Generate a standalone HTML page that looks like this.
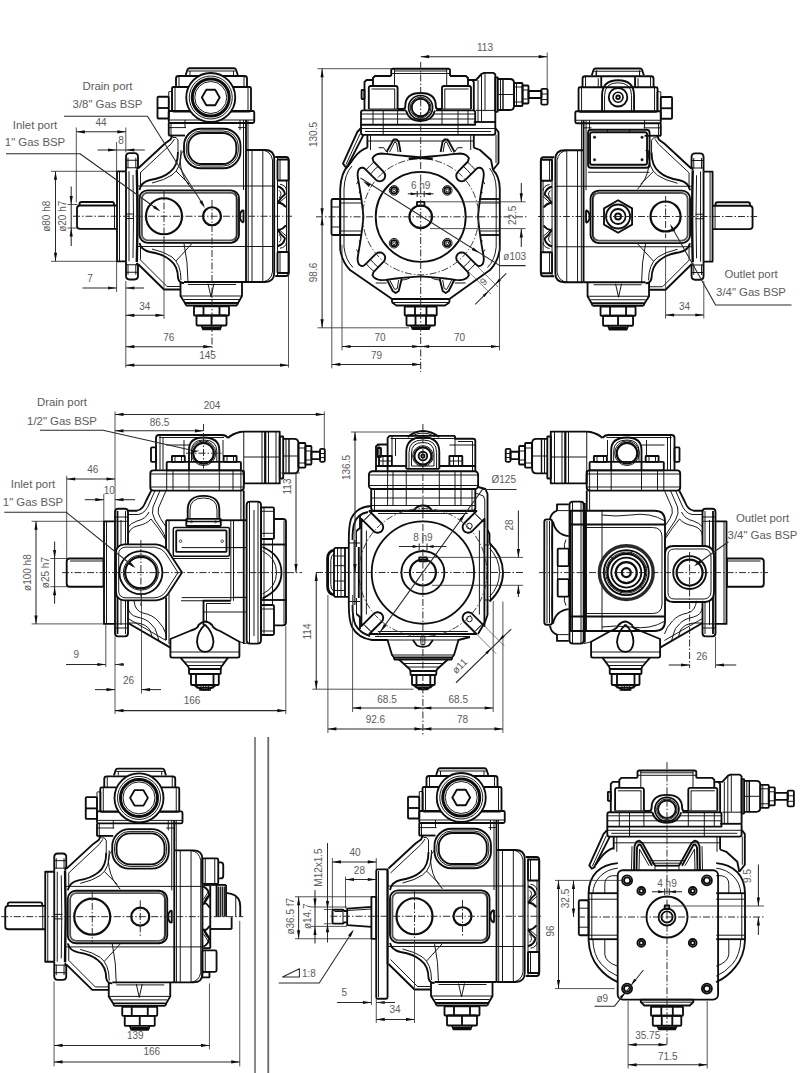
<!DOCTYPE html>
<html><head><meta charset="utf-8"><title>Pump dimensions</title>
<style>
html,body{margin:0;padding:0;background:#fff;}
body{width:800px;height:1073px;overflow:hidden;}
svg{display:block;font-family:"Liberation Sans",sans-serif;}
</style></head><body>
<svg width="800" height="1073" viewBox="0 0 800 1073">
<rect width="800" height="1073" fill="#fff"/>
<path d="M 185.7 75.0 L 187.5 69.5 Q 188.0 68.25 189.5 68.25 L 234.0 68.25 Q 235.5 68.25 236.0 69.5 L 237.75 75.0" fill="none" stroke="#0d0d0d" stroke-width="1.85" stroke-linejoin="round"/>
<line x1="188" y1="71" x2="235.5" y2="71" stroke="#0d0d0d" stroke-width="0.95"/>
<line x1="190" y1="71" x2="190" y2="75" stroke="#0d0d0d" stroke-width="0.95"/>
<line x1="233.5" y1="71" x2="233.5" y2="75" stroke="#0d0d0d" stroke-width="0.95"/>
<path d="M 176.0 87.0 L 176.0 78.5 Q 176.0 76.0 178.5 76.0 L 244.5 76.0 Q 247.0 76.0 247.0 78.5 L 247.0 87.0" fill="none" stroke="#0d0d0d" stroke-width="1.85" stroke-linejoin="round"/>
<line x1="179" y1="76" x2="179" y2="87" stroke="#0d0d0d" stroke-width="0.95"/>
<line x1="244" y1="76" x2="244" y2="87" stroke="#0d0d0d" stroke-width="0.95"/>
<rect x="172" y="87" width="79" height="24.5" rx="1.5" fill="none" stroke="#0d0d0d" stroke-width="1.85"/>
<line x1="175" y1="87" x2="175" y2="111" stroke="#0d0d0d" stroke-width="0.95"/>
<line x1="248" y1="87" x2="248" y2="111" stroke="#0d0d0d" stroke-width="0.95"/>
<rect x="168.75" y="111" width="85.5" height="12" rx="1.5" fill="none" stroke="#0d0d0d" stroke-width="1.85"/>
<line x1="168.75" y1="120" x2="254.25" y2="120" stroke="#0d0d0d" stroke-width="0.95"/>
<circle cx="210.75" cy="97.5" r="24.5" fill="#fff" stroke="#0d0d0d" stroke-width="1.85"/>
<circle cx="210.75" cy="97.5" r="21.5" fill="none" stroke="#0d0d0d" stroke-width="0.95"/>
<circle cx="210.75" cy="97.5" r="18.5" fill="none" stroke="#0d0d0d" stroke-width="3"/>
<circle cx="210.75" cy="97.5" r="16" fill="none" stroke="#0d0d0d" stroke-width="0.95"/>
<polygon points="219.65,97.5 215.2,105.21 206.3,105.21 201.85,97.5 206.3,89.79 215.2,89.79" fill="none" stroke="#0d0d0d" stroke-width="1.85" stroke-linejoin="round"/>
<rect x="157.5" y="96.75" width="11.25" height="21.75" rx="1" fill="none" stroke="#0d0d0d" stroke-width="1.85"/>
<line x1="157.5" y1="108" x2="168.75" y2="108" stroke="#0d0d0d" stroke-width="1.85"/>
<rect x="168.75" y="91.5" width="3.75" height="19.5" rx="0.5" fill="none" stroke="#0d0d0d" stroke-width="0.95"/>
<line x1="168.75" y1="123" x2="168.75" y2="135.5" stroke="#0d0d0d" stroke-width="1.85"/>
<line x1="171" y1="123" x2="171" y2="137" stroke="#0d0d0d" stroke-width="0.95"/>
<line x1="246" y1="120" x2="246" y2="150" stroke="#0d0d0d" stroke-width="1.85"/>
<line x1="243.5" y1="120" x2="243.5" y2="190" stroke="#0d0d0d" stroke-width="0.95"/>
<line x1="248" y1="120" x2="248" y2="150" stroke="#0d0d0d" stroke-width="0.95"/>
<line x1="168.5" y1="127.6" x2="186" y2="127.6" stroke="#0d0d0d" stroke-width="0.95"/>
<line x1="238" y1="127.6" x2="246" y2="127.6" stroke="#0d0d0d" stroke-width="0.95"/>
<line x1="168.5" y1="135.5" x2="185" y2="135.5" stroke="#0d0d0d" stroke-width="1.85"/>
<line x1="185" y1="120" x2="185" y2="128" stroke="#0d0d0d" stroke-width="0.95"/>
<line x1="240" y1="120" x2="240" y2="130" stroke="#0d0d0d" stroke-width="0.95"/>
<rect x="184" y="128.75" width="56.5" height="39.5" rx="17" fill="none" stroke="#0d0d0d" stroke-width="1.85"/>
<rect x="186.3" y="131" width="52" height="35" rx="15" fill="none" stroke="#0d0d0d" stroke-width="0.95"/>
<rect x="188.3" y="133" width="48" height="31" rx="13.5" fill="none" stroke="#0d0d0d" stroke-width="1.85"/>
<path d="M 138.0 168.5 L 165.0 143.5 L 170.5 139.5 L 172.5 135.5" fill="none" stroke="#0d0d0d" stroke-width="1.85" stroke-linejoin="round"/>
<path d="M 174.5 139.0 L 171.0 144.0 L 140.0 173.0" fill="none" stroke="#0d0d0d" stroke-width="0.95" stroke-linejoin="round"/>
<path d="M 173.0 137.5 L 176.0 137.5 L 178.0 140.0 L 178.0 152.0" fill="none" stroke="#0d0d0d" stroke-width="0.95" stroke-linejoin="round"/>
<path d="M 178.0 152.0 Q 178.0 166.0 170.0 172.0 Q 163.0 178.0 150.0 180.0 Q 141.0 182.0 139.5 190.0" fill="none" stroke="#0d0d0d" stroke-width="1.85" stroke-linejoin="round"/>
<path d="M 181.0 150.0 Q 182.0 168.0 172.0 175.0 Q 165.0 180.0 152.0 183.0" fill="none" stroke="#0d0d0d" stroke-width="0.95" stroke-linejoin="round"/>
<path d="M 184.0 150.0 Q 180.0 153.0 180.0 160.0 Q 181.0 175.0 188.0 184.0 L 192.0 189.0" fill="none" stroke="#0d0d0d" stroke-width="0.95" stroke-linejoin="round"/>
<path d="M 176.0 171.0 L 189.0 184.0" fill="none" stroke="#0d0d0d" stroke-width="0.95" stroke-linejoin="round"/>
<path d="M 246.0 150.0 L 265.0 150.0 Q 274.2 150.0 274.2 159.0 L 274.2 273.0 Q 274.2 282.0 265.0 282.0 L 246.0 282.0" fill="none" stroke="#0d0d0d" stroke-width="1.85" stroke-linejoin="round"/>
<line x1="246" y1="150" x2="246" y2="282" stroke="#0d0d0d" stroke-width="1.85"/>
<line x1="248.2" y1="150" x2="248.2" y2="282" stroke="#0d0d0d" stroke-width="0.95"/>
<line x1="252" y1="150" x2="252" y2="282" stroke="#0d0d0d" stroke-width="0.95"/>
<line x1="262.8" y1="150" x2="262.8" y2="282" stroke="#0d0d0d" stroke-width="0.95"/>
<path d="M 262.0 150.0 Q 271.0 151.0 272.5 160.0 L 272.5 272.0 Q 271.0 281.0 262.0 282.0" fill="none" stroke="#0d0d0d" stroke-width="0.95" stroke-linejoin="round"/>
<rect x="139.5" y="190.3" width="99.5" height="52.5" rx="8" fill="none" stroke="#0d0d0d" stroke-width="1.85"/>
<rect x="141.9" y="192.7" width="94.7" height="47.7" rx="6" fill="none" stroke="#555" stroke-width="1.85"/>
<path d="M 230.0 190.3 Q 237.0 191.0 237.0 199.0 L 237.0 234.0 Q 237.0 242.0 230.0 242.8" fill="none" stroke="#0d0d0d" stroke-width="0.95" stroke-linejoin="round"/>
<line x1="137" y1="186" x2="274" y2="186" stroke="#0d0d0d" stroke-width="0.95"/>
<line x1="137" y1="246.5" x2="274" y2="246.5" stroke="#0d0d0d" stroke-width="0.95"/>
<circle cx="164" cy="216.25" r="18" fill="none" stroke="#0d0d0d" stroke-width="2.2"/>
<circle cx="212" cy="216.25" r="9" fill="none" stroke="#0d0d0d" stroke-width="2.2"/>
<path d="M 243.5 210.0 Q 240.0 211.0 240.0 216.25 Q 240.0 221.5 243.5 222.5" fill="none" stroke="#0d0d0d" stroke-width="1.85" stroke-linejoin="round"/>
<line x1="243.5" y1="210" x2="243.5" y2="222.5" stroke="#0d0d0d" stroke-width="1.85"/>
<path d="M 138.0 264.0 L 164.0 289.5 L 180.5 289.5" fill="none" stroke="#0d0d0d" stroke-width="1.85" stroke-linejoin="round"/>
<path d="M 140.0 259.5 L 167.0 286.5 L 180.0 286.5" fill="none" stroke="#0d0d0d" stroke-width="0.95" stroke-linejoin="round"/>
<path d="M 139.5 243.0 Q 141.0 250.0 150.0 252.0 Q 163.0 254.0 170.0 260.0 Q 178.0 266.0 178.0 278.0 Q 179.0 283.0 184.0 283.0" fill="none" stroke="#0d0d0d" stroke-width="1.85" stroke-linejoin="round"/>
<path d="M 152.0 249.0 Q 165.0 252.0 172.0 257.0 Q 181.0 264.0 181.0 280.0" fill="none" stroke="#0d0d0d" stroke-width="0.95" stroke-linejoin="round"/>
<path d="M 176.0 261.0 Q 186.0 250.0 192.0 243.5" fill="none" stroke="#0d0d0d" stroke-width="0.95" stroke-linejoin="round"/>
<path d="M 184.0 243.5 Q 188.0 262.0 188.0 283.0" fill="none" stroke="#0d0d0d" stroke-width="0.95" stroke-linejoin="round"/>
<line x1="184" y1="282" x2="246" y2="282" stroke="#0d0d0d" stroke-width="1.85"/>
<line x1="188" y1="284.5" x2="236" y2="284.5" stroke="#0d0d0d" stroke-width="0.95"/>
<path d="M 180.5 282.5 L 180.5 296.0 L 185.0 303.0 L 238.0 303.0 L 242.0 296.0 L 242.0 282.5" fill="none" stroke="#0d0d0d" stroke-width="1.85" stroke-linejoin="round"/>
<line x1="180.5" y1="296" x2="242" y2="296" stroke="#0d0d0d" stroke-width="0.95"/>
<line x1="184" y1="299.5" x2="239" y2="299.5" stroke="#0d0d0d" stroke-width="0.95"/>
<line x1="186" y1="305.5" x2="237" y2="305.5" stroke="#0d0d0d" stroke-width="1.85"/>
<line x1="185" y1="303" x2="186" y2="305.5" stroke="#0d0d0d" stroke-width="1.85"/>
<line x1="238" y1="303" x2="237" y2="305.5" stroke="#0d0d0d" stroke-width="1.85"/>
<polyline points="208,283.5 211,297 214,283.5" fill="none" stroke="#0d0d0d" stroke-width="0.95" stroke-linejoin="round"/>
<rect x="194" y="306.3" width="35" height="9.2" rx="0.8" fill="none" stroke="#0d0d0d" stroke-width="1.85"/>
<line x1="203.5" y1="306.3" x2="203.5" y2="315.5" stroke="#0d0d0d" stroke-width="1.85"/>
<line x1="219.5" y1="306.3" x2="219.5" y2="315.5" stroke="#0d0d0d" stroke-width="1.85"/>
<rect x="196.5" y="315.5" width="30" height="10" rx="1" fill="none" stroke="#0d0d0d" stroke-width="1.85"/>
<line x1="211.5" y1="315.5" x2="211.5" y2="325.5" stroke="#0d0d0d" stroke-width="1.85"/>
<path d="M 201.5 325.5 L 203.0 329.3 L 220.0 329.3 L 221.5 325.5" fill="none" stroke="#0d0d0d" stroke-width="1.85" stroke-linejoin="round"/>
<line x1="203" y1="327.8" x2="220" y2="327.8" stroke="#0d0d0d" stroke-width="2.4"/>
<line x1="200" y1="305.5" x2="200" y2="306.3" stroke="#0d0d0d" stroke-width="0.95"/>
<line x1="223" y1="305.5" x2="223" y2="306.3" stroke="#0d0d0d" stroke-width="0.95"/>
<path d="M 275.2 157.0 L 286.0 157.0 Q 288.7 157.0 288.7 160.0 L 288.7 273.0 Q 288.7 276.0 286.0 276.0 L 275.2 276.0" fill="none" stroke="#0d0d0d" stroke-width="1.85" stroke-linejoin="round"/>
<line x1="277.5" y1="157" x2="277.5" y2="276" stroke="#0d0d0d" stroke-width="0.95"/>
<rect x="277.5" y="159.5" width="11.2" height="21" rx="1" fill="none" stroke="#0d0d0d" stroke-width="1.85"/>
<line x1="280" y1="159.5" x2="280" y2="180.5" stroke="#0d0d0d" stroke-width="0.95"/>
<rect x="277.5" y="252" width="11.2" height="21" rx="1" fill="none" stroke="#0d0d0d" stroke-width="1.85"/>
<line x1="280" y1="252" x2="280" y2="273" stroke="#0d0d0d" stroke-width="0.95"/>
<line x1="286.5" y1="180.5" x2="286.5" y2="252" stroke="#0d0d0d" stroke-width="0.95"/>
<path d="M 277.5 186.25 Q 284.0 188.25 285.0 194.25 Q 281.0 197.25 278.0 202.25 Q 283.0 203.25 286.0 207.25" fill="none" stroke="#0d0d0d" stroke-width="1.85" stroke-linejoin="round"/>
<path d="M 279.0 190.25 Q 283.0 193.25 279.0 198.25" fill="none" stroke="#0d0d0d" stroke-width="0.95" stroke-linejoin="round"/>
<path d="M 277.5 204.25 L 286.5 196.25" fill="none" stroke="#0d0d0d" stroke-width="0.95" stroke-linejoin="round"/>
<path d="M 280.0 184.25 Q 286.0 185.25 286.5 190.25" fill="none" stroke="#0d0d0d" stroke-width="0.95" stroke-linejoin="round"/>
<path d="M 277.5 246.25 Q 284.0 244.25 285.0 238.25 Q 281.0 235.25 278.0 230.25 Q 283.0 229.25 286.0 225.25" fill="none" stroke="#0d0d0d" stroke-width="1.85" stroke-linejoin="round"/>
<path d="M 279.0 242.25 Q 283.0 239.25 279.0 234.25" fill="none" stroke="#0d0d0d" stroke-width="0.95" stroke-linejoin="round"/>
<path d="M 277.5 228.25 L 286.5 236.25" fill="none" stroke="#0d0d0d" stroke-width="0.95" stroke-linejoin="round"/>
<path d="M 280.0 248.25 Q 286.0 247.25 286.5 242.25" fill="none" stroke="#0d0d0d" stroke-width="0.95" stroke-linejoin="round"/>
<path d="M 117.0 205.5 L 80.0 205.5 Q 77.0 205.5 77.0 208.5 L 77.0 226.0 Q 77.0 228.8 80.0 228.8 L 117.0 228.8" fill="none" stroke="#0d0d0d" stroke-width="1.85" stroke-linejoin="round"/>
<path d="M 79.5 205.5 L 79.5 204.0 Q 79.5 202.0 81.5 202.0 L 112.0 202.0 Q 114.0 202.0 114.0 204.0 L 114.0 205.5" fill="none" stroke="#0d0d0d" stroke-width="1.85" stroke-linejoin="round"/>
<line x1="114.5" y1="205.5" x2="114.5" y2="228.8" stroke="#0d0d0d" stroke-width="0.95"/>
<polyline points="126,171.3 117,171.3 117,261.3 126,261.3" fill="none" stroke="#0d0d0d" stroke-width="1.85" stroke-linejoin="round"/>
<line x1="119.5" y1="171.3" x2="119.5" y2="261.3" stroke="#0d0d0d" stroke-width="0.95"/>
<line x1="126" y1="171.3" x2="126" y2="261.3" stroke="#0d0d0d" stroke-width="1.85"/>
<line x1="129" y1="171.3" x2="129" y2="261.3" stroke="#0d0d0d" stroke-width="0.95"/>
<path d="M 133.0 175.0 Q 134.0 216.0 133.0 258.0" fill="none" stroke="#0d0d0d" stroke-width="0.95" stroke-linejoin="round"/>
<path d="M 136.8 170.0 Q 138.0 216.0 136.8 262.0" fill="none" stroke="#0d0d0d" stroke-width="2.4" stroke-linejoin="round"/>
<line x1="126" y1="214" x2="134" y2="214" stroke="#0d0d0d" stroke-width="0.95"/>
<line x1="126" y1="218.5" x2="134" y2="218.5" stroke="#0d0d0d" stroke-width="0.95"/>
<path d="M 126.0 171.25 L 126.0 156.75 Q 126.0 153.05 129.5 153.05 L 134.5 153.05 Q 138.0 153.05 138.0 156.75 L 138.0 166.25 L 136.8 169.75" fill="none" stroke="#0d0d0d" stroke-width="1.85" stroke-linejoin="round"/>
<line x1="128" y1="157.75" x2="128" y2="168.25" stroke="#0d0d0d" stroke-width="0.95"/>
<line x1="135.8" y1="157.75" x2="135.8" y2="168.25" stroke="#0d0d0d" stroke-width="0.95"/>
<line x1="126" y1="160.25" x2="138" y2="160.25" stroke="#0d0d0d" stroke-width="0.95"/>
<line x1="126" y1="167.75" x2="138" y2="167.75" stroke="#0d0d0d" stroke-width="0.95"/>
<path d="M 126.0 261.25 L 126.0 275.75 Q 126.0 279.45 129.5 279.45 L 134.5 279.45 Q 138.0 279.45 138.0 275.75 L 138.0 266.25 L 136.8 262.75" fill="none" stroke="#0d0d0d" stroke-width="1.85" stroke-linejoin="round"/>
<line x1="128" y1="274.75" x2="128" y2="264.25" stroke="#0d0d0d" stroke-width="0.95"/>
<line x1="135.8" y1="274.75" x2="135.8" y2="264.25" stroke="#0d0d0d" stroke-width="0.95"/>
<line x1="126" y1="272.25" x2="138" y2="272.25" stroke="#0d0d0d" stroke-width="0.95"/>
<line x1="126" y1="264.75" x2="138" y2="264.75" stroke="#0d0d0d" stroke-width="0.95"/>
<line x1="140.5" y1="173" x2="140.5" y2="188" stroke="#0d0d0d" stroke-width="0.95"/>
<line x1="140.5" y1="244" x2="140.5" y2="259.5" stroke="#0d0d0d" stroke-width="0.95"/>
<line x1="73" y1="216.25" x2="292" y2="216.25" stroke="#222" stroke-width="0.95" stroke-dasharray="7 2 1.5 2"/>
<line x1="164" y1="190" x2="164" y2="243" stroke="#222" stroke-width="0.95" stroke-dasharray="7 2 1.5 2"/>
<line x1="212" y1="200" x2="212" y2="352" stroke="#222" stroke-width="0.95" stroke-dasharray="7 2 1.5 2"/>
<text x="107.5" y="89.5" font-size="11.4" text-anchor="middle" fill="#5c5c5c">Drain port</text>
<text x="107.5" y="108" font-size="11.4" text-anchor="middle" fill="#5c5c5c">3/8" Gas BSP</text>
<text x="35" y="128.7" font-size="11.4" text-anchor="middle" fill="#5c5c5c">Inlet port</text>
<text x="35" y="146.3" font-size="11.4" text-anchor="middle" fill="#5c5c5c">1" Gas BSP</text>
<polyline points="64,116.3 147.5,116.3 203.5,205.5" fill="none" stroke="#2a2a2a" stroke-width="1.05" stroke-linejoin="round"/>
<polygon points="205,208 199.4,202.06 202.12,200.37" fill="#0d0d0d"/>
<polyline points="6,153.7 80,153.7 158.5,210" fill="none" stroke="#2a2a2a" stroke-width="1.05" stroke-linejoin="round"/>
<polygon points="160.5,211.5 153.09,208.09 154.97,205.5" fill="#0d0d0d"/>
<line x1="76.3" y1="127.5" x2="76.3" y2="202.5" stroke="#2a2a2a" stroke-width="0.8"/>
<line x1="125.8" y1="127.5" x2="125.8" y2="152.5" stroke="#2a2a2a" stroke-width="0.8"/>
<line x1="76.3" y1="131.8" x2="125.8" y2="131.8" stroke="#2a2a2a" stroke-width="1.05"/>
<polygon points="76.3,131.8 84.8,130.2 84.8,133.4" fill="#0d0d0d"/>
<polygon points="125.8,131.8 117.3,133.4 117.3,130.2" fill="#0d0d0d"/>
<text x="101" y="125.5" font-size="10" text-anchor="middle" fill="#5c5c5c">44</text>
<line x1="116.6" y1="142" x2="116.6" y2="171" stroke="#2a2a2a" stroke-width="0.8"/>
<line x1="97.6" y1="150" x2="144.8" y2="150" stroke="#2a2a2a" stroke-width="1.05"/>
<polygon points="116.6,150 108.1,151.6 108.1,148.4" fill="#0d0d0d"/>
<polygon points="125.8,150 134.3,148.4 134.3,151.6" fill="#0d0d0d"/>
<text x="121" y="144.3" font-size="10" text-anchor="middle" fill="#5c5c5c">8</text>
<line x1="51" y1="171.3" x2="116.5" y2="171.3" stroke="#2a2a2a" stroke-width="0.8"/>
<line x1="51" y1="261.3" x2="116.5" y2="261.3" stroke="#2a2a2a" stroke-width="0.8"/>
<line x1="55.5" y1="171.3" x2="55.5" y2="261.3" stroke="#2a2a2a" stroke-width="1.05"/>
<polygon points="55.5,171.3 57.1,179.8 53.9,179.8" fill="#0d0d0d"/>
<polygon points="55.5,261.3 53.9,252.8 57.1,252.8" fill="#0d0d0d"/>
<text x="50" y="216.25" font-size="10" text-anchor="middle" fill="#5c5c5c" transform="rotate(-90 50 216.25)">ø80 h8</text>
<line x1="67.5" y1="204.5" x2="77.5" y2="204.5" stroke="#2a2a2a" stroke-width="0.8"/>
<line x1="67.5" y1="228" x2="77.5" y2="228" stroke="#2a2a2a" stroke-width="0.8"/>
<line x1="71.2" y1="186.5" x2="71.2" y2="246" stroke="#2a2a2a" stroke-width="1.05"/>
<polygon points="71.2,204.5 69.6,196.0 72.8,196.0" fill="#0d0d0d"/>
<polygon points="71.2,228 72.8,236.5 69.6,236.5" fill="#0d0d0d"/>
<text x="65.5" y="216.25" font-size="10" text-anchor="middle" fill="#5c5c5c" transform="rotate(-90 65.5 216.25)">ø20 h7</text>
<line x1="116.6" y1="262" x2="116.6" y2="292" stroke="#2a2a2a" stroke-width="0.8"/>
<line x1="125.8" y1="281" x2="125.8" y2="367.6" stroke="#2a2a2a" stroke-width="0.8"/>
<polygon points="116.6,288 108.1,289.6 108.1,286.4" fill="#0d0d0d"/>
<polygon points="125.8,288 134.3,286.4 134.3,289.6" fill="#0d0d0d"/>
<line x1="82.5" y1="288" x2="116.6" y2="288" stroke="#2a2a2a" stroke-width="1.05"/>
<line x1="125.8" y1="288" x2="144" y2="288" stroke="#2a2a2a" stroke-width="1.05"/>
<text x="90" y="281.5" font-size="10" text-anchor="middle" fill="#5c5c5c">7</text>
<line x1="164" y1="237" x2="164" y2="319" stroke="#2a2a2a" stroke-width="0.8"/>
<line x1="125.8" y1="315.3" x2="164" y2="315.3" stroke="#2a2a2a" stroke-width="1.05"/>
<polygon points="125.8,315.3 134.3,313.7 134.3,316.9" fill="#0d0d0d"/>
<polygon points="164,315.3 155.5,316.9 155.5,313.7" fill="#0d0d0d"/>
<text x="144.8" y="309.6" font-size="10" text-anchor="middle" fill="#5c5c5c">34</text>
<line x1="125.8" y1="346.7" x2="211.8" y2="346.7" stroke="#2a2a2a" stroke-width="1.05"/>
<polygon points="125.8,346.7 134.3,345.1 134.3,348.3" fill="#0d0d0d"/>
<polygon points="211.8,346.7 203.3,348.3 203.3,345.1" fill="#0d0d0d"/>
<text x="168.8" y="340.6" font-size="10" text-anchor="middle" fill="#5c5c5c">76</text>
<line x1="288.5" y1="274" x2="288.5" y2="367.6" stroke="#2a2a2a" stroke-width="0.8"/>
<line x1="125.8" y1="365.2" x2="288.5" y2="365.2" stroke="#2a2a2a" stroke-width="1.05"/>
<polygon points="125.8,365.2 134.3,363.6 134.3,366.8" fill="#0d0d0d"/>
<polygon points="288.5,365.2 280.0,366.8 280.0,363.6" fill="#0d0d0d"/>
<text x="207.5" y="358.8" font-size="10" text-anchor="middle" fill="#5c5c5c">145</text>
<path d="M 113.95 775.4 L 115.75 769.9 Q 116.25 768.65 117.75 768.65 L 162.25 768.65 Q 163.75 768.65 164.25 769.9 L 166.0 775.4" fill="none" stroke="#0d0d0d" stroke-width="1.85" stroke-linejoin="round"/>
<line x1="116.25" y1="771.4" x2="163.75" y2="771.4" stroke="#0d0d0d" stroke-width="0.95"/>
<line x1="118.25" y1="771.4" x2="118.25" y2="775.4" stroke="#0d0d0d" stroke-width="0.95"/>
<line x1="161.75" y1="771.4" x2="161.75" y2="775.4" stroke="#0d0d0d" stroke-width="0.95"/>
<path d="M 104.25 787.4 L 104.25 778.9 Q 104.25 776.4 106.75 776.4 L 172.75 776.4 Q 175.25 776.4 175.25 778.9 L 175.25 787.4" fill="none" stroke="#0d0d0d" stroke-width="1.85" stroke-linejoin="round"/>
<line x1="107.25" y1="776.4" x2="107.25" y2="787.4" stroke="#0d0d0d" stroke-width="0.95"/>
<line x1="172.25" y1="776.4" x2="172.25" y2="787.4" stroke="#0d0d0d" stroke-width="0.95"/>
<rect x="100.25" y="787.4" width="79" height="24.5" rx="1.5" fill="none" stroke="#0d0d0d" stroke-width="1.85"/>
<line x1="103.25" y1="787.4" x2="103.25" y2="811.4" stroke="#0d0d0d" stroke-width="0.95"/>
<line x1="176.25" y1="787.4" x2="176.25" y2="811.4" stroke="#0d0d0d" stroke-width="0.95"/>
<rect x="97.0" y="811.4" width="85.5" height="12" rx="1.5" fill="none" stroke="#0d0d0d" stroke-width="1.85"/>
<line x1="97.0" y1="820.4" x2="182.5" y2="820.4" stroke="#0d0d0d" stroke-width="0.95"/>
<circle cx="139.0" cy="797.9" r="24.5" fill="#fff" stroke="#0d0d0d" stroke-width="1.85"/>
<circle cx="139.0" cy="797.9" r="21.5" fill="none" stroke="#0d0d0d" stroke-width="0.95"/>
<circle cx="139.0" cy="797.9" r="18.5" fill="none" stroke="#0d0d0d" stroke-width="3"/>
<circle cx="139.0" cy="797.9" r="16" fill="none" stroke="#0d0d0d" stroke-width="0.95"/>
<polygon points="147.9,797.9 143.45,805.61 134.55,805.61 130.1,797.9 134.55,790.19 143.45,790.19" fill="none" stroke="#0d0d0d" stroke-width="1.85" stroke-linejoin="round"/>
<rect x="85.75" y="797.15" width="11.25" height="21.75" rx="1" fill="none" stroke="#0d0d0d" stroke-width="1.85"/>
<line x1="85.75" y1="808.4" x2="97.0" y2="808.4" stroke="#0d0d0d" stroke-width="1.85"/>
<rect x="97.0" y="791.9" width="3.75" height="19.5" rx="0.5" fill="none" stroke="#0d0d0d" stroke-width="0.95"/>
<line x1="97.0" y1="823.4" x2="97.0" y2="835.9" stroke="#0d0d0d" stroke-width="1.85"/>
<line x1="99.25" y1="823.4" x2="99.25" y2="837.4" stroke="#0d0d0d" stroke-width="0.95"/>
<line x1="174.25" y1="820.4" x2="174.25" y2="850.4" stroke="#0d0d0d" stroke-width="1.85"/>
<line x1="171.75" y1="820.4" x2="171.75" y2="890.4" stroke="#0d0d0d" stroke-width="0.95"/>
<line x1="176.25" y1="820.4" x2="176.25" y2="850.4" stroke="#0d0d0d" stroke-width="0.95"/>
<line x1="96.75" y1="828.0" x2="114.25" y2="828.0" stroke="#0d0d0d" stroke-width="0.95"/>
<line x1="166.25" y1="828.0" x2="174.25" y2="828.0" stroke="#0d0d0d" stroke-width="0.95"/>
<line x1="96.75" y1="835.9" x2="113.25" y2="835.9" stroke="#0d0d0d" stroke-width="1.85"/>
<line x1="113.25" y1="820.4" x2="113.25" y2="828.4" stroke="#0d0d0d" stroke-width="0.95"/>
<line x1="168.25" y1="820.4" x2="168.25" y2="830.4" stroke="#0d0d0d" stroke-width="0.95"/>
<rect x="112.25" y="829.15" width="56.5" height="39.5" rx="17" fill="none" stroke="#0d0d0d" stroke-width="1.85"/>
<rect x="114.55" y="831.4" width="52" height="35" rx="15" fill="none" stroke="#0d0d0d" stroke-width="0.95"/>
<rect x="116.55" y="833.4" width="48" height="31" rx="13.5" fill="none" stroke="#0d0d0d" stroke-width="1.85"/>
<path d="M 66.25 868.9 L 93.25 843.9 L 98.75 839.9 L 100.75 835.9" fill="none" stroke="#0d0d0d" stroke-width="1.85" stroke-linejoin="round"/>
<path d="M 102.75 839.4 L 99.25 844.4 L 68.25 873.4" fill="none" stroke="#0d0d0d" stroke-width="0.95" stroke-linejoin="round"/>
<path d="M 101.25 837.9 L 104.25 837.9 L 106.25 840.4 L 106.25 852.4" fill="none" stroke="#0d0d0d" stroke-width="0.95" stroke-linejoin="round"/>
<path d="M 106.25 852.4 Q 106.25 866.4 98.25 872.4 Q 91.25 878.4 78.25 880.4 Q 69.25 882.4 67.75 890.4" fill="none" stroke="#0d0d0d" stroke-width="1.85" stroke-linejoin="round"/>
<path d="M 109.25 850.4 Q 110.25 868.4 100.25 875.4 Q 93.25 880.4 80.25 883.4" fill="none" stroke="#0d0d0d" stroke-width="0.95" stroke-linejoin="round"/>
<path d="M 112.25 850.4 Q 108.25 853.4 108.25 860.4 Q 109.25 875.4 116.25 884.4 L 120.25 889.4" fill="none" stroke="#0d0d0d" stroke-width="0.95" stroke-linejoin="round"/>
<path d="M 104.25 871.4 L 117.25 884.4" fill="none" stroke="#0d0d0d" stroke-width="0.95" stroke-linejoin="round"/>
<path d="M 174.25 850.4 L 193.25 850.4 Q 202.45 850.4 202.45 859.4 L 202.45 973.4 Q 202.45 982.4 193.25 982.4 L 174.25 982.4" fill="none" stroke="#0d0d0d" stroke-width="1.85" stroke-linejoin="round"/>
<line x1="174.25" y1="850.4" x2="174.25" y2="982.4" stroke="#0d0d0d" stroke-width="1.85"/>
<line x1="176.45" y1="850.4" x2="176.45" y2="982.4" stroke="#0d0d0d" stroke-width="0.95"/>
<line x1="180.25" y1="850.4" x2="180.25" y2="982.4" stroke="#0d0d0d" stroke-width="0.95"/>
<line x1="191.05" y1="850.4" x2="191.05" y2="982.4" stroke="#0d0d0d" stroke-width="0.95"/>
<path d="M 190.25 850.4 Q 199.25 851.4 200.75 860.4 L 200.75 972.4 Q 199.25 981.4 190.25 982.4" fill="none" stroke="#0d0d0d" stroke-width="0.95" stroke-linejoin="round"/>
<rect x="67.75" y="890.7" width="99.5" height="52.5" rx="8" fill="none" stroke="#0d0d0d" stroke-width="1.85"/>
<rect x="70.15" y="893.1" width="94.7" height="47.7" rx="6" fill="none" stroke="#555" stroke-width="1.85"/>
<path d="M 158.25 890.7 Q 165.25 891.4 165.25 899.4 L 165.25 934.4 Q 165.25 942.4 158.25 943.2" fill="none" stroke="#0d0d0d" stroke-width="0.95" stroke-linejoin="round"/>
<line x1="65.25" y1="886.4" x2="202.25" y2="886.4" stroke="#0d0d0d" stroke-width="0.95"/>
<line x1="65.25" y1="946.9" x2="202.25" y2="946.9" stroke="#0d0d0d" stroke-width="0.95"/>
<circle cx="92.25" cy="916.65" r="18" fill="none" stroke="#0d0d0d" stroke-width="2.2"/>
<circle cx="140.25" cy="916.65" r="9" fill="none" stroke="#0d0d0d" stroke-width="2.2"/>
<path d="M 171.75 910.4 Q 168.25 911.4 168.25 916.65 Q 168.25 921.9 171.75 922.9" fill="none" stroke="#0d0d0d" stroke-width="1.85" stroke-linejoin="round"/>
<line x1="171.75" y1="910.4" x2="171.75" y2="922.9" stroke="#0d0d0d" stroke-width="1.85"/>
<path d="M 66.25 964.4 L 92.25 989.9 L 108.75 989.9" fill="none" stroke="#0d0d0d" stroke-width="1.85" stroke-linejoin="round"/>
<path d="M 68.25 959.9 L 95.25 986.9 L 108.25 986.9" fill="none" stroke="#0d0d0d" stroke-width="0.95" stroke-linejoin="round"/>
<path d="M 67.75 943.4 Q 69.25 950.4 78.25 952.4 Q 91.25 954.4 98.25 960.4 Q 106.25 966.4 106.25 978.4 Q 107.25 983.4 112.25 983.4" fill="none" stroke="#0d0d0d" stroke-width="1.85" stroke-linejoin="round"/>
<path d="M 80.25 949.4 Q 93.25 952.4 100.25 957.4 Q 109.25 964.4 109.25 980.4" fill="none" stroke="#0d0d0d" stroke-width="0.95" stroke-linejoin="round"/>
<path d="M 104.25 961.4 Q 114.25 950.4 120.25 943.9" fill="none" stroke="#0d0d0d" stroke-width="0.95" stroke-linejoin="round"/>
<path d="M 112.25 943.9 Q 116.25 962.4 116.25 983.4" fill="none" stroke="#0d0d0d" stroke-width="0.95" stroke-linejoin="round"/>
<line x1="112.25" y1="982.4" x2="174.25" y2="982.4" stroke="#0d0d0d" stroke-width="1.85"/>
<line x1="116.25" y1="984.9" x2="164.25" y2="984.9" stroke="#0d0d0d" stroke-width="0.95"/>
<path d="M 108.75 982.9 L 108.75 996.4 L 113.25 1003.4 L 166.25 1003.4 L 170.25 996.4 L 170.25 982.9" fill="none" stroke="#0d0d0d" stroke-width="1.85" stroke-linejoin="round"/>
<line x1="108.75" y1="996.4" x2="170.25" y2="996.4" stroke="#0d0d0d" stroke-width="0.95"/>
<line x1="112.25" y1="999.9" x2="167.25" y2="999.9" stroke="#0d0d0d" stroke-width="0.95"/>
<line x1="114.25" y1="1005.9" x2="165.25" y2="1005.9" stroke="#0d0d0d" stroke-width="1.85"/>
<line x1="113.25" y1="1003.4" x2="114.25" y2="1005.9" stroke="#0d0d0d" stroke-width="1.85"/>
<line x1="166.25" y1="1003.4" x2="165.25" y2="1005.9" stroke="#0d0d0d" stroke-width="1.85"/>
<polyline points="136.25,983.9 139.25,997.4 142.25,983.9" fill="none" stroke="#0d0d0d" stroke-width="0.95" stroke-linejoin="round"/>
<rect x="122.25" y="1006.7" width="35" height="9.2" rx="0.8" fill="none" stroke="#0d0d0d" stroke-width="1.85"/>
<line x1="131.75" y1="1006.7" x2="131.75" y2="1015.9" stroke="#0d0d0d" stroke-width="1.85"/>
<line x1="147.75" y1="1006.7" x2="147.75" y2="1015.9" stroke="#0d0d0d" stroke-width="1.85"/>
<rect x="124.75" y="1015.9" width="30" height="10" rx="1" fill="none" stroke="#0d0d0d" stroke-width="1.85"/>
<line x1="139.75" y1="1015.9" x2="139.75" y2="1025.9" stroke="#0d0d0d" stroke-width="1.85"/>
<path d="M 129.75 1025.9 L 131.25 1029.7 L 148.25 1029.7 L 149.75 1025.9" fill="none" stroke="#0d0d0d" stroke-width="1.85" stroke-linejoin="round"/>
<line x1="131.25" y1="1028.2" x2="148.25" y2="1028.2" stroke="#0d0d0d" stroke-width="2.4"/>
<line x1="128.25" y1="1005.9" x2="128.25" y2="1006.7" stroke="#0d0d0d" stroke-width="0.95"/>
<line x1="151.25" y1="1005.9" x2="151.25" y2="1006.7" stroke="#0d0d0d" stroke-width="0.95"/>
<line x1="210.25" y1="885.4" x2="210.25" y2="948.4" stroke="#0d0d0d" stroke-width="1.85"/>
<line x1="202.25" y1="857.4" x2="202.25" y2="977.4" stroke="#0d0d0d" stroke-width="0.95"/>
<rect x="202.25" y="858.4" width="16" height="25.5" rx="1.5" fill="none" stroke="#0d0d0d" stroke-width="1.85"/>
<line x1="205.25" y1="858.4" x2="205.25" y2="883.9" stroke="#0d0d0d" stroke-width="0.95"/>
<line x1="214.75" y1="858.4" x2="214.75" y2="883.9" stroke="#0d0d0d" stroke-width="0.95"/>
<path d="M 218.25 862.4 L 220.75 862.4 Q 223.25 862.4 223.25 865.4 L 223.25 875.4 Q 223.25 878.4 220.75 878.4 L 218.25 878.4" fill="none" stroke="#0d0d0d" stroke-width="1.85" stroke-linejoin="round"/>
<rect x="202.25" y="950.4" width="14.3" height="21.4" rx="1.5" fill="none" stroke="#0d0d0d" stroke-width="1.85"/>
<line x1="205.25" y1="950.4" x2="205.25" y2="971.8" stroke="#0d0d0d" stroke-width="0.95"/>
<rect x="202.25" y="971.8" width="7.2" height="5.6" rx="0.5" fill="none" stroke="#0d0d0d" stroke-width="1.85"/>
<path d="M 203.25 886.65 Q 208.25 888.65 209.25 894.65 Q 206.25 897.65 204.25 902.65 Q 207.25 903.65 209.75 907.65" fill="none" stroke="#0d0d0d" stroke-width="1.85" stroke-linejoin="round"/>
<path d="M 203.25 904.65 L 209.75 894.65" fill="none" stroke="#0d0d0d" stroke-width="1.85" stroke-linejoin="round"/>
<path d="M 203.25 899.65 L 209.75 889.65" fill="none" stroke="#0d0d0d" stroke-width="0.95" stroke-linejoin="round"/>
<line x1="203.25" y1="885.15" x2="210.25" y2="885.15" stroke="#0d0d0d" stroke-width="1.85"/>
<path d="M 203.25 946.65 Q 208.25 944.65 209.25 938.65 Q 206.25 935.65 204.25 930.65 Q 207.25 929.65 209.75 925.65" fill="none" stroke="#0d0d0d" stroke-width="1.85" stroke-linejoin="round"/>
<path d="M 203.25 928.65 L 209.75 938.65" fill="none" stroke="#0d0d0d" stroke-width="1.85" stroke-linejoin="round"/>
<path d="M 203.25 933.65 L 209.75 943.65" fill="none" stroke="#0d0d0d" stroke-width="0.95" stroke-linejoin="round"/>
<line x1="203.25" y1="948.15" x2="210.25" y2="948.15" stroke="#0d0d0d" stroke-width="1.85"/>
<line x1="210.25" y1="884.9" x2="226.05" y2="884.9" stroke="#0d0d0d" stroke-width="1.85"/>
<line x1="226.05" y1="884.9" x2="226.05" y2="916.8" stroke="#0d0d0d" stroke-width="1.85"/>
<line x1="216.55" y1="884.9" x2="216.55" y2="916.8" stroke="#0d0d0d" stroke-width="1.85"/>
<line x1="218.25" y1="886.4" x2="218.25" y2="916.8" stroke="#0d0d0d" stroke-width="1.3"/>
<line x1="220.25" y1="886.4" x2="220.25" y2="916.8" stroke="#0d0d0d" stroke-width="1.3"/>
<line x1="222.25" y1="886.4" x2="222.25" y2="916.8" stroke="#0d0d0d" stroke-width="1.3"/>
<line x1="224.25" y1="886.4" x2="224.25" y2="916.8" stroke="#0d0d0d" stroke-width="1.3"/>
<path d="M 226.05 892.9 L 231.25 893.9 Q 240.25 896.4 240.25 906.4 L 240.25 916.8" fill="none" stroke="#0d0d0d" stroke-width="1.85" stroke-linejoin="round"/>
<line x1="235.75" y1="896.4" x2="235.75" y2="916.8" stroke="#0d0d0d" stroke-width="0.95"/>
<line x1="210.25" y1="929.0" x2="231.65" y2="929.0" stroke="#0d0d0d" stroke-width="1.85"/>
<line x1="231.65" y1="917.2" x2="231.65" y2="929.0" stroke="#0d0d0d" stroke-width="1.85"/>
<path d="M 45.25 905.9 L 8.25 905.9 Q 5.25 905.9 5.25 908.9 L 5.25 926.4 Q 5.25 929.2 8.25 929.2 L 45.25 929.2" fill="none" stroke="#0d0d0d" stroke-width="1.85" stroke-linejoin="round"/>
<path d="M 7.75 905.9 L 7.75 904.4 Q 7.75 902.4 9.75 902.4 L 40.25 902.4 Q 42.25 902.4 42.25 904.4 L 42.25 905.9" fill="none" stroke="#0d0d0d" stroke-width="1.85" stroke-linejoin="round"/>
<line x1="42.75" y1="905.9" x2="42.75" y2="929.2" stroke="#0d0d0d" stroke-width="0.95"/>
<polyline points="54.25,871.7 45.25,871.7 45.25,961.7 54.25,961.7" fill="none" stroke="#0d0d0d" stroke-width="1.85" stroke-linejoin="round"/>
<line x1="47.75" y1="871.7" x2="47.75" y2="961.7" stroke="#0d0d0d" stroke-width="0.95"/>
<line x1="54.25" y1="871.7" x2="54.25" y2="961.7" stroke="#0d0d0d" stroke-width="1.85"/>
<line x1="57.25" y1="871.7" x2="57.25" y2="961.7" stroke="#0d0d0d" stroke-width="0.95"/>
<path d="M 61.25 875.4 Q 62.25 916.4 61.25 958.4" fill="none" stroke="#0d0d0d" stroke-width="0.95" stroke-linejoin="round"/>
<path d="M 65.05 870.4 Q 66.25 916.4 65.05 962.4" fill="none" stroke="#0d0d0d" stroke-width="2.4" stroke-linejoin="round"/>
<line x1="54.25" y1="914.4" x2="62.25" y2="914.4" stroke="#0d0d0d" stroke-width="0.95"/>
<line x1="54.25" y1="918.9" x2="62.25" y2="918.9" stroke="#0d0d0d" stroke-width="0.95"/>
<path d="M 54.25 871.65 L 54.25 857.15 Q 54.25 853.45 57.75 853.45 L 62.75 853.45 Q 66.25 853.45 66.25 857.15 L 66.25 866.65 L 65.05 870.15" fill="none" stroke="#0d0d0d" stroke-width="1.85" stroke-linejoin="round"/>
<line x1="56.25" y1="858.15" x2="56.25" y2="868.65" stroke="#0d0d0d" stroke-width="0.95"/>
<line x1="64.05" y1="858.15" x2="64.05" y2="868.65" stroke="#0d0d0d" stroke-width="0.95"/>
<line x1="54.25" y1="860.65" x2="66.25" y2="860.65" stroke="#0d0d0d" stroke-width="0.95"/>
<line x1="54.25" y1="868.15" x2="66.25" y2="868.15" stroke="#0d0d0d" stroke-width="0.95"/>
<path d="M 54.25 961.65 L 54.25 976.15 Q 54.25 979.85 57.75 979.85 L 62.75 979.85 Q 66.25 979.85 66.25 976.15 L 66.25 966.65 L 65.05 963.15" fill="none" stroke="#0d0d0d" stroke-width="1.85" stroke-linejoin="round"/>
<line x1="56.25" y1="975.15" x2="56.25" y2="964.65" stroke="#0d0d0d" stroke-width="0.95"/>
<line x1="64.05" y1="975.15" x2="64.05" y2="964.65" stroke="#0d0d0d" stroke-width="0.95"/>
<line x1="54.25" y1="972.65" x2="66.25" y2="972.65" stroke="#0d0d0d" stroke-width="0.95"/>
<line x1="54.25" y1="965.15" x2="66.25" y2="965.15" stroke="#0d0d0d" stroke-width="0.95"/>
<line x1="68.75" y1="873.4" x2="68.75" y2="888.4" stroke="#0d0d0d" stroke-width="0.95"/>
<line x1="68.75" y1="944.4" x2="68.75" y2="959.9" stroke="#0d0d0d" stroke-width="0.95"/>
<line x1="1.25" y1="916.65" x2="243.25" y2="916.65" stroke="#222" stroke-width="0.95" stroke-dasharray="7 2 1.5 2"/>
<line x1="92.25" y1="890.4" x2="92.25" y2="943.4" stroke="#222" stroke-width="0.95" stroke-dasharray="7 2 1.5 2"/>
<line x1="140.25" y1="900.4" x2="140.25" y2="937.4" stroke="#222" stroke-width="0.95" stroke-dasharray="7 2 1.5 2"/>
<line x1="54.05" y1="981.4" x2="54.05" y2="1066.4" stroke="#2a2a2a" stroke-width="0.8"/>
<line x1="209.45" y1="983.4" x2="209.45" y2="1049.4" stroke="#2a2a2a" stroke-width="0.8"/>
<line x1="239.75" y1="920.9" x2="239.75" y2="1066.4" stroke="#2a2a2a" stroke-width="0.8"/>
<line x1="54.05" y1="1045.4" x2="209.45" y2="1045.4" stroke="#2a2a2a" stroke-width="1.05"/>
<polygon points="54.05,1045.4 62.55,1043.8 62.55,1047.0" fill="#0d0d0d"/>
<polygon points="209.45,1045.4 200.95,1047.0 200.95,1043.8" fill="#0d0d0d"/>
<text x="135.25" y="1038.7" font-size="10" text-anchor="middle" fill="#5c5c5c">139</text>
<line x1="54.05" y1="1061.9" x2="239.75" y2="1061.9" stroke="#2a2a2a" stroke-width="1.05"/>
<polygon points="54.05,1061.9 62.55,1060.3 62.55,1063.5" fill="#0d0d0d"/>
<polygon points="239.75,1061.9 231.25,1063.5 231.25,1060.3" fill="#0d0d0d"/>
<text x="151.75" y="1055.4" font-size="10" text-anchor="middle" fill="#5c5c5c">166</text>
<line x1="255" y1="737" x2="255" y2="1073" stroke="#8a8a8a" stroke-width="2"/>
<line x1="268.25" y1="737" x2="268.25" y2="1073" stroke="#686868" stroke-width="1.8"/>
<path d="M 436.2 775.0 L 438.0 769.5 Q 438.5 768.25 440.0 768.25 L 484.5 768.25 Q 486.0 768.25 486.5 769.5 L 488.25 775.0" fill="none" stroke="#0d0d0d" stroke-width="1.85" stroke-linejoin="round"/>
<line x1="438.5" y1="771" x2="486.0" y2="771" stroke="#0d0d0d" stroke-width="0.95"/>
<line x1="440.5" y1="771" x2="440.5" y2="775" stroke="#0d0d0d" stroke-width="0.95"/>
<line x1="484.0" y1="771" x2="484.0" y2="775" stroke="#0d0d0d" stroke-width="0.95"/>
<path d="M 426.5 787.0 L 426.5 778.5 Q 426.5 776.0 429.0 776.0 L 495.0 776.0 Q 497.5 776.0 497.5 778.5 L 497.5 787.0" fill="none" stroke="#0d0d0d" stroke-width="1.85" stroke-linejoin="round"/>
<line x1="429.5" y1="776" x2="429.5" y2="787" stroke="#0d0d0d" stroke-width="0.95"/>
<line x1="494.5" y1="776" x2="494.5" y2="787" stroke="#0d0d0d" stroke-width="0.95"/>
<rect x="422.5" y="787" width="79" height="24.5" rx="1.5" fill="none" stroke="#0d0d0d" stroke-width="1.85"/>
<line x1="425.5" y1="787" x2="425.5" y2="811" stroke="#0d0d0d" stroke-width="0.95"/>
<line x1="498.5" y1="787" x2="498.5" y2="811" stroke="#0d0d0d" stroke-width="0.95"/>
<rect x="419.25" y="811" width="85.5" height="12" rx="1.5" fill="none" stroke="#0d0d0d" stroke-width="1.85"/>
<line x1="419.25" y1="820" x2="504.75" y2="820" stroke="#0d0d0d" stroke-width="0.95"/>
<circle cx="461.25" cy="797.5" r="24.5" fill="#fff" stroke="#0d0d0d" stroke-width="1.85"/>
<circle cx="461.25" cy="797.5" r="21.5" fill="none" stroke="#0d0d0d" stroke-width="0.95"/>
<circle cx="461.25" cy="797.5" r="18.5" fill="none" stroke="#0d0d0d" stroke-width="3"/>
<circle cx="461.25" cy="797.5" r="16" fill="none" stroke="#0d0d0d" stroke-width="0.95"/>
<polygon points="470.15,797.5 465.7,805.21 456.8,805.21 452.35,797.5 456.8,789.79 465.7,789.79" fill="none" stroke="#0d0d0d" stroke-width="1.85" stroke-linejoin="round"/>
<rect x="408.0" y="796.75" width="11.25" height="21.75" rx="1" fill="none" stroke="#0d0d0d" stroke-width="1.85"/>
<line x1="408.0" y1="808" x2="419.25" y2="808" stroke="#0d0d0d" stroke-width="1.85"/>
<rect x="419.25" y="791.5" width="3.75" height="19.5" rx="0.5" fill="none" stroke="#0d0d0d" stroke-width="0.95"/>
<line x1="419.25" y1="823" x2="419.25" y2="835.5" stroke="#0d0d0d" stroke-width="1.85"/>
<line x1="421.5" y1="823" x2="421.5" y2="837" stroke="#0d0d0d" stroke-width="0.95"/>
<line x1="496.5" y1="820" x2="496.5" y2="850" stroke="#0d0d0d" stroke-width="1.85"/>
<line x1="494.0" y1="820" x2="494.0" y2="890" stroke="#0d0d0d" stroke-width="0.95"/>
<line x1="498.5" y1="820" x2="498.5" y2="850" stroke="#0d0d0d" stroke-width="0.95"/>
<line x1="419.0" y1="827.6" x2="436.5" y2="827.6" stroke="#0d0d0d" stroke-width="0.95"/>
<line x1="488.5" y1="827.6" x2="496.5" y2="827.6" stroke="#0d0d0d" stroke-width="0.95"/>
<line x1="419.0" y1="835.5" x2="435.5" y2="835.5" stroke="#0d0d0d" stroke-width="1.85"/>
<line x1="435.5" y1="820" x2="435.5" y2="828" stroke="#0d0d0d" stroke-width="0.95"/>
<line x1="490.5" y1="820" x2="490.5" y2="830" stroke="#0d0d0d" stroke-width="0.95"/>
<rect x="434.5" y="828.75" width="56.5" height="39.5" rx="17" fill="none" stroke="#0d0d0d" stroke-width="1.85"/>
<rect x="436.8" y="831" width="52" height="35" rx="15" fill="none" stroke="#0d0d0d" stroke-width="0.95"/>
<rect x="438.8" y="833" width="48" height="31" rx="13.5" fill="none" stroke="#0d0d0d" stroke-width="1.85"/>
<path d="M 388.5 868.5 L 415.5 843.5 L 421.0 839.5 L 423.0 835.5" fill="none" stroke="#0d0d0d" stroke-width="1.85" stroke-linejoin="round"/>
<path d="M 425.0 839.0 L 421.5 844.0 L 390.5 873.0" fill="none" stroke="#0d0d0d" stroke-width="0.95" stroke-linejoin="round"/>
<path d="M 423.5 837.5 L 426.5 837.5 L 428.5 840.0 L 428.5 852.0" fill="none" stroke="#0d0d0d" stroke-width="0.95" stroke-linejoin="round"/>
<path d="M 428.5 852.0 Q 428.5 866.0 420.5 872.0 Q 413.5 878.0 400.5 880.0 Q 391.5 882.0 390.0 890.0" fill="none" stroke="#0d0d0d" stroke-width="1.85" stroke-linejoin="round"/>
<path d="M 431.5 850.0 Q 432.5 868.0 422.5 875.0 Q 415.5 880.0 402.5 883.0" fill="none" stroke="#0d0d0d" stroke-width="0.95" stroke-linejoin="round"/>
<path d="M 434.5 850.0 Q 430.5 853.0 430.5 860.0 Q 431.5 875.0 438.5 884.0 L 442.5 889.0" fill="none" stroke="#0d0d0d" stroke-width="0.95" stroke-linejoin="round"/>
<path d="M 426.5 871.0 L 439.5 884.0" fill="none" stroke="#0d0d0d" stroke-width="0.95" stroke-linejoin="round"/>
<path d="M 496.5 850.0 L 515.5 850.0 Q 524.7 850.0 524.7 859.0 L 524.7 973.0 Q 524.7 982.0 515.5 982.0 L 496.5 982.0" fill="none" stroke="#0d0d0d" stroke-width="1.85" stroke-linejoin="round"/>
<line x1="496.5" y1="850" x2="496.5" y2="982" stroke="#0d0d0d" stroke-width="1.85"/>
<line x1="498.7" y1="850" x2="498.7" y2="982" stroke="#0d0d0d" stroke-width="0.95"/>
<line x1="502.5" y1="850" x2="502.5" y2="982" stroke="#0d0d0d" stroke-width="0.95"/>
<line x1="513.3" y1="850" x2="513.3" y2="982" stroke="#0d0d0d" stroke-width="0.95"/>
<path d="M 512.5 850.0 Q 521.5 851.0 523.0 860.0 L 523.0 972.0 Q 521.5 981.0 512.5 982.0" fill="none" stroke="#0d0d0d" stroke-width="0.95" stroke-linejoin="round"/>
<rect x="390.0" y="890.3" width="99.5" height="52.5" rx="8" fill="none" stroke="#0d0d0d" stroke-width="1.85"/>
<rect x="392.4" y="892.7" width="94.7" height="47.7" rx="6" fill="none" stroke="#555" stroke-width="1.85"/>
<path d="M 480.5 890.3 Q 487.5 891.0 487.5 899.0 L 487.5 934.0 Q 487.5 942.0 480.5 942.8" fill="none" stroke="#0d0d0d" stroke-width="0.95" stroke-linejoin="round"/>
<line x1="387.5" y1="886" x2="524.5" y2="886" stroke="#0d0d0d" stroke-width="0.95"/>
<line x1="387.5" y1="946.5" x2="524.5" y2="946.5" stroke="#0d0d0d" stroke-width="0.95"/>
<circle cx="414.5" cy="916.25" r="18" fill="none" stroke="#0d0d0d" stroke-width="2.2"/>
<circle cx="462.5" cy="916.25" r="9" fill="none" stroke="#0d0d0d" stroke-width="2.2"/>
<path d="M 494.0 910.0 Q 490.5 911.0 490.5 916.25 Q 490.5 921.5 494.0 922.5" fill="none" stroke="#0d0d0d" stroke-width="1.85" stroke-linejoin="round"/>
<line x1="494.0" y1="910" x2="494.0" y2="922.5" stroke="#0d0d0d" stroke-width="1.85"/>
<path d="M 388.5 964.0 L 414.5 989.5 L 431.0 989.5" fill="none" stroke="#0d0d0d" stroke-width="1.85" stroke-linejoin="round"/>
<path d="M 390.5 959.5 L 417.5 986.5 L 430.5 986.5" fill="none" stroke="#0d0d0d" stroke-width="0.95" stroke-linejoin="round"/>
<path d="M 390.0 943.0 Q 391.5 950.0 400.5 952.0 Q 413.5 954.0 420.5 960.0 Q 428.5 966.0 428.5 978.0 Q 429.5 983.0 434.5 983.0" fill="none" stroke="#0d0d0d" stroke-width="1.85" stroke-linejoin="round"/>
<path d="M 402.5 949.0 Q 415.5 952.0 422.5 957.0 Q 431.5 964.0 431.5 980.0" fill="none" stroke="#0d0d0d" stroke-width="0.95" stroke-linejoin="round"/>
<path d="M 426.5 961.0 Q 436.5 950.0 442.5 943.5" fill="none" stroke="#0d0d0d" stroke-width="0.95" stroke-linejoin="round"/>
<path d="M 434.5 943.5 Q 438.5 962.0 438.5 983.0" fill="none" stroke="#0d0d0d" stroke-width="0.95" stroke-linejoin="round"/>
<line x1="434.5" y1="982" x2="496.5" y2="982" stroke="#0d0d0d" stroke-width="1.85"/>
<line x1="438.5" y1="984.5" x2="486.5" y2="984.5" stroke="#0d0d0d" stroke-width="0.95"/>
<path d="M 431.0 982.5 L 431.0 996.0 L 435.5 1003.0 L 488.5 1003.0 L 492.5 996.0 L 492.5 982.5" fill="none" stroke="#0d0d0d" stroke-width="1.85" stroke-linejoin="round"/>
<line x1="431.0" y1="996" x2="492.5" y2="996" stroke="#0d0d0d" stroke-width="0.95"/>
<line x1="434.5" y1="999.5" x2="489.5" y2="999.5" stroke="#0d0d0d" stroke-width="0.95"/>
<line x1="436.5" y1="1005.5" x2="487.5" y2="1005.5" stroke="#0d0d0d" stroke-width="1.85"/>
<line x1="435.5" y1="1003" x2="436.5" y2="1005.5" stroke="#0d0d0d" stroke-width="1.85"/>
<line x1="488.5" y1="1003" x2="487.5" y2="1005.5" stroke="#0d0d0d" stroke-width="1.85"/>
<polyline points="458.5,983.5 461.5,997 464.5,983.5" fill="none" stroke="#0d0d0d" stroke-width="0.95" stroke-linejoin="round"/>
<rect x="444.5" y="1006.3" width="35" height="9.2" rx="0.8" fill="none" stroke="#0d0d0d" stroke-width="1.85"/>
<line x1="454.0" y1="1006.3" x2="454.0" y2="1015.5" stroke="#0d0d0d" stroke-width="1.85"/>
<line x1="470.0" y1="1006.3" x2="470.0" y2="1015.5" stroke="#0d0d0d" stroke-width="1.85"/>
<rect x="447.0" y="1015.5" width="30" height="10" rx="1" fill="none" stroke="#0d0d0d" stroke-width="1.85"/>
<line x1="462.0" y1="1015.5" x2="462.0" y2="1025.5" stroke="#0d0d0d" stroke-width="1.85"/>
<path d="M 452.0 1025.5 L 453.5 1029.3 L 470.5 1029.3 L 472.0 1025.5" fill="none" stroke="#0d0d0d" stroke-width="1.85" stroke-linejoin="round"/>
<line x1="453.5" y1="1027.8" x2="470.5" y2="1027.8" stroke="#0d0d0d" stroke-width="2.4"/>
<line x1="450.5" y1="1005.5" x2="450.5" y2="1006.3" stroke="#0d0d0d" stroke-width="0.95"/>
<line x1="473.5" y1="1005.5" x2="473.5" y2="1006.3" stroke="#0d0d0d" stroke-width="0.95"/>
<path d="M 525.7 857.0 L 536.5 857.0 Q 539.2 857.0 539.2 860.0 L 539.2 973.0 Q 539.2 976.0 536.5 976.0 L 525.7 976.0" fill="none" stroke="#0d0d0d" stroke-width="1.85" stroke-linejoin="round"/>
<line x1="528.0" y1="857" x2="528.0" y2="976" stroke="#0d0d0d" stroke-width="0.95"/>
<rect x="528.0" y="859.5" width="11.2" height="21" rx="1" fill="none" stroke="#0d0d0d" stroke-width="1.85"/>
<line x1="530.5" y1="859.5" x2="530.5" y2="880.5" stroke="#0d0d0d" stroke-width="0.95"/>
<rect x="528.0" y="952" width="11.2" height="21" rx="1" fill="none" stroke="#0d0d0d" stroke-width="1.85"/>
<line x1="530.5" y1="952" x2="530.5" y2="973" stroke="#0d0d0d" stroke-width="0.95"/>
<line x1="537.0" y1="880.5" x2="537.0" y2="952" stroke="#0d0d0d" stroke-width="0.95"/>
<path d="M 528.0 886.25 Q 534.5 888.25 535.5 894.25 Q 531.5 897.25 528.5 902.25 Q 533.5 903.25 536.5 907.25" fill="none" stroke="#0d0d0d" stroke-width="1.85" stroke-linejoin="round"/>
<path d="M 529.5 890.25 Q 533.5 893.25 529.5 898.25" fill="none" stroke="#0d0d0d" stroke-width="0.95" stroke-linejoin="round"/>
<path d="M 528.0 904.25 L 537.0 896.25" fill="none" stroke="#0d0d0d" stroke-width="0.95" stroke-linejoin="round"/>
<path d="M 530.5 884.25 Q 536.5 885.25 537.0 890.25" fill="none" stroke="#0d0d0d" stroke-width="0.95" stroke-linejoin="round"/>
<path d="M 528.0 946.25 Q 534.5 944.25 535.5 938.25 Q 531.5 935.25 528.5 930.25 Q 533.5 929.25 536.5 925.25" fill="none" stroke="#0d0d0d" stroke-width="1.85" stroke-linejoin="round"/>
<path d="M 529.5 942.25 Q 533.5 939.25 529.5 934.25" fill="none" stroke="#0d0d0d" stroke-width="0.95" stroke-linejoin="round"/>
<path d="M 528.0 928.25 L 537.0 936.25" fill="none" stroke="#0d0d0d" stroke-width="0.95" stroke-linejoin="round"/>
<path d="M 530.5 948.25 Q 536.5 947.25 537.0 942.25" fill="none" stroke="#0d0d0d" stroke-width="0.95" stroke-linejoin="round"/>
<rect x="376.25" y="869.4" width="11.3" height="129.3" rx="1.5" fill="none" stroke="#0d0d0d" stroke-width="1.85"/>
<line x1="378.5" y1="871" x2="378.5" y2="997" stroke="#0d0d0d" stroke-width="0.95"/>
<rect x="371.4" y="896.8" width="4.85" height="42" rx="0.3" fill="none" stroke="#0d0d0d" stroke-width="1.85"/>
<polyline points="371.4,906.8 347.2,908.6 347.2,925.2 371.4,926.9" fill="none" stroke="#0d0d0d" stroke-width="1.85" stroke-linejoin="round"/>
<line x1="347.2" y1="910.5" x2="371.4" y2="909" stroke="#0d0d0d" stroke-width="0.95"/>
<path d="M 347.2 911.0 L 344.5 911.0 L 343.0 909.7 L 334.0 909.7 Q 332.5 909.7 332.5 911.2 L 332.5 922.0 Q 332.5 923.6 334.0 923.6 L 343.0 923.6 L 344.5 922.3 L 347.2 922.3" fill="none" stroke="#0d0d0d" stroke-width="1.85" stroke-linejoin="round"/>
<line x1="343.0" y1="909.7" x2="343.0" y2="923.6" stroke="#0d0d0d" stroke-width="0.95"/>
<line x1="334.5" y1="911.5" x2="343.0" y2="911.5" stroke="#0d0d0d" stroke-width="0.95"/>
<line x1="387.55" y1="868.5" x2="387.55" y2="964" stroke="#0d0d0d" stroke-width="1.85"/>
<line x1="330.5" y1="916.25" x2="542.5" y2="916.25" stroke="#222" stroke-width="0.95" stroke-dasharray="7 2 1.5 2"/>
<line x1="414.5" y1="890" x2="414.5" y2="943" stroke="#222" stroke-width="0.95" stroke-dasharray="7 2 1.5 2"/>
<line x1="462.5" y1="900" x2="462.5" y2="937" stroke="#222" stroke-width="0.95" stroke-dasharray="7 2 1.5 2"/>
<line x1="332.4" y1="858" x2="332.4" y2="912" stroke="#2a2a2a" stroke-width="0.8"/>
<line x1="345.5" y1="876.5" x2="345.5" y2="908.5" stroke="#2a2a2a" stroke-width="0.8"/>
<line x1="376.25" y1="858" x2="376.25" y2="869.4" stroke="#2a2a2a" stroke-width="0.8"/>
<line x1="332.4" y1="861.9" x2="376.25" y2="861.9" stroke="#2a2a2a" stroke-width="1.05"/>
<polygon points="332.4,861.9 340.9,860.3 340.9,863.5" fill="#0d0d0d"/>
<polygon points="376.25,861.9 367.75,863.5 367.75,860.3" fill="#0d0d0d"/>
<text x="355" y="856" font-size="10" text-anchor="middle" fill="#5c5c5c">40</text>
<line x1="345.5" y1="879.5" x2="376.25" y2="879.5" stroke="#2a2a2a" stroke-width="1.05"/>
<polygon points="345.5,879.5 354.0,877.9 354.0,881.1" fill="#0d0d0d"/>
<polygon points="376.25,879.5 367.75,881.1 367.75,877.9" fill="#0d0d0d"/>
<text x="359.4" y="874" font-size="10" text-anchor="middle" fill="#5c5c5c">28</text>
<line x1="295" y1="896.75" x2="371.4" y2="896.75" stroke="#2a2a2a" stroke-width="0.8"/>
<line x1="295" y1="938.75" x2="371.4" y2="938.75" stroke="#2a2a2a" stroke-width="0.8"/>
<line x1="298.6" y1="896.75" x2="298.6" y2="938.75" stroke="#2a2a2a" stroke-width="1.05"/>
<polygon points="298.6,896.75 300.2,905.25 297.0,905.25" fill="#0d0d0d"/>
<polygon points="298.6,938.75 297.0,930.25 300.2,930.25" fill="#0d0d0d"/>
<text x="294" y="916.25" font-size="10" text-anchor="middle" fill="#5c5c5c" transform="rotate(-90 294 916.25)">ø36.5 f7</text>
<line x1="311" y1="907" x2="347" y2="907" stroke="#2a2a2a" stroke-width="0.8"/>
<line x1="311" y1="926.4" x2="347" y2="926.4" stroke="#2a2a2a" stroke-width="0.8"/>
<line x1="315" y1="890" x2="315" y2="943.4" stroke="#2a2a2a" stroke-width="1.05"/>
<polygon points="315,907 313.4,898.5 316.6,898.5" fill="#0d0d0d"/>
<polygon points="315,926.4 316.6,934.9 313.4,934.9" fill="#0d0d0d"/>
<text x="311" y="916.25" font-size="10" text-anchor="middle" fill="#5c5c5c" transform="rotate(-90 311 916.25)">ø14.7</text>
<line x1="324" y1="909.5" x2="333" y2="909.5" stroke="#2a2a2a" stroke-width="0.8"/>
<line x1="324" y1="923.75" x2="333" y2="923.75" stroke="#2a2a2a" stroke-width="0.8"/>
<line x1="327.5" y1="843" x2="327.5" y2="942.5" stroke="#2a2a2a" stroke-width="1.05"/>
<polygon points="327.5,909.5 325.9,901.0 329.1,901.0" fill="#0d0d0d"/>
<polygon points="327.5,923.75 329.1,932.25 325.9,932.25" fill="#0d0d0d"/>
<text x="322" y="867.5" font-size="10" text-anchor="middle" fill="#5c5c5c" transform="rotate(-90 322 867.5)">M12x1.5</text>
<polygon points="282.5,977 299.4,968.75 299.4,977" fill="none" stroke="#2a2a2a" stroke-width="1.05" stroke-linejoin="round"/>
<text x="302" y="977" font-size="10" text-anchor="start" fill="#5c5c5c">1:8</text>
<polyline points="278.75,983 319.25,983 352.5,931.5" fill="none" stroke="#2a2a2a" stroke-width="1.05" stroke-linejoin="round"/>
<polygon points="353.75,929.4 350.73,936.98 348.05,935.24" fill="#0d0d0d"/>
<line x1="371.4" y1="938.75" x2="371.4" y2="1005" stroke="#2a2a2a" stroke-width="0.8"/>
<line x1="376.25" y1="998.75" x2="376.25" y2="1023" stroke="#2a2a2a" stroke-width="0.8"/>
<line x1="414.5" y1="944" x2="414.5" y2="1023" stroke="#2a2a2a" stroke-width="0.8"/>
<line x1="336.9" y1="1002.5" x2="371.4" y2="1002.5" stroke="#2a2a2a" stroke-width="1.05"/>
<polygon points="371.4,1002.5 362.9,1004.1 362.9,1000.9" fill="#0d0d0d"/>
<polygon points="376.25,1002.5 384.75,1000.9 384.75,1004.1" fill="#0d0d0d"/>
<line x1="376.25" y1="1002.5" x2="395" y2="1002.5" stroke="#2a2a2a" stroke-width="1.05"/>
<text x="344.4" y="996" font-size="10" text-anchor="middle" fill="#5c5c5c">5</text>
<line x1="376.25" y1="1019.4" x2="414.5" y2="1019.4" stroke="#2a2a2a" stroke-width="1.05"/>
<polygon points="376.25,1019.4 384.75,1017.8 384.75,1021.0" fill="#0d0d0d"/>
<polygon points="414.5,1019.4 406.0,1021.0 406.0,1017.8" fill="#0d0d0d"/>
<text x="395" y="1012.5" font-size="10" text-anchor="middle" fill="#5c5c5c">34</text>
<path d="M 643.85 75.25 L 642.05 69.75 Q 641.55 68.5 640.05 68.5 L 595.55 68.5 Q 594.05 68.5 593.55 69.75 L 591.8 75.25" fill="none" stroke="#0d0d0d" stroke-width="1.85" stroke-linejoin="round"/>
<line x1="641.55" y1="71.25" x2="594.05" y2="71.25" stroke="#0d0d0d" stroke-width="0.95"/>
<line x1="639.55" y1="71.25" x2="639.55" y2="75.25" stroke="#0d0d0d" stroke-width="0.95"/>
<line x1="596.05" y1="71.25" x2="596.05" y2="75.25" stroke="#0d0d0d" stroke-width="0.95"/>
<path d="M 653.55 87.25 L 653.55 78.75 Q 653.55 76.25 651.05 76.25 L 585.05 76.25 Q 582.55 76.25 582.55 78.75 L 582.55 87.25" fill="none" stroke="#0d0d0d" stroke-width="1.85" stroke-linejoin="round"/>
<line x1="650.55" y1="76.25" x2="650.55" y2="87.25" stroke="#0d0d0d" stroke-width="0.95"/>
<line x1="585.55" y1="76.25" x2="585.55" y2="87.25" stroke="#0d0d0d" stroke-width="0.95"/>
<rect x="578.55" y="87.25" width="79" height="24.5" rx="1.5" fill="none" stroke="#0d0d0d" stroke-width="1.85"/>
<line x1="654.55" y1="87.25" x2="654.55" y2="111.25" stroke="#0d0d0d" stroke-width="0.95"/>
<line x1="581.55" y1="87.25" x2="581.55" y2="111.25" stroke="#0d0d0d" stroke-width="0.95"/>
<rect x="575.3" y="111.25" width="85.5" height="12" rx="1.5" fill="none" stroke="#0d0d0d" stroke-width="1.85"/>
<line x1="660.8" y1="120.25" x2="575.3" y2="120.25" stroke="#0d0d0d" stroke-width="0.95"/>
<line x1="635.05" y1="76.25" x2="635.05" y2="87.25" stroke="#0d0d0d" stroke-width="1.85"/>
<line x1="601.25" y1="76.25" x2="601.25" y2="87.25" stroke="#0d0d0d" stroke-width="1.85"/>
<line x1="638.05" y1="78.25" x2="638.05" y2="87.25" stroke="#0d0d0d" stroke-width="0.95"/>
<line x1="598.25" y1="78.25" x2="598.25" y2="87.25" stroke="#0d0d0d" stroke-width="0.95"/>
<path d="M 634.05 111.25 L 634.05 95.25 Q 634.05 80.25 618.05 80.25 Q 602.05 80.25 602.05 95.25 L 602.05 111.25" fill="none" stroke="#0d0d0d" stroke-width="1.85" stroke-linejoin="round"/>
<path d="M 631.55 111.25 L 631.55 95.75 Q 631.55 82.75 618.05 82.75 Q 604.55 82.75 604.55 95.75 L 604.55 111.25" fill="none" stroke="#0d0d0d" stroke-width="0.95" stroke-linejoin="round"/>
<circle cx="618.05" cy="97.25" r="9.3" fill="none" stroke="#0d0d0d" stroke-width="1.85"/>
<circle cx="618.05" cy="97.25" r="5" fill="none" stroke="#0d0d0d" stroke-width="1.6"/>
<circle cx="618.05" cy="97.25" r="1.8" fill="none" stroke="#0d0d0d" stroke-width="1.85"/>
<line x1="639.55" y1="70.25" x2="639.55" y2="76.25" stroke="#0d0d0d" stroke-width="0.95"/>
<line x1="596.55" y1="70.25" x2="596.55" y2="76.25" stroke="#0d0d0d" stroke-width="0.95"/>
<rect x="660.8" y="97.0" width="11.25" height="21.75" rx="1" fill="none" stroke="#0d0d0d" stroke-width="1.85"/>
<line x1="672.05" y1="108.25" x2="660.8" y2="108.25" stroke="#0d0d0d" stroke-width="1.85"/>
<rect x="657.05" y="91.75" width="3.75" height="19.5" rx="0.5" fill="none" stroke="#0d0d0d" stroke-width="0.95"/>
<line x1="660.8" y1="123.25" x2="660.8" y2="135.75" stroke="#0d0d0d" stroke-width="1.85"/>
<line x1="658.55" y1="123.25" x2="658.55" y2="137.25" stroke="#0d0d0d" stroke-width="0.95"/>
<line x1="583.55" y1="120.25" x2="583.55" y2="150.25" stroke="#0d0d0d" stroke-width="1.85"/>
<line x1="586.05" y1="120.25" x2="586.05" y2="190.25" stroke="#0d0d0d" stroke-width="0.95"/>
<line x1="581.55" y1="120.25" x2="581.55" y2="150.25" stroke="#0d0d0d" stroke-width="0.95"/>
<line x1="661.05" y1="127.85" x2="643.55" y2="127.85" stroke="#0d0d0d" stroke-width="0.95"/>
<line x1="591.55" y1="127.85" x2="583.55" y2="127.85" stroke="#0d0d0d" stroke-width="0.95"/>
<line x1="661.05" y1="135.75" x2="644.55" y2="135.75" stroke="#0d0d0d" stroke-width="1.85"/>
<line x1="644.55" y1="120.25" x2="644.55" y2="128.25" stroke="#0d0d0d" stroke-width="0.95"/>
<line x1="589.55" y1="120.25" x2="589.55" y2="130.25" stroke="#0d0d0d" stroke-width="0.95"/>
<rect x="588.05" y="129.75" width="61.5" height="38" rx="3" fill="none" stroke="#0d0d0d" stroke-width="1.85"/>
<rect x="590.05" y="132.25" width="57" height="32.5" rx="2" fill="none" stroke="#0d0d0d" stroke-width="1.85"/>
<line x1="649.55" y1="172.25" x2="588.05" y2="172.25" stroke="#0d0d0d" stroke-width="0.95"/>
<line x1="629.55" y1="129.75" x2="629.55" y2="132.25" stroke="#0d0d0d" stroke-width="0.95"/>
<line x1="607.55" y1="129.75" x2="607.55" y2="132.25" stroke="#0d0d0d" stroke-width="0.95"/>
<circle cx="642.05" cy="137.25" r="1.2" fill="#1c1c1c" stroke="#0d0d0d" stroke-width="0.5"/>
<circle cx="642.05" cy="159.75" r="1.2" fill="#1c1c1c" stroke="#0d0d0d" stroke-width="0.5"/>
<circle cx="594.55" cy="137.25" r="1.2" fill="#1c1c1c" stroke="#0d0d0d" stroke-width="0.5"/>
<circle cx="594.55" cy="159.75" r="1.2" fill="#1c1c1c" stroke="#0d0d0d" stroke-width="0.5"/>
<path d="M 691.55 168.75 L 664.55 143.75 L 659.05 139.75 L 657.05 135.75" fill="none" stroke="#0d0d0d" stroke-width="1.85" stroke-linejoin="round"/>
<path d="M 655.05 139.25 L 658.55 144.25 L 689.55 173.25" fill="none" stroke="#0d0d0d" stroke-width="0.95" stroke-linejoin="round"/>
<path d="M 656.55 137.75 L 653.55 137.75 L 651.55 140.25 L 651.55 152.25" fill="none" stroke="#0d0d0d" stroke-width="0.95" stroke-linejoin="round"/>
<path d="M 651.55 152.25 Q 651.55 166.25 659.55 172.25 Q 666.55 178.25 679.55 180.25 Q 688.55 182.25 690.05 190.25" fill="none" stroke="#0d0d0d" stroke-width="1.85" stroke-linejoin="round"/>
<path d="M 648.55 150.25 Q 647.55 168.25 657.55 175.25 Q 664.55 180.25 677.55 183.25" fill="none" stroke="#0d0d0d" stroke-width="0.95" stroke-linejoin="round"/>
<path d="M 645.55 150.25 Q 649.55 153.25 649.55 160.25 Q 648.55 175.25 641.55 184.25 L 637.55 189.25" fill="none" stroke="#0d0d0d" stroke-width="0.95" stroke-linejoin="round"/>
<path d="M 653.55 171.25 L 640.55 184.25" fill="none" stroke="#0d0d0d" stroke-width="0.95" stroke-linejoin="round"/>
<path d="M 583.55 150.25 L 564.55 150.25 Q 555.35 150.25 555.35 159.25 L 555.35 273.25 Q 555.35 282.25 564.55 282.25 L 583.55 282.25" fill="none" stroke="#0d0d0d" stroke-width="1.85" stroke-linejoin="round"/>
<line x1="583.55" y1="150.25" x2="583.55" y2="282.25" stroke="#0d0d0d" stroke-width="1.85"/>
<line x1="581.35" y1="150.25" x2="581.35" y2="282.25" stroke="#0d0d0d" stroke-width="0.95"/>
<line x1="577.55" y1="150.25" x2="577.55" y2="282.25" stroke="#0d0d0d" stroke-width="0.95"/>
<line x1="566.75" y1="150.25" x2="566.75" y2="282.25" stroke="#0d0d0d" stroke-width="0.95"/>
<path d="M 567.55 150.25 Q 558.55 151.25 557.05 160.25 L 557.05 272.25 Q 558.55 281.25 567.55 282.25" fill="none" stroke="#0d0d0d" stroke-width="0.95" stroke-linejoin="round"/>
<rect x="590.55" y="190.55" width="99.5" height="52.5" rx="8" fill="none" stroke="#0d0d0d" stroke-width="1.85"/>
<rect x="592.95" y="192.95" width="94.7" height="47.7" rx="6" fill="none" stroke="#555" stroke-width="1.85"/>
<path d="M 599.55 190.55 Q 592.55 191.25 592.55 199.25 L 592.55 234.25 Q 592.55 242.25 599.55 243.05" fill="none" stroke="#0d0d0d" stroke-width="0.95" stroke-linejoin="round"/>
<line x1="692.55" y1="186.25" x2="555.55" y2="186.25" stroke="#0d0d0d" stroke-width="0.95"/>
<line x1="692.55" y1="246.75" x2="555.55" y2="246.75" stroke="#0d0d0d" stroke-width="0.95"/>
<circle cx="665.55" cy="216.5" r="15" fill="none" stroke="#0d0d0d" stroke-width="2.2"/>
<polygon points="604.02,224.6 618.05,232.7 632.08,224.6 632.08,208.4 618.05,200.3 604.02,208.4" fill="none" stroke="#0d0d0d" stroke-width="1.85" stroke-linejoin="round"/>
<circle cx="618.05" cy="216.5" r="12" fill="none" stroke="#0d0d0d" stroke-width="1.85"/>
<circle cx="618.05" cy="216.5" r="7.5" fill="none" stroke="#0d0d0d" stroke-width="1.8"/>
<circle cx="618.05" cy="216.5" r="3" fill="none" stroke="#0d0d0d" stroke-width="1.85"/>
<path d="M 586.05 210.25 Q 589.55 211.25 589.55 216.5 Q 589.55 221.75 586.05 222.75" fill="none" stroke="#0d0d0d" stroke-width="1.85" stroke-linejoin="round"/>
<line x1="586.05" y1="210.25" x2="586.05" y2="222.75" stroke="#0d0d0d" stroke-width="1.85"/>
<path d="M 691.55 264.25 L 665.55 289.75 L 649.05 289.75" fill="none" stroke="#0d0d0d" stroke-width="1.85" stroke-linejoin="round"/>
<path d="M 689.55 259.75 L 662.55 286.75 L 649.55 286.75" fill="none" stroke="#0d0d0d" stroke-width="0.95" stroke-linejoin="round"/>
<path d="M 690.05 243.25 Q 688.55 250.25 679.55 252.25 Q 666.55 254.25 659.55 260.25 Q 651.55 266.25 651.55 278.25 Q 650.55 283.25 645.55 283.25" fill="none" stroke="#0d0d0d" stroke-width="1.85" stroke-linejoin="round"/>
<path d="M 677.55 249.25 Q 664.55 252.25 657.55 257.25 Q 648.55 264.25 648.55 280.25" fill="none" stroke="#0d0d0d" stroke-width="0.95" stroke-linejoin="round"/>
<path d="M 653.55 261.25 Q 643.55 250.25 637.55 243.75" fill="none" stroke="#0d0d0d" stroke-width="0.95" stroke-linejoin="round"/>
<path d="M 645.55 243.75 Q 641.55 262.25 641.55 283.25" fill="none" stroke="#0d0d0d" stroke-width="0.95" stroke-linejoin="round"/>
<line x1="645.55" y1="282.25" x2="583.55" y2="282.25" stroke="#0d0d0d" stroke-width="1.85"/>
<line x1="641.55" y1="284.75" x2="593.55" y2="284.75" stroke="#0d0d0d" stroke-width="0.95"/>
<path d="M 649.05 282.75 L 649.05 296.25 L 644.55 303.25 L 591.55 303.25 L 587.55 296.25 L 587.55 282.75" fill="none" stroke="#0d0d0d" stroke-width="1.85" stroke-linejoin="round"/>
<line x1="649.05" y1="296.25" x2="587.55" y2="296.25" stroke="#0d0d0d" stroke-width="0.95"/>
<line x1="645.55" y1="299.75" x2="590.55" y2="299.75" stroke="#0d0d0d" stroke-width="0.95"/>
<line x1="643.55" y1="305.75" x2="592.55" y2="305.75" stroke="#0d0d0d" stroke-width="1.85"/>
<line x1="644.55" y1="303.25" x2="643.55" y2="305.75" stroke="#0d0d0d" stroke-width="1.85"/>
<line x1="591.55" y1="303.25" x2="592.55" y2="305.75" stroke="#0d0d0d" stroke-width="1.85"/>
<polyline points="621.55,283.75 618.55,297.25 615.55,283.75" fill="none" stroke="#0d0d0d" stroke-width="0.95" stroke-linejoin="round"/>
<rect x="600.55" y="306.55" width="35" height="9.2" rx="0.8" fill="none" stroke="#0d0d0d" stroke-width="1.85"/>
<line x1="626.05" y1="306.55" x2="626.05" y2="315.75" stroke="#0d0d0d" stroke-width="1.85"/>
<line x1="610.05" y1="306.55" x2="610.05" y2="315.75" stroke="#0d0d0d" stroke-width="1.85"/>
<rect x="603.05" y="315.75" width="30" height="10" rx="1" fill="none" stroke="#0d0d0d" stroke-width="1.85"/>
<line x1="618.05" y1="315.75" x2="618.05" y2="325.75" stroke="#0d0d0d" stroke-width="1.85"/>
<path d="M 628.05 325.75 L 626.55 329.55 L 609.55 329.55 L 608.05 325.75" fill="none" stroke="#0d0d0d" stroke-width="1.85" stroke-linejoin="round"/>
<line x1="626.55" y1="328.05" x2="609.55" y2="328.05" stroke="#0d0d0d" stroke-width="2.4"/>
<line x1="629.55" y1="305.75" x2="629.55" y2="306.55" stroke="#0d0d0d" stroke-width="0.95"/>
<line x1="606.55" y1="305.75" x2="606.55" y2="306.55" stroke="#0d0d0d" stroke-width="0.95"/>
<path d="M 554.35 157.25 L 543.55 157.25 Q 540.85 157.25 540.85 160.25 L 540.85 273.25 Q 540.85 276.25 543.55 276.25 L 554.35 276.25" fill="none" stroke="#0d0d0d" stroke-width="1.85" stroke-linejoin="round"/>
<line x1="552.05" y1="157.25" x2="552.05" y2="276.25" stroke="#0d0d0d" stroke-width="0.95"/>
<rect x="540.85" y="159.75" width="11.2" height="21" rx="1" fill="none" stroke="#0d0d0d" stroke-width="1.85"/>
<line x1="549.55" y1="159.75" x2="549.55" y2="180.75" stroke="#0d0d0d" stroke-width="0.95"/>
<rect x="540.85" y="252.25" width="11.2" height="21" rx="1" fill="none" stroke="#0d0d0d" stroke-width="1.85"/>
<line x1="549.55" y1="252.25" x2="549.55" y2="273.25" stroke="#0d0d0d" stroke-width="0.95"/>
<line x1="543.05" y1="180.75" x2="543.05" y2="252.25" stroke="#0d0d0d" stroke-width="0.95"/>
<path d="M 552.05 186.5 Q 545.55 188.5 544.55 194.5 Q 548.55 197.5 551.55 202.5 Q 546.55 203.5 543.55 207.5" fill="none" stroke="#0d0d0d" stroke-width="1.85" stroke-linejoin="round"/>
<path d="M 550.55 190.5 Q 546.55 193.5 550.55 198.5" fill="none" stroke="#0d0d0d" stroke-width="0.95" stroke-linejoin="round"/>
<path d="M 552.05 204.5 L 543.05 196.5" fill="none" stroke="#0d0d0d" stroke-width="0.95" stroke-linejoin="round"/>
<path d="M 549.55 184.5 Q 543.55 185.5 543.05 190.5" fill="none" stroke="#0d0d0d" stroke-width="0.95" stroke-linejoin="round"/>
<path d="M 552.05 246.5 Q 545.55 244.5 544.55 238.5 Q 548.55 235.5 551.55 230.5 Q 546.55 229.5 543.55 225.5" fill="none" stroke="#0d0d0d" stroke-width="1.85" stroke-linejoin="round"/>
<path d="M 550.55 242.5 Q 546.55 239.5 550.55 234.5" fill="none" stroke="#0d0d0d" stroke-width="0.95" stroke-linejoin="round"/>
<path d="M 552.05 228.5 L 543.05 236.5" fill="none" stroke="#0d0d0d" stroke-width="0.95" stroke-linejoin="round"/>
<path d="M 549.55 248.5 Q 543.55 247.5 543.05 242.5" fill="none" stroke="#0d0d0d" stroke-width="0.95" stroke-linejoin="round"/>
<path d="M 712.55 205.75 L 749.55 205.75 Q 752.55 205.75 752.55 208.75 L 752.55 226.25 Q 752.55 229.05 749.55 229.05 L 712.55 229.05" fill="none" stroke="#0d0d0d" stroke-width="1.85" stroke-linejoin="round"/>
<path d="M 750.05 205.75 L 750.05 204.25 Q 750.05 202.25 748.05 202.25 L 717.55 202.25 Q 715.55 202.25 715.55 204.25 L 715.55 205.75" fill="none" stroke="#0d0d0d" stroke-width="1.85" stroke-linejoin="round"/>
<line x1="715.05" y1="205.75" x2="715.05" y2="229.05" stroke="#0d0d0d" stroke-width="0.95"/>
<polyline points="703.55,171.55 712.55,171.55 712.55,261.55 703.55,261.55" fill="none" stroke="#0d0d0d" stroke-width="1.85" stroke-linejoin="round"/>
<line x1="710.05" y1="171.55" x2="710.05" y2="261.55" stroke="#0d0d0d" stroke-width="0.95"/>
<line x1="703.55" y1="171.55" x2="703.55" y2="261.55" stroke="#0d0d0d" stroke-width="1.85"/>
<line x1="700.55" y1="171.55" x2="700.55" y2="261.55" stroke="#0d0d0d" stroke-width="0.95"/>
<path d="M 696.55 175.25 Q 695.55 216.25 696.55 258.25" fill="none" stroke="#0d0d0d" stroke-width="0.95" stroke-linejoin="round"/>
<path d="M 692.75 170.25 Q 691.55 216.25 692.75 262.25" fill="none" stroke="#0d0d0d" stroke-width="2.4" stroke-linejoin="round"/>
<line x1="703.55" y1="214.25" x2="695.55" y2="214.25" stroke="#0d0d0d" stroke-width="0.95"/>
<line x1="703.55" y1="218.75" x2="695.55" y2="218.75" stroke="#0d0d0d" stroke-width="0.95"/>
<path d="M 703.55 171.5 L 703.55 157.0 Q 703.55 153.3 700.05 153.3 L 695.05 153.3 Q 691.55 153.3 691.55 157.0 L 691.55 166.5 L 692.75 170.0" fill="none" stroke="#0d0d0d" stroke-width="1.85" stroke-linejoin="round"/>
<line x1="701.55" y1="158.0" x2="701.55" y2="168.5" stroke="#0d0d0d" stroke-width="0.95"/>
<line x1="693.75" y1="158.0" x2="693.75" y2="168.5" stroke="#0d0d0d" stroke-width="0.95"/>
<line x1="703.55" y1="160.5" x2="691.55" y2="160.5" stroke="#0d0d0d" stroke-width="0.95"/>
<line x1="703.55" y1="168.0" x2="691.55" y2="168.0" stroke="#0d0d0d" stroke-width="0.95"/>
<path d="M 703.55 261.5 L 703.55 276.0 Q 703.55 279.7 700.05 279.7 L 695.05 279.7 Q 691.55 279.7 691.55 276.0 L 691.55 266.5 L 692.75 263.0" fill="none" stroke="#0d0d0d" stroke-width="1.85" stroke-linejoin="round"/>
<line x1="701.55" y1="275.0" x2="701.55" y2="264.5" stroke="#0d0d0d" stroke-width="0.95"/>
<line x1="693.75" y1="275.0" x2="693.75" y2="264.5" stroke="#0d0d0d" stroke-width="0.95"/>
<line x1="703.55" y1="272.5" x2="691.55" y2="272.5" stroke="#0d0d0d" stroke-width="0.95"/>
<line x1="703.55" y1="265.0" x2="691.55" y2="265.0" stroke="#0d0d0d" stroke-width="0.95"/>
<line x1="689.05" y1="173.25" x2="689.05" y2="188.25" stroke="#0d0d0d" stroke-width="0.95"/>
<line x1="689.05" y1="244.25" x2="689.05" y2="259.75" stroke="#0d0d0d" stroke-width="0.95"/>
<line x1="538" y1="216.5" x2="757" y2="216.5" stroke="#222" stroke-width="0.95" stroke-dasharray="7 2 1.5 2"/>
<line x1="665.6" y1="196" x2="665.6" y2="238" stroke="#222" stroke-width="0.95" stroke-dasharray="7 2 1.5 2"/>
<text x="751" y="277.5" font-size="11.4" text-anchor="middle" fill="#5c5c5c">Outlet port</text>
<text x="751" y="295.5" font-size="11.4" text-anchor="middle" fill="#5c5c5c">3/4" Gas BSP</text>
<polyline points="671.2,226 715.6,305 791.5,305" fill="none" stroke="#2a2a2a" stroke-width="1.05" stroke-linejoin="round"/>
<polygon points="670,224 675.33,230.17 672.55,231.75" fill="#0d0d0d"/>
<line x1="665.6" y1="246" x2="665.6" y2="318.5" stroke="#2a2a2a" stroke-width="0.8"/>
<line x1="703.8" y1="281" x2="703.8" y2="318.5" stroke="#2a2a2a" stroke-width="0.8"/>
<line x1="665.6" y1="315" x2="703.8" y2="315" stroke="#2a2a2a" stroke-width="1.05"/>
<polygon points="665.6,315 674.1,313.4 674.1,316.6" fill="#0d0d0d"/>
<polygon points="703.8,315 695.3,316.6 695.3,313.4" fill="#0d0d0d"/>
<text x="684.6" y="310" font-size="10" text-anchor="middle" fill="#5c5c5c">34</text>
<path d="M 391.2 76.0 L 391.2 70.5 Q 391.2 68.7 393.0 68.7 L 448.2 68.7 Q 450.0 68.7 450.0 70.5 L 450.0 76.0" fill="none" stroke="#0d0d0d" stroke-width="1.85" stroke-linejoin="round"/>
<line x1="394" y1="71" x2="447" y2="71" stroke="#0d0d0d" stroke-width="0.95"/>
<line x1="391.2" y1="73.5" x2="450" y2="73.5" stroke="#0d0d0d" stroke-width="0.95"/>
<line x1="394.5" y1="68.7" x2="394.5" y2="86" stroke="#0d0d0d" stroke-width="0.95"/>
<line x1="446.7" y1="68.7" x2="446.7" y2="86" stroke="#0d0d0d" stroke-width="0.95"/>
<polyline points="391.2,76 375,76 373,78 373,86" fill="none" stroke="#0d0d0d" stroke-width="1.85" stroke-linejoin="round"/>
<polyline points="450,76 466,76 468,78 468,86" fill="none" stroke="#0d0d0d" stroke-width="1.85" stroke-linejoin="round"/>
<polyline points="373,80 366.5,80 364.5,82 364.5,110.4" fill="none" stroke="#0d0d0d" stroke-width="1.85" stroke-linejoin="round"/>
<polyline points="468,80 472,80 473.8,82 473.8,110.4" fill="none" stroke="#0d0d0d" stroke-width="1.85" stroke-linejoin="round"/>
<rect x="361.6" y="90" width="2.9" height="9" rx="0.5" fill="none" stroke="#0d0d0d" stroke-width="1.85"/>
<path d="M 368.8 109.0 L 368.8 88.0 Q 368.8 86.0 370.8 86.0 L 395.6 86.0 Q 397.6 86.0 397.6 88.0 L 397.6 109.0" fill="none" stroke="#0d0d0d" stroke-width="1.85" stroke-linejoin="round"/>
<path d="M 442.0 109.0 L 442.0 88.0 Q 442.0 86.0 444.0 86.0 L 469.0 86.0 Q 471.0 86.0 471.0 88.0 L 471.0 109.0" fill="none" stroke="#0d0d0d" stroke-width="1.85" stroke-linejoin="round"/>
<line x1="371.5" y1="89" x2="395" y2="89" stroke="#0d0d0d" stroke-width="0.95"/>
<line x1="444.5" y1="89" x2="468.5" y2="89" stroke="#0d0d0d" stroke-width="0.95"/>
<line x1="394.7" y1="89" x2="394.7" y2="109" stroke="#0d0d0d" stroke-width="0.95"/>
<line x1="444.8" y1="89" x2="444.8" y2="109" stroke="#0d0d0d" stroke-width="0.95"/>
<line x1="368.8" y1="109" x2="397.6" y2="109" stroke="#0d0d0d" stroke-width="0.95"/>
<line x1="442" y1="109" x2="471" y2="109" stroke="#0d0d0d" stroke-width="0.95"/>
<path d="M 397.6 109.0 L 403.0 109.0 Q 405.3 109.0 405.3 106.0 Q 405.3 93.0 420.6 93.0 Q 435.8 93.0 435.8 106.0 Q 435.8 109.0 438.0 109.0 L 442.0 109.0" fill="none" stroke="#0d0d0d" stroke-width="1.85" stroke-linejoin="round"/>
<circle cx="420.6" cy="107.5" r="12" fill="none" stroke="#0d0d0d" stroke-width="1.7"/>
<circle cx="420.6" cy="107.5" r="8.8" fill="none" stroke="#0d0d0d" stroke-width="1.85"/>
<circle cx="420.6" cy="107.5" r="10.3" fill="none" stroke="#0d0d0d" stroke-width="0.95"/>
<path d="M 364.5 110.4 L 363.0 110.4 Q 361.0 110.4 361.0 112.4 L 361.0 124.75 L 475.2 124.75 L 475.2 112.4 Q 475.2 110.4 473.2 110.4 L 436.0 110.4" fill="none" stroke="#0d0d0d" stroke-width="1.85" stroke-linejoin="round"/>
<line x1="364.5" y1="110.4" x2="406" y2="110.4" stroke="#0d0d0d" stroke-width="1.85"/>
<line x1="361" y1="114" x2="408" y2="114" stroke="#0d0d0d" stroke-width="0.95"/>
<line x1="433" y1="114" x2="475.2" y2="114" stroke="#0d0d0d" stroke-width="0.95"/>
<path d="M 406.0 110.4 Q 409.0 121.0 420.6 121.0 Q 432.0 121.0 435.0 110.4" fill="none" stroke="#0d0d0d" stroke-width="1.85" stroke-linejoin="round"/>
<line x1="361" y1="119" x2="475.2" y2="119" stroke="#0d0d0d" stroke-width="0.95"/>
<path d="M 361.0 124.75 L 361.0 132.8 Q 361.0 134.8 363.0 134.8 L 493.3 134.8 Q 495.3 134.8 495.3 132.8 L 495.3 122.0" fill="none" stroke="#0d0d0d" stroke-width="1.85" stroke-linejoin="round"/>
<line x1="361" y1="128.5" x2="495.3" y2="128.5" stroke="#0d0d0d" stroke-width="0.95"/>
<line x1="365" y1="131.5" x2="491" y2="131.5" stroke="#0d0d0d" stroke-width="0.95"/>
<line x1="383.2" y1="110.4" x2="383.2" y2="134.8" stroke="#0d0d0d" stroke-width="0.95"/>
<line x1="458" y1="110.4" x2="458" y2="134.8" stroke="#0d0d0d" stroke-width="0.95"/>
<line x1="373" y1="110.4" x2="373" y2="124.75" stroke="#0d0d0d" stroke-width="0.95"/>
<line x1="397.6" y1="110.4" x2="397.6" y2="124.75" stroke="#0d0d0d" stroke-width="0.95"/>
<line x1="442" y1="110.4" x2="442" y2="124.75" stroke="#0d0d0d" stroke-width="0.95"/>
<line x1="468" y1="110.4" x2="468" y2="124.75" stroke="#0d0d0d" stroke-width="0.95"/>
<line x1="367.4" y1="134.8" x2="367.4" y2="147.7" stroke="#0d0d0d" stroke-width="1.85"/>
<line x1="473.8" y1="134.8" x2="473.8" y2="147.7" stroke="#0d0d0d" stroke-width="1.85"/>
<line x1="370.5" y1="134.8" x2="370.5" y2="150" stroke="#0d0d0d" stroke-width="0.95"/>
<line x1="470.7" y1="134.8" x2="470.7" y2="150" stroke="#0d0d0d" stroke-width="0.95"/>
<line x1="367.4" y1="141" x2="473.8" y2="141" stroke="#0d0d0d" stroke-width="0.95"/>
<polyline points="400.6,152 398.6,141.5 396.6,139.5 393.6,139.5 386.6,152" fill="none" stroke="#0d0d0d" stroke-width="1.85" stroke-linejoin="round"/>
<polyline points="398.1,152 396.6,143 394.6,142 389.6,152" fill="none" stroke="#0d0d0d" stroke-width="0.95" stroke-linejoin="round"/>
<polyline points="386.6,152 383.6,147.7 378.6,147.7" fill="none" stroke="#0d0d0d" stroke-width="0.95" stroke-linejoin="round"/>
<polyline points="440.6,152 442.6,141.5 444.6,139.5 447.6,139.5 454.6,152" fill="none" stroke="#0d0d0d" stroke-width="1.85" stroke-linejoin="round"/>
<polyline points="443.1,152 444.6,143 446.6,142 451.6,152" fill="none" stroke="#0d0d0d" stroke-width="0.95" stroke-linejoin="round"/>
<polyline points="454.6,152 457.6,147.7 462.6,147.7" fill="none" stroke="#0d0d0d" stroke-width="0.95" stroke-linejoin="round"/>
<polyline points="471,80 476,80 481.5,74 484,72.8 493.5,72.8 495.3,74.5 495.3,122" fill="none" stroke="#0d0d0d" stroke-width="1.85" stroke-linejoin="round"/>
<line x1="481.5" y1="74" x2="481.5" y2="122" stroke="#0d0d0d" stroke-width="0.95"/>
<line x1="485" y1="72.8" x2="485" y2="110" stroke="#0d0d0d" stroke-width="0.95"/>
<line x1="478" y1="80" x2="478" y2="122" stroke="#0d0d0d" stroke-width="0.95"/>
<line x1="473.8" y1="122" x2="495.3" y2="122" stroke="#0d0d0d" stroke-width="1.85"/>
<line x1="476" y1="110.4" x2="495.3" y2="110.4" stroke="#0d0d0d" stroke-width="0.95"/>
<rect x="495.3" y="77.3" width="2.5" height="34.5" rx="0.5" fill="none" stroke="#0d0d0d" stroke-width="1.85"/>
<path d="M 497.8 79.0 L 510.0 79.0 Q 514.0 79.0 514.0 83.0 L 514.0 106.0 Q 514.0 110.0 510.0 110.0 L 497.8 110.0" fill="none" stroke="#0d0d0d" stroke-width="1.85" stroke-linejoin="round"/>
<line x1="500.5" y1="79" x2="500.5" y2="110" stroke="#0d0d0d" stroke-width="0.95"/>
<line x1="503" y1="79" x2="503" y2="110" stroke="#0d0d0d" stroke-width="1.4"/>
<line x1="497.8" y1="94.5" x2="514" y2="94.5" stroke="#0d0d0d" stroke-width="0.95"/>
<rect x="514" y="83" width="8.5" height="23" rx="0.8" fill="none" stroke="#0d0d0d" stroke-width="1.85"/>
<line x1="514" y1="87" x2="522.5" y2="87" stroke="#0d0d0d" stroke-width="0.95"/>
<line x1="514" y1="102" x2="522.5" y2="102" stroke="#0d0d0d" stroke-width="0.95"/>
<line x1="516.5" y1="83" x2="516.5" y2="106" stroke="#0d0d0d" stroke-width="0.95"/>
<rect x="522.5" y="85.5" width="6" height="18" rx="0.8" fill="none" stroke="#0d0d0d" stroke-width="1.85"/>
<line x1="522.5" y1="90" x2="528.5" y2="90" stroke="#0d0d0d" stroke-width="0.95"/>
<line x1="522.5" y1="99" x2="528.5" y2="99" stroke="#0d0d0d" stroke-width="0.95"/>
<rect x="528.5" y="91" width="13" height="7" rx="0.5" fill="none" stroke="#0d0d0d" stroke-width="1.85"/>
<rect x="541.3" y="88.8" width="6.3" height="15.8" rx="1.2" fill="none" stroke="#0d0d0d" stroke-width="1.85"/>
<line x1="541.3" y1="94" x2="547.6" y2="94" stroke="#0d0d0d" stroke-width="0.95"/>
<line x1="541.3" y1="99.5" x2="547.6" y2="99.5" stroke="#0d0d0d" stroke-width="0.95"/>
<polyline points="361,128 357.3,132 343,163.6 345.5,167 349,165" fill="none" stroke="#0d0d0d" stroke-width="1.85" stroke-linejoin="round"/>
<polyline points="363.5,134.8 347.5,166" fill="none" stroke="#0d0d0d" stroke-width="1.85" stroke-linejoin="round"/>
<polyline points="360,134 346,164.5" fill="none" stroke="#0d0d0d" stroke-width="0.95" stroke-linejoin="round"/>
<polyline points="495.3,128 498.5,132 498.5,163 493,170" fill="none" stroke="#0d0d0d" stroke-width="1.85" stroke-linejoin="round"/>
<line x1="496" y1="134.8" x2="496" y2="163" stroke="#0d0d0d" stroke-width="0.95"/>
<polyline points="473.8,147.7 480,150 491,160 493,170" fill="none" stroke="#0d0d0d" stroke-width="1.85" stroke-linejoin="round"/>
<path d="M 349.0 165.0 Q 341.0 172.0 340.2 189.0 L 340.2 249.0 Q 342.0 262.0 350.0 270.0 L 392.0 299.0" fill="none" stroke="#0d0d0d" stroke-width="1.85" stroke-linejoin="round"/>
<path d="M 493.0 170.0 Q 499.5 176.0 499.8 189.0 L 499.8 249.0 Q 498.0 262.0 490.0 270.0 L 449.4 299.0" fill="none" stroke="#0d0d0d" stroke-width="1.85" stroke-linejoin="round"/>
<path d="M 352.0 166.0 Q 344.5 174.0 344.0 189.0 L 344.0 247.0 Q 345.5 260.0 353.0 267.5" fill="none" stroke="#0d0d0d" stroke-width="0.95" stroke-linejoin="round"/>
<path d="M 489.5 168.0 Q 496.0 176.0 496.2 189.0 L 496.2 247.0 Q 495.0 260.0 487.5 267.5" fill="none" stroke="#0d0d0d" stroke-width="0.95" stroke-linejoin="round"/>
<path d="M 367.4 147.7 Q 360.0 150.0 354.0 158.0 L 349.0 165.0" fill="none" stroke="#0d0d0d" stroke-width="1.85" stroke-linejoin="round"/>
<line x1="340.2" y1="199" x2="363.5" y2="199" stroke="#0d0d0d" stroke-width="1.85"/>
<line x1="477.5" y1="199" x2="499.8" y2="199" stroke="#0d0d0d" stroke-width="1.85"/>
<line x1="340.2" y1="235" x2="363.5" y2="235" stroke="#0d0d0d" stroke-width="1.85"/>
<line x1="477.5" y1="235" x2="499.8" y2="235" stroke="#0d0d0d" stroke-width="1.85"/>
<line x1="340.2" y1="203" x2="362.5" y2="203" stroke="#0d0d0d" stroke-width="0.95"/>
<line x1="340.2" y1="231" x2="362.5" y2="231" stroke="#0d0d0d" stroke-width="0.95"/>
<line x1="478.5" y1="203" x2="499.8" y2="203" stroke="#0d0d0d" stroke-width="0.95"/>
<line x1="478.5" y1="231" x2="499.8" y2="231" stroke="#0d0d0d" stroke-width="0.95"/>
<rect x="331.5" y="199" width="8.7" height="36" rx="1.5" fill="none" stroke="#0d0d0d" stroke-width="1.85"/>
<line x1="331.5" y1="207" x2="340.2" y2="207" stroke="#0d0d0d" stroke-width="0.95"/>
<line x1="331.5" y1="227" x2="340.2" y2="227" stroke="#0d0d0d" stroke-width="0.95"/>
<polyline points="356.55,184.11 359.31,179.18 362.45,174.48 365.95,170.04 369.79,165.89 373.94,162.05 378.38,158.55 383.08,155.41 388.01,152.65" fill="none" stroke="#0d0d0d" stroke-width="0.95" stroke-linejoin="round"/>
<polyline points="359.08,193.15 361.89,186.84 365.35,180.85 369.41,175.26 374.03,170.13 379.16,165.51 384.75,161.45 390.74,157.99 397.05,155.18" fill="none" stroke="#0d0d0d" stroke-width="0.95" stroke-linejoin="round"/>
<polyline points="356.55,249.49 359.31,254.42 362.45,259.12 365.95,263.56 369.79,267.71 373.94,271.55 378.38,275.05 383.08,278.19 388.01,280.95" fill="none" stroke="#0d0d0d" stroke-width="0.95" stroke-linejoin="round"/>
<polyline points="359.08,240.45 361.89,246.76 365.35,252.75 369.41,258.34 374.03,263.47 379.16,268.09 384.75,272.15 390.74,275.61 397.05,278.42" fill="none" stroke="#0d0d0d" stroke-width="0.95" stroke-linejoin="round"/>
<polyline points="484.85,184.11 482.09,179.18 478.95,174.48 475.45,170.04 471.61,165.89 467.46,162.05 463.02,158.55 458.32,155.41 453.39,152.65" fill="none" stroke="#0d0d0d" stroke-width="0.95" stroke-linejoin="round"/>
<polyline points="482.32,193.15 479.51,186.84 476.05,180.85 471.99,175.26 467.37,170.13 462.24,165.51 456.65,161.45 450.66,157.99 444.35,155.18" fill="none" stroke="#0d0d0d" stroke-width="0.95" stroke-linejoin="round"/>
<polyline points="484.85,249.49 482.09,254.42 478.95,259.12 475.45,263.56 471.61,267.71 467.46,271.55 463.02,275.05 458.32,278.19 453.39,280.95" fill="none" stroke="#0d0d0d" stroke-width="0.95" stroke-linejoin="round"/>
<polyline points="482.32,240.45 479.51,246.76 476.05,252.75 471.99,258.34 467.37,263.47 462.24,268.09 456.65,272.15 450.66,275.61 444.35,278.42" fill="none" stroke="#0d0d0d" stroke-width="0.95" stroke-linejoin="round"/>
<line x1="392" y1="299" x2="449.4" y2="299" stroke="#0d0d0d" stroke-width="1.85"/>
<line x1="392" y1="302.5" x2="449.4" y2="302.5" stroke="#0d0d0d" stroke-width="0.95"/>
<line x1="392" y1="299" x2="392" y2="302.5" stroke="#0d0d0d" stroke-width="1.85"/>
<line x1="449.4" y1="299" x2="449.4" y2="302.5" stroke="#0d0d0d" stroke-width="1.85"/>
<polyline points="392,302.5 396.5,305.5 445,305.5 449.4,302.5" fill="none" stroke="#0d0d0d" stroke-width="1.85" stroke-linejoin="round"/>
<polyline points="401.7,279 398.7,291 395.7,293 392.7,291 386.7,279" fill="none" stroke="#0d0d0d" stroke-width="1.85" stroke-linejoin="round"/>
<polyline points="398.7,280 397.2,288.5 394.7,289.5 389.7,280" fill="none" stroke="#0d0d0d" stroke-width="0.95" stroke-linejoin="round"/>
<polyline points="439.7,279 442.7,291 445.7,293 448.7,291 454.7,279" fill="none" stroke="#0d0d0d" stroke-width="1.85" stroke-linejoin="round"/>
<polyline points="442.7,280 444.2,288.5 446.7,289.5 451.7,280" fill="none" stroke="#0d0d0d" stroke-width="0.95" stroke-linejoin="round"/>
<path d="M 400.7 280.0 Q 408.7 280.0 412.7 275.5 L 428.7 275.5 Q 432.7 280.0 440.7 280.0" fill="none" stroke="#0d0d0d" stroke-width="0.95" stroke-linejoin="round"/>
<line x1="375.7" y1="283" x2="386.7" y2="283" stroke="#0d0d0d" stroke-width="0.95"/>
<line x1="454.7" y1="283" x2="465.7" y2="283" stroke="#0d0d0d" stroke-width="0.95"/>
<rect x="404.7" y="306.5" width="32" height="9" rx="0.8" fill="none" stroke="#0d0d0d" stroke-width="1.85"/>
<line x1="415" y1="306.5" x2="415" y2="315.5" stroke="#0d0d0d" stroke-width="1.85"/>
<line x1="426.5" y1="306.5" x2="426.5" y2="315.5" stroke="#0d0d0d" stroke-width="1.85"/>
<rect x="406.5" y="315.5" width="28.5" height="10" rx="1" fill="none" stroke="#0d0d0d" stroke-width="1.85"/>
<line x1="415.5" y1="315.5" x2="415.5" y2="325.5" stroke="#0d0d0d" stroke-width="1.85"/>
<line x1="426" y1="315.5" x2="426" y2="325.5" stroke="#0d0d0d" stroke-width="1.85"/>
<path d="M 411.0 325.5 L 412.5 329.0 L 429.0 329.0 L 430.5 325.5" fill="none" stroke="#0d0d0d" stroke-width="1.85" stroke-linejoin="round"/>
<line x1="412.5" y1="327.6" x2="429" y2="327.6" stroke="#0d0d0d" stroke-width="2.4"/>
<polygon points="420.7,157.3 427.23,156.79 433.48,156.24 439.45,155.68 445.14,155.08 450.56,154.45 455.7,153.8 460.23,153.53 463.21,153.97 465.65,154.91 467.55,156.35 468.9,158.3 467.9,161.5 457.8,171.9 456.62,173.7 456.2,175.8 456.62,177.9 457.81,179.69 459.6,180.88 461.7,181.3 463.8,180.88 465.59,179.69 476.0,169.3 477.61,167.99 479.23,167.55 480.86,167.99 482.5,169.3 483.31,171.18 483.72,173.3 483.76,175.68 483.4,178.3 482.4,184.04 481.49,189.52 480.67,194.73 479.95,199.68 479.32,204.35 478.79,208.77 478.35,212.92 478.0,216.8 478.0,216.8 478.35,220.68 478.79,224.83 479.32,229.25 479.95,233.93 480.67,238.87 481.49,244.08 482.4,249.56 483.4,255.3 483.76,257.93 483.72,260.3 483.31,262.43 482.5,264.3 480.86,265.61 479.23,266.05 477.61,265.61 476.0,264.3 465.59,253.91 463.8,252.72 461.7,252.3 459.6,252.72 457.81,253.91 456.62,255.7 456.2,257.8 456.62,259.9 457.8,261.7 467.9,272.1 468.9,275.3 467.55,277.25 465.65,278.69 463.21,279.63 460.23,280.07 455.7,279.8 450.56,279.15 445.14,278.52 439.45,277.93 433.48,277.36 427.23,276.81 420.7,276.3 420.7,276.3 414.17,276.81 407.92,277.36 401.95,277.93 396.26,278.52 390.84,279.15 385.7,279.8 381.17,280.07 378.19,279.63 375.75,278.69 373.85,277.25 372.5,275.3 373.5,272.1 383.6,261.7 384.78,259.9 385.2,257.8 384.78,255.7 383.59,253.91 381.8,252.72 379.7,252.3 377.6,252.72 375.81,253.91 365.4,264.3 363.79,265.61 362.17,266.05 360.54,265.61 358.9,264.3 358.09,262.43 357.68,260.3 357.64,257.93 358.0,255.3 359.0,249.56 359.91,244.08 360.73,238.87 361.45,233.93 362.08,229.25 362.61,224.83 363.05,220.68 363.4,216.8 363.4,216.8 363.05,212.92 362.61,208.77 362.08,204.35 361.45,199.68 360.73,194.73 359.91,189.52 359.0,184.04 358.0,178.3 357.64,175.68 357.68,173.3 358.09,171.18 358.9,169.3 360.54,167.99 362.17,167.55 363.79,167.99 365.4,169.3 375.81,179.69 377.6,180.88 379.7,181.3 381.8,180.88 383.59,179.69 384.78,177.9 385.2,175.8 384.78,173.7 383.6,171.9 373.5,161.5 372.5,158.3 373.85,156.35 375.75,154.91 378.19,153.97 381.17,153.53 385.7,153.8 390.84,154.45 396.26,155.08 401.95,155.68 407.92,156.24 414.17,156.79 420.7,157.3" fill="#fff" stroke="#0d0d0d" stroke-width="1.85" stroke-linejoin="round"/>
<circle cx="420.7" cy="216.8" r="45" fill="none" stroke="#0d0d0d" stroke-width="1.85"/>
<circle cx="420.7" cy="216.8" r="11.3" fill="none" stroke="#0d0d0d" stroke-width="2.2"/>
<circle cx="420.7" cy="216.8" r="58" fill="none" stroke="#333" stroke-width="0.95" stroke-dasharray="7 2 1.5 2"/>
<rect x="417" y="201.8" width="7.4" height="4" rx="0.3" fill="none" stroke="#0d0d0d" stroke-width="1.85"/>
<circle cx="394.1" cy="190.4" r="4.8" fill="none" stroke="#0d0d0d" stroke-width="0.95"/>
<circle cx="394.1" cy="190.4" r="3.1" fill="none" stroke="#0d0d0d" stroke-width="1.85"/>
<circle cx="394.1" cy="190.4" r="1.4" fill="none" stroke="#0d0d0d" stroke-width="0.95"/>
<circle cx="394.1" cy="243.2" r="4.8" fill="none" stroke="#0d0d0d" stroke-width="0.95"/>
<circle cx="394.1" cy="243.2" r="3.1" fill="none" stroke="#0d0d0d" stroke-width="1.85"/>
<circle cx="394.1" cy="243.2" r="1.4" fill="none" stroke="#0d0d0d" stroke-width="0.95"/>
<circle cx="447.3" cy="190.4" r="4.8" fill="none" stroke="#0d0d0d" stroke-width="0.95"/>
<circle cx="447.3" cy="190.4" r="3.1" fill="none" stroke="#0d0d0d" stroke-width="1.85"/>
<circle cx="447.3" cy="190.4" r="1.4" fill="none" stroke="#0d0d0d" stroke-width="0.95"/>
<circle cx="447.3" cy="243.2" r="4.8" fill="none" stroke="#0d0d0d" stroke-width="0.95"/>
<circle cx="447.3" cy="243.2" r="3.1" fill="none" stroke="#0d0d0d" stroke-width="1.85"/>
<circle cx="447.3" cy="243.2" r="1.4" fill="none" stroke="#0d0d0d" stroke-width="0.95"/>
<path d="M 408.7 159.0 Q 420.7 156.5 432.7 159.0" fill="none" stroke="#0d0d0d" stroke-width="2.6" stroke-linejoin="round"/>
<line x1="420.7" y1="62" x2="420.7" y2="372" stroke="#222" stroke-width="0.95" stroke-dasharray="7 2 1.5 2"/>
<line x1="316" y1="216.8" x2="528" y2="216.8" stroke="#222" stroke-width="0.95" stroke-dasharray="7 2 1.5 2"/>
<line x1="547.2" y1="52.5" x2="547.2" y2="88.8" stroke="#2a2a2a" stroke-width="0.8"/>
<line x1="420.7" y1="56.7" x2="547.2" y2="56.7" stroke="#2a2a2a" stroke-width="1.05"/>
<polygon points="420.7,56.7 429.2,55.1 429.2,58.3" fill="#0d0d0d"/>
<polygon points="547.2,56.7 538.7,58.3 538.7,55.1" fill="#0d0d0d"/>
<text x="485" y="50.5" font-size="10" text-anchor="middle" fill="#5c5c5c">113</text>
<line x1="317.5" y1="68.7" x2="391" y2="68.7" stroke="#2a2a2a" stroke-width="0.8"/>
<line x1="317.5" y1="327.8" x2="409" y2="327.8" stroke="#2a2a2a" stroke-width="0.8"/>
<line x1="322.1" y1="68.7" x2="322.1" y2="327.8" stroke="#2a2a2a" stroke-width="1.05"/>
<polygon points="322.1,68.7 323.7,77.2 320.5,77.2" fill="#0d0d0d"/>
<polygon points="322.1,216.8 320.5,208.3 323.7,208.3" fill="#0d0d0d"/>
<polygon points="322.1,216.8 323.7,225.3 320.5,225.3" fill="#0d0d0d"/>
<polygon points="322.1,327.8 320.5,319.3 323.7,319.3" fill="#0d0d0d"/>
<text x="316.5" y="134.5" font-size="10" text-anchor="middle" fill="#5c5c5c" transform="rotate(-90 316.5 134.5)">130.5</text>
<text x="316.5" y="272.5" font-size="10" text-anchor="middle" fill="#5c5c5c" transform="rotate(-90 316.5 272.5)">98.6</text>
<line x1="342" y1="244.75" x2="342" y2="350.4" stroke="#2a2a2a" stroke-width="0.8"/>
<line x1="499.5" y1="244.75" x2="499.5" y2="350.4" stroke="#2a2a2a" stroke-width="0.8"/>
<line x1="331.8" y1="235" x2="331.8" y2="368.3" stroke="#2a2a2a" stroke-width="0.8"/>
<line x1="342" y1="346.5" x2="420.7" y2="346.5" stroke="#2a2a2a" stroke-width="1.05"/>
<polygon points="342,346.5 350.5,344.9 350.5,348.1" fill="#0d0d0d"/>
<polygon points="420.7,346.5 412.2,348.1 412.2,344.9" fill="#0d0d0d"/>
<line x1="420.7" y1="346.5" x2="499.5" y2="346.5" stroke="#2a2a2a" stroke-width="1.05"/>
<polygon points="420.7,346.5 429.2,344.9 429.2,348.1" fill="#0d0d0d"/>
<polygon points="499.5,346.5 491.0,348.1 491.0,344.9" fill="#0d0d0d"/>
<text x="380" y="341" font-size="10" text-anchor="middle" fill="#5c5c5c">70</text>
<text x="459.5" y="341" font-size="10" text-anchor="middle" fill="#5c5c5c">70</text>
<line x1="331.8" y1="364.4" x2="420.7" y2="364.4" stroke="#2a2a2a" stroke-width="1.05"/>
<polygon points="331.8,364.4 340.3,362.8 340.3,366.0" fill="#0d0d0d"/>
<polygon points="420.7,364.4 412.2,366.0 412.2,362.8" fill="#0d0d0d"/>
<text x="376.5" y="359" font-size="10" text-anchor="middle" fill="#5c5c5c">79</text>
<line x1="407.8" y1="193.8" x2="433.6" y2="193.8" stroke="#2a2a2a" stroke-width="1.05"/>
<polygon points="417.2,193.8 410.7,195.2 410.7,192.4" fill="#0d0d0d"/>
<polygon points="424.2,193.8 430.7,192.4 430.7,195.2" fill="#0d0d0d"/>
<line x1="417.2" y1="191" x2="417.2" y2="197" stroke="#2a2a2a" stroke-width="1.05"/>
<line x1="424.2" y1="191" x2="424.2" y2="197" stroke="#2a2a2a" stroke-width="1.05"/>
<text x="420.7" y="188.5" font-size="10" text-anchor="middle" fill="#5c5c5c">6 h9</text>
<line x1="425" y1="201.8" x2="525.6" y2="201.8" stroke="#2a2a2a" stroke-width="0.8"/>
<line x1="430" y1="228.6" x2="525.6" y2="228.6" stroke="#2a2a2a" stroke-width="0.8"/>
<line x1="521.3" y1="183" x2="521.3" y2="201.8" stroke="#2a2a2a" stroke-width="1.05"/>
<line x1="521.3" y1="229" x2="521.3" y2="247" stroke="#2a2a2a" stroke-width="1.05"/>
<polygon points="521.3,201.8 519.7,193.3 522.9,193.3" fill="#0d0d0d"/>
<polygon points="521.3,229 522.9,237.5 519.7,237.5" fill="#0d0d0d"/>
<text x="516" y="215.3" font-size="10" text-anchor="middle" fill="#5c5c5c" transform="rotate(-90 516 215.3)">22.5</text>
<polyline points="360.5,178 499.8,265.6 525.6,265.6" fill="none" stroke="#2a2a2a" stroke-width="1.05" stroke-linejoin="round"/>
<polygon points="363,181.3 370.63,184.18 368.94,186.9" fill="#0d0d0d"/>
<polygon points="479.3,253 471.67,250.12 473.36,247.4" fill="#0d0d0d"/>
<text x="514.7" y="260" font-size="10" text-anchor="middle" fill="#5c5c5c">ø103</text>
<line x1="468.91" y1="272.08" x2="490.91" y2="294.08" stroke="#2a2a2a" stroke-width="0.6"/>
<line x1="474.49" y1="263.52" x2="497.99" y2="287.02" stroke="#2a2a2a" stroke-width="0.6"/>
<line x1="475.22" y1="304.39" x2="506.28" y2="273.31" stroke="#2a2a2a" stroke-width="1.05"/>
<polygon points="488.22,291.39 484.61,296.97 482.63,294.99" fill="#0d0d0d"/>
<polygon points="495.28,284.31 498.89,278.73 500.87,280.71" fill="#0d0d0d"/>
<text x="486" y="284" font-size="10" text-anchor="middle" fill="#5c5c5c" transform="rotate(-45 486 284)">9</text>
<path d="M 637.5 777.8 L 637.5 772.3 Q 637.5 770.5 639.3 770.5 L 694.5 770.5 Q 696.3 770.5 696.3 772.3 L 696.3 777.8" fill="none" stroke="#0d0d0d" stroke-width="1.85" stroke-linejoin="round"/>
<line x1="640.3" y1="772.8" x2="693.3" y2="772.8" stroke="#0d0d0d" stroke-width="0.95"/>
<line x1="637.5" y1="775.3" x2="696.3" y2="775.3" stroke="#0d0d0d" stroke-width="0.95"/>
<line x1="640.8" y1="770.5" x2="640.8" y2="787.8" stroke="#0d0d0d" stroke-width="0.95"/>
<line x1="693.0" y1="770.5" x2="693.0" y2="787.8" stroke="#0d0d0d" stroke-width="0.95"/>
<polyline points="637.5,777.8 621.3,777.8 619.3,779.8 619.3,787.8" fill="none" stroke="#0d0d0d" stroke-width="1.85" stroke-linejoin="round"/>
<polyline points="696.3,777.8 712.3,777.8 714.3,779.8 714.3,787.8" fill="none" stroke="#0d0d0d" stroke-width="1.85" stroke-linejoin="round"/>
<polyline points="619.3,781.8 612.8,781.8 610.8,783.8 610.8,812.2" fill="none" stroke="#0d0d0d" stroke-width="1.85" stroke-linejoin="round"/>
<polyline points="714.3,781.8 718.3,781.8 720.1,783.8 720.1,812.2" fill="none" stroke="#0d0d0d" stroke-width="1.85" stroke-linejoin="round"/>
<rect x="607.9" y="791.8" width="2.9" height="9" rx="0.5" fill="none" stroke="#0d0d0d" stroke-width="1.85"/>
<path d="M 615.1 810.8 L 615.1 789.8 Q 615.1 787.8 617.1 787.8 L 641.9 787.8 Q 643.9 787.8 643.9 789.8 L 643.9 810.8" fill="none" stroke="#0d0d0d" stroke-width="1.85" stroke-linejoin="round"/>
<path d="M 688.3 810.8 L 688.3 789.8 Q 688.3 787.8 690.3 787.8 L 715.3 787.8 Q 717.3 787.8 717.3 789.8 L 717.3 810.8" fill="none" stroke="#0d0d0d" stroke-width="1.85" stroke-linejoin="round"/>
<line x1="617.8" y1="790.8" x2="641.3" y2="790.8" stroke="#0d0d0d" stroke-width="0.95"/>
<line x1="690.8" y1="790.8" x2="714.8" y2="790.8" stroke="#0d0d0d" stroke-width="0.95"/>
<line x1="641.0" y1="790.8" x2="641.0" y2="810.8" stroke="#0d0d0d" stroke-width="0.95"/>
<line x1="691.1" y1="790.8" x2="691.1" y2="810.8" stroke="#0d0d0d" stroke-width="0.95"/>
<line x1="615.1" y1="810.8" x2="643.9" y2="810.8" stroke="#0d0d0d" stroke-width="0.95"/>
<line x1="688.3" y1="810.8" x2="717.3" y2="810.8" stroke="#0d0d0d" stroke-width="0.95"/>
<path d="M 643.9 810.8 L 649.3 810.8 Q 651.6 810.8 651.6 807.8 Q 651.6 794.8 666.9 794.8 Q 682.1 794.8 682.1 807.8 Q 682.1 810.8 684.3 810.8 L 688.3 810.8" fill="none" stroke="#0d0d0d" stroke-width="1.85" stroke-linejoin="round"/>
<circle cx="666.9" cy="809.3" r="12" fill="none" stroke="#0d0d0d" stroke-width="1.7"/>
<circle cx="666.9" cy="809.3" r="8.8" fill="none" stroke="#0d0d0d" stroke-width="1.85"/>
<circle cx="666.9" cy="809.3" r="10.3" fill="none" stroke="#0d0d0d" stroke-width="0.95"/>
<path d="M 610.8 812.2 L 609.3 812.2 Q 607.3 812.2 607.3 814.2 L 607.3 826.55 L 721.5 826.55 L 721.5 814.2 Q 721.5 812.2 719.5 812.2 L 682.3 812.2" fill="none" stroke="#0d0d0d" stroke-width="1.85" stroke-linejoin="round"/>
<line x1="610.8" y1="812.2" x2="652.3" y2="812.2" stroke="#0d0d0d" stroke-width="1.85"/>
<line x1="607.3" y1="815.8" x2="654.3" y2="815.8" stroke="#0d0d0d" stroke-width="0.95"/>
<line x1="679.3" y1="815.8" x2="721.5" y2="815.8" stroke="#0d0d0d" stroke-width="0.95"/>
<path d="M 652.3 812.2 Q 655.3 822.8 666.9 822.8 Q 678.3 822.8 681.3 812.2" fill="none" stroke="#0d0d0d" stroke-width="1.85" stroke-linejoin="round"/>
<line x1="607.3" y1="820.8" x2="721.5" y2="820.8" stroke="#0d0d0d" stroke-width="0.95"/>
<path d="M 607.3 826.55 L 607.3 834.6 Q 607.3 836.6 609.3 836.6 L 739.6 836.6 Q 741.6 836.6 741.6 834.6 L 741.6 823.8" fill="none" stroke="#0d0d0d" stroke-width="1.85" stroke-linejoin="round"/>
<line x1="607.3" y1="830.3" x2="741.6" y2="830.3" stroke="#0d0d0d" stroke-width="0.95"/>
<line x1="611.3" y1="833.3" x2="737.3" y2="833.3" stroke="#0d0d0d" stroke-width="0.95"/>
<line x1="629.5" y1="812.2" x2="629.5" y2="836.6" stroke="#0d0d0d" stroke-width="0.95"/>
<line x1="704.3" y1="812.2" x2="704.3" y2="836.6" stroke="#0d0d0d" stroke-width="0.95"/>
<line x1="619.3" y1="812.2" x2="619.3" y2="826.55" stroke="#0d0d0d" stroke-width="0.95"/>
<line x1="643.9" y1="812.2" x2="643.9" y2="826.55" stroke="#0d0d0d" stroke-width="0.95"/>
<line x1="688.3" y1="812.2" x2="688.3" y2="826.55" stroke="#0d0d0d" stroke-width="0.95"/>
<line x1="714.3" y1="812.2" x2="714.3" y2="826.55" stroke="#0d0d0d" stroke-width="0.95"/>
<line x1="613.7" y1="836.6" x2="613.7" y2="849.5" stroke="#0d0d0d" stroke-width="1.85"/>
<line x1="720.1" y1="836.6" x2="720.1" y2="849.5" stroke="#0d0d0d" stroke-width="1.85"/>
<line x1="616.8" y1="836.6" x2="616.8" y2="851.8" stroke="#0d0d0d" stroke-width="0.95"/>
<line x1="717.0" y1="836.6" x2="717.0" y2="851.8" stroke="#0d0d0d" stroke-width="0.95"/>
<line x1="613.7" y1="842.8" x2="720.1" y2="842.8" stroke="#0d0d0d" stroke-width="0.95"/>
<polyline points="717.3,781.8 722.3,781.8 727.8,775.8 730.3,774.6 739.8,774.6 741.6,776.3 741.6,823.8" fill="none" stroke="#0d0d0d" stroke-width="1.85" stroke-linejoin="round"/>
<line x1="727.8" y1="775.8" x2="727.8" y2="823.8" stroke="#0d0d0d" stroke-width="0.95"/>
<line x1="731.3" y1="774.6" x2="731.3" y2="811.8" stroke="#0d0d0d" stroke-width="0.95"/>
<line x1="724.3" y1="781.8" x2="724.3" y2="823.8" stroke="#0d0d0d" stroke-width="0.95"/>
<line x1="720.1" y1="823.8" x2="741.6" y2="823.8" stroke="#0d0d0d" stroke-width="1.85"/>
<line x1="722.3" y1="812.2" x2="741.6" y2="812.2" stroke="#0d0d0d" stroke-width="0.95"/>
<rect x="741.6" y="779.1" width="2.5" height="34.5" rx="0.5" fill="none" stroke="#0d0d0d" stroke-width="1.85"/>
<path d="M 744.1 780.8 L 756.3 780.8 Q 760.3 780.8 760.3 784.8 L 760.3 807.8 Q 760.3 811.8 756.3 811.8 L 744.1 811.8" fill="none" stroke="#0d0d0d" stroke-width="1.85" stroke-linejoin="round"/>
<line x1="746.8" y1="780.8" x2="746.8" y2="811.8" stroke="#0d0d0d" stroke-width="0.95"/>
<line x1="749.3" y1="780.8" x2="749.3" y2="811.8" stroke="#0d0d0d" stroke-width="1.4"/>
<line x1="744.1" y1="796.3" x2="760.3" y2="796.3" stroke="#0d0d0d" stroke-width="0.95"/>
<rect x="760.3" y="784.8" width="8.5" height="23" rx="0.8" fill="none" stroke="#0d0d0d" stroke-width="1.85"/>
<line x1="760.3" y1="788.8" x2="768.8" y2="788.8" stroke="#0d0d0d" stroke-width="0.95"/>
<line x1="760.3" y1="803.8" x2="768.8" y2="803.8" stroke="#0d0d0d" stroke-width="0.95"/>
<line x1="762.8" y1="784.8" x2="762.8" y2="807.8" stroke="#0d0d0d" stroke-width="0.95"/>
<rect x="768.8" y="787.3" width="6" height="18" rx="0.8" fill="none" stroke="#0d0d0d" stroke-width="1.85"/>
<line x1="768.8" y1="791.8" x2="774.8" y2="791.8" stroke="#0d0d0d" stroke-width="0.95"/>
<line x1="768.8" y1="800.8" x2="774.8" y2="800.8" stroke="#0d0d0d" stroke-width="0.95"/>
<rect x="774.8" y="792.8" width="13" height="7" rx="0.5" fill="none" stroke="#0d0d0d" stroke-width="1.85"/>
<rect x="787.6" y="790.6" width="6.3" height="15.8" rx="1.2" fill="none" stroke="#0d0d0d" stroke-width="1.85"/>
<line x1="787.6" y1="795.8" x2="793.9" y2="795.8" stroke="#0d0d0d" stroke-width="0.95"/>
<line x1="787.6" y1="801.3" x2="793.9" y2="801.3" stroke="#0d0d0d" stroke-width="0.95"/>
<polyline points="607.3,829.8 603.6,833.8 589.3,865.4 591.8,868.8 595.3,866.8" fill="none" stroke="#0d0d0d" stroke-width="1.85" stroke-linejoin="round"/>
<polyline points="609.8,836.6 593.8,867.8" fill="none" stroke="#0d0d0d" stroke-width="1.85" stroke-linejoin="round"/>
<polyline points="606.3,835.8 592.3,866.3" fill="none" stroke="#0d0d0d" stroke-width="0.95" stroke-linejoin="round"/>
<polyline points="741.6,829.8 744.8,833.8 744.8,864.8 739.3,871.8" fill="none" stroke="#0d0d0d" stroke-width="1.85" stroke-linejoin="round"/>
<line x1="742.3" y1="836.6" x2="742.3" y2="864.8" stroke="#0d0d0d" stroke-width="0.95"/>
<polyline points="720.1,849.5 726.3,851.8 737.3,861.8 739.3,871.8" fill="none" stroke="#0d0d0d" stroke-width="1.85" stroke-linejoin="round"/>
<path d="M 613.7 847.9 Q 606.3 850.2 600.3 858.2 L 595.3 865.2" fill="none" stroke="#0d0d0d" stroke-width="1.85" stroke-linejoin="round"/>
<path d="M 617.8 863.2 Q 604.3 864.2 596.3 872.2 Q 588.8 880.2 588.6 893.2 L 588.6 940.2 Q 589.3 956.2 598.3 967.2 Q 606.3 977.2 617.8 982.2" fill="none" stroke="#0d0d0d" stroke-width="1.85" stroke-linejoin="round"/>
<path d="M 716.2 863.2 Q 729.3 864.2 737.3 872.2 Q 744.8 880.2 745.0 893.2 L 745.0 940.2 Q 744.3 956.2 735.3 967.2 Q 727.3 977.2 716.2 982.2" fill="none" stroke="#0d0d0d" stroke-width="1.85" stroke-linejoin="round"/>
<path d="M 617.8 868.2 Q 607.3 869.2 600.3 876.2 Q 593.3 883.2 592.8 893.2" fill="none" stroke="#0d0d0d" stroke-width="0.95" stroke-linejoin="round"/>
<path d="M 716.2 868.2 Q 726.3 869.2 733.3 876.2 Q 740.3 883.2 740.8 893.2" fill="none" stroke="#0d0d0d" stroke-width="0.95" stroke-linejoin="round"/>
<path d="M 617.8 875.7 L 612.3 875.7 Q 604.8 876.7 604.8 884.2 L 604.8 893.2" fill="none" stroke="#0d0d0d" stroke-width="0.95" stroke-linejoin="round"/>
<path d="M 716.2 875.7 L 721.3 875.7 Q 728.8 876.7 728.8 884.2 L 728.8 893.2" fill="none" stroke="#0d0d0d" stroke-width="0.95" stroke-linejoin="round"/>
<path d="M 604.8 939.2 L 604.8 954.2 Q 605.3 962.2 617.8 966.2" fill="none" stroke="#0d0d0d" stroke-width="0.95" stroke-linejoin="round"/>
<path d="M 728.8 939.2 L 728.8 954.2 Q 728.3 962.2 716.2 966.2" fill="none" stroke="#0d0d0d" stroke-width="0.95" stroke-linejoin="round"/>
<path d="M 592.8 939.2 Q 593.3 955.2 601.3 964.2 Q 608.3 972.2 617.8 976.2" fill="none" stroke="#0d0d0d" stroke-width="0.95" stroke-linejoin="round"/>
<path d="M 740.8 939.2 Q 740.3 955.2 732.3 964.2 Q 725.3 972.2 716.2 976.2" fill="none" stroke="#0d0d0d" stroke-width="0.95" stroke-linejoin="round"/>
<line x1="588.6" y1="893.2" x2="617.8" y2="893.2" stroke="#0d0d0d" stroke-width="1.85"/>
<line x1="716.2" y1="893.2" x2="745.0" y2="893.2" stroke="#0d0d0d" stroke-width="1.85"/>
<line x1="588.6" y1="939.2" x2="617.8" y2="939.2" stroke="#0d0d0d" stroke-width="1.85"/>
<line x1="716.2" y1="939.2" x2="745.0" y2="939.2" stroke="#0d0d0d" stroke-width="1.85"/>
<line x1="588.6" y1="899.2" x2="617.8" y2="899.2" stroke="#0d0d0d" stroke-width="0.95"/>
<line x1="588.6" y1="935.2" x2="617.8" y2="935.2" stroke="#0d0d0d" stroke-width="0.95"/>
<line x1="716.2" y1="899.2" x2="745.0" y2="899.2" stroke="#0d0d0d" stroke-width="0.95"/>
<line x1="716.2" y1="935.2" x2="745.0" y2="935.2" stroke="#0d0d0d" stroke-width="0.95"/>
<line x1="591.8" y1="893.2" x2="591.8" y2="939.2" stroke="#0d0d0d" stroke-width="0.95"/>
<line x1="741.8" y1="893.2" x2="741.8" y2="939.2" stroke="#0d0d0d" stroke-width="0.95"/>
<rect x="578.8" y="900.2" width="9.8" height="35" rx="1.5" fill="none" stroke="#0d0d0d" stroke-width="1.85"/>
<line x1="578.8" y1="908.2" x2="588.6" y2="908.2" stroke="#0d0d0d" stroke-width="0.95"/>
<line x1="578.8" y1="927.2" x2="588.6" y2="927.2" stroke="#0d0d0d" stroke-width="0.95"/>
<polyline points="634.0,870.2 634.5,846.2 636.5,841.7 639.5,840.7 642.5,843.2 655.0,865.7" fill="none" stroke="#0d0d0d" stroke-width="1.85" stroke-linejoin="round"/>
<polyline points="636.5,870.2 637.0,847.2 638.5,844.7 640.5,844.7 652.0,865.7" fill="none" stroke="#0d0d0d" stroke-width="1.85" stroke-linejoin="round"/>
<polyline points="639.0,870.2 639.5,849.2 649.0,865.7" fill="none" stroke="#0d0d0d" stroke-width="0.95" stroke-linejoin="round"/>
<polyline points="631.5,870.2 632.0,846.2" fill="none" stroke="#0d0d0d" stroke-width="0.95" stroke-linejoin="round"/>
<polyline points="700.0,870.2 699.5,846.2 697.5,841.7 694.5,840.7 691.5,843.2 679.0,865.7" fill="none" stroke="#0d0d0d" stroke-width="1.85" stroke-linejoin="round"/>
<polyline points="697.5,870.2 697.0,847.2 695.5,844.7 693.5,844.7 682.0,865.7" fill="none" stroke="#0d0d0d" stroke-width="1.85" stroke-linejoin="round"/>
<polyline points="695.0,870.2 694.5,849.2 685.0,865.7" fill="none" stroke="#0d0d0d" stroke-width="0.95" stroke-linejoin="round"/>
<polyline points="702.5,870.2 702.0,846.2" fill="none" stroke="#0d0d0d" stroke-width="0.95" stroke-linejoin="round"/>
<line x1="655.0" y1="865.7" x2="679.0" y2="865.7" stroke="#0d0d0d" stroke-width="1.85"/>
<line x1="652.0" y1="863.2" x2="682.0" y2="863.2" stroke="#0d0d0d" stroke-width="0.95"/>
<line x1="649.0" y1="860.7" x2="685.0" y2="860.7" stroke="#0d0d0d" stroke-width="0.95"/>
<line x1="655.0" y1="865.7" x2="655.0" y2="870.2" stroke="#0d0d0d" stroke-width="0.95"/>
<line x1="679.0" y1="865.7" x2="679.0" y2="870.2" stroke="#0d0d0d" stroke-width="0.95"/>
<line x1="640.8" y1="999.6" x2="693.3" y2="999.6" stroke="#0d0d0d" stroke-width="1.85"/>
<polyline points="640.8,999.6 640.8,1002.2 644.3,1005.5 689.8,1005.5 693.3,1002.2 693.3,999.6" fill="none" stroke="#0d0d0d" stroke-width="1.85" stroke-linejoin="round"/>
<line x1="640.8" y1="1002.2" x2="693.3" y2="1002.2" stroke="#0d0d0d" stroke-width="0.95"/>
<rect x="651.0" y="1006.7" width="32" height="9" rx="0.8" fill="none" stroke="#0d0d0d" stroke-width="1.85"/>
<line x1="661.3" y1="1006.7" x2="661.3" y2="1015.7" stroke="#0d0d0d" stroke-width="1.85"/>
<line x1="672.8" y1="1006.7" x2="672.8" y2="1015.7" stroke="#0d0d0d" stroke-width="1.85"/>
<rect x="652.8" y="1015.7" width="28.5" height="10" rx="1" fill="none" stroke="#0d0d0d" stroke-width="1.85"/>
<line x1="661.8" y1="1015.7" x2="661.8" y2="1025.7" stroke="#0d0d0d" stroke-width="1.85"/>
<line x1="672.3" y1="1015.7" x2="672.3" y2="1025.7" stroke="#0d0d0d" stroke-width="1.85"/>
<path d="M 657.3 1025.7 L 658.8 1029.2 L 675.3 1029.2 L 676.8 1025.7" fill="none" stroke="#0d0d0d" stroke-width="1.85" stroke-linejoin="round"/>
<line x1="658.8" y1="1027.8" x2="675.3" y2="1027.8" stroke="#0d0d0d" stroke-width="2.4"/>
<rect x="617.7" y="870.2" width="100.4" height="129.4" rx="5" fill="none" stroke="#0d0d0d" stroke-width="1.85"/>
<circle cx="627.1" cy="880.4" r="5" fill="none" stroke="#0d0d0d" stroke-width="1.85"/>
<circle cx="627.1" cy="880.4" r="3.1" fill="none" stroke="#0d0d0d" stroke-width="1.85"/>
<circle cx="627.1" cy="988.6" r="5" fill="none" stroke="#0d0d0d" stroke-width="1.85"/>
<circle cx="627.1" cy="988.6" r="3.1" fill="none" stroke="#0d0d0d" stroke-width="1.85"/>
<circle cx="641.3" cy="890.9" r="3.9" fill="none" stroke="#0d0d0d" stroke-width="1.85"/>
<circle cx="641.3" cy="890.9" r="2" fill="none" stroke="#0d0d0d" stroke-width="1.85"/>
<circle cx="641.3" cy="942.9" r="3.9" fill="none" stroke="#0d0d0d" stroke-width="1.85"/>
<circle cx="641.3" cy="942.9" r="2" fill="none" stroke="#0d0d0d" stroke-width="1.85"/>
<circle cx="706.9" cy="880.4" r="5" fill="none" stroke="#0d0d0d" stroke-width="1.85"/>
<circle cx="706.9" cy="880.4" r="3.1" fill="none" stroke="#0d0d0d" stroke-width="1.85"/>
<circle cx="706.9" cy="988.6" r="5" fill="none" stroke="#0d0d0d" stroke-width="1.85"/>
<circle cx="706.9" cy="988.6" r="3.1" fill="none" stroke="#0d0d0d" stroke-width="1.85"/>
<circle cx="692.7" cy="890.9" r="3.9" fill="none" stroke="#0d0d0d" stroke-width="1.85"/>
<circle cx="692.7" cy="890.9" r="2" fill="none" stroke="#0d0d0d" stroke-width="1.85"/>
<circle cx="692.7" cy="942.9" r="3.9" fill="none" stroke="#0d0d0d" stroke-width="1.85"/>
<circle cx="692.7" cy="942.9" r="2" fill="none" stroke="#0d0d0d" stroke-width="1.85"/>
<circle cx="667.0" cy="917.0" r="20.5" fill="none" stroke="#0d0d0d" stroke-width="1.85"/>
<circle cx="667.0" cy="917.0" r="8.5" fill="none" stroke="#0d0d0d" stroke-width="1.8"/>
<circle cx="667.0" cy="917.0" r="5.6" fill="none" stroke="#0d0d0d" stroke-width="1.85"/>
<rect x="664.7" y="905.5" width="4.6" height="3.6" rx="0.3" fill="none" stroke="#0d0d0d" stroke-width="1.85"/>
<line x1="667.0" y1="762.2" x2="667.0" y2="1037.2" stroke="#222" stroke-width="0.95" stroke-dasharray="7 2 1.5 2"/>
<line x1="667.0" y1="1037.2" x2="667.0" y2="1046.2" stroke="#222" stroke-width="0.95" stroke-dasharray="7 2 1.5 2"/>
<line x1="578" y1="917" x2="764" y2="917" stroke="#222" stroke-width="0.95" stroke-dasharray="7 2 1.5 2"/>
<line x1="652" y1="891.75" x2="682" y2="891.75" stroke="#2a2a2a" stroke-width="1.05"/>
<polygon points="664.7,891.75 658.2,893.15 658.2,890.35" fill="#0d0d0d"/>
<polygon points="669.3,891.75 675.8,890.35 675.8,893.15" fill="#0d0d0d"/>
<line x1="664.7" y1="888.5" x2="664.7" y2="895" stroke="#2a2a2a" stroke-width="1.05"/>
<line x1="669.3" y1="888.5" x2="669.3" y2="895" stroke="#2a2a2a" stroke-width="1.05"/>
<text x="667" y="886.5" font-size="10" text-anchor="middle" fill="#5c5c5c">4 h9</text>
<line x1="671" y1="906" x2="764" y2="906" stroke="#2a2a2a" stroke-width="0.8"/>
<line x1="758.4" y1="864.4" x2="758.4" y2="906" stroke="#2a2a2a" stroke-width="1.05"/>
<line x1="758.4" y1="917" x2="758.4" y2="935" stroke="#2a2a2a" stroke-width="1.05"/>
<polygon points="758.4,906 756.8,897.5 760.0,897.5" fill="#0d0d0d"/>
<polygon points="758.4,917 760.0,925.5 756.8,925.5" fill="#0d0d0d"/>
<text x="751" y="876" font-size="10" text-anchor="middle" fill="#5c5c5c" transform="rotate(-90 751 876)">9.5</text>
<polyline points="594.5,1006.2 614.6,1006.2 643.4,970" fill="none" stroke="#2a2a2a" stroke-width="1.05" stroke-linejoin="round"/>
<polygon points="624.9,992.6 621.95,998.56 619.76,996.82" fill="#0d0d0d"/>
<polygon points="631.3,984.6 634.25,978.64 636.44,980.38" fill="#0d0d0d"/>
<text x="602.3" y="1001.5" font-size="10" text-anchor="middle" fill="#5c5c5c">ø9</text>
<line x1="628.1" y1="1001" x2="628.1" y2="1068.5" stroke="#2a2a2a" stroke-width="0.8"/>
<line x1="707.2" y1="1001" x2="707.2" y2="1068.5" stroke="#2a2a2a" stroke-width="0.8"/>
<line x1="628.1" y1="1044.7" x2="667" y2="1044.7" stroke="#2a2a2a" stroke-width="1.05"/>
<polygon points="628.1,1044.7 636.6,1043.1 636.6,1046.3" fill="#0d0d0d"/>
<polygon points="667,1044.7 658.5,1046.3 658.5,1043.1" fill="#0d0d0d"/>
<text x="647.7" y="1039" font-size="10" text-anchor="middle" fill="#5c5c5c">35.75</text>
<line x1="628.1" y1="1064.8" x2="707.2" y2="1064.8" stroke="#2a2a2a" stroke-width="1.05"/>
<polygon points="628.1,1064.8 636.6,1063.2 636.6,1066.4" fill="#0d0d0d"/>
<polygon points="707.2,1064.8 698.7,1066.4 698.7,1063.2" fill="#0d0d0d"/>
<text x="667.8" y="1059.5" font-size="10" text-anchor="middle" fill="#5c5c5c">71.5</text>
<line x1="555" y1="880.4" x2="623" y2="880.4" stroke="#2a2a2a" stroke-width="0.8"/>
<line x1="555" y1="988.6" x2="614.6" y2="988.6" stroke="#2a2a2a" stroke-width="0.8"/>
<line x1="558.5" y1="880.4" x2="558.5" y2="988.6" stroke="#2a2a2a" stroke-width="1.05"/>
<polygon points="558.5,880.4 560.1,888.9 556.9,888.9" fill="#0d0d0d"/>
<polygon points="558.5,988.6 556.9,980.1 560.1,980.1" fill="#0d0d0d"/>
<text x="553.5" y="931" font-size="10" text-anchor="middle" fill="#5c5c5c" transform="rotate(-90 553.5 931)">96</text>
<line x1="573.5" y1="880.4" x2="573.5" y2="917" stroke="#2a2a2a" stroke-width="1.05"/>
<polygon points="573.5,880.4 575.1,888.9 571.9,888.9" fill="#0d0d0d"/>
<polygon points="573.5,917 571.9,908.5 575.1,908.5" fill="#0d0d0d"/>
<text x="568.5" y="898.5" font-size="10" text-anchor="middle" fill="#5c5c5c" transform="rotate(-90 568.5 898.5)">32.5</text>
<path d="M 103.5 558.5 L 69.5 558.5 Q 66.7 558.5 66.7 561.5 L 66.7 583.7 Q 66.7 586.7 69.5 586.7 L 103.5 586.7" fill="none" stroke="#0d0d0d" stroke-width="1.85" stroke-linejoin="round"/>
<line x1="70" y1="561" x2="103.5" y2="561" stroke="#0d0d0d" stroke-width="0.95"/>
<line x1="103.5" y1="558.5" x2="103.5" y2="586.7" stroke="#0d0d0d" stroke-width="1.85"/>
<polyline points="115,521.3 104,521.3 104,623.9 115,623.9" fill="none" stroke="#0d0d0d" stroke-width="1.85" stroke-linejoin="round"/>
<line x1="106.5" y1="521.3" x2="106.5" y2="623.9" stroke="#0d0d0d" stroke-width="0.95"/>
<path d="M 115.0 512.0 Q 115.0 508.75 118.0 508.75 L 125.0 508.75 Q 128.0 508.75 128.0 512.0 L 128.0 633.0 Q 128.0 636.4 125.0 636.4 L 118.0 636.4 Q 115.0 636.4 115.0 633.0 Z" fill="none" stroke="#0d0d0d" stroke-width="1.85" stroke-linejoin="round"/>
<line x1="117.5" y1="511" x2="117.5" y2="634" stroke="#0d0d0d" stroke-width="1.85"/>
<line x1="125.5" y1="511" x2="125.5" y2="634" stroke="#0d0d0d" stroke-width="0.95"/>
<line x1="121" y1="520" x2="121" y2="625" stroke="#0d0d0d" stroke-width="0.95"/>
<line x1="115" y1="517" x2="128" y2="517" stroke="#0d0d0d" stroke-width="0.95"/>
<line x1="115" y1="628" x2="128" y2="628" stroke="#0d0d0d" stroke-width="0.95"/>
<line x1="115" y1="521.3" x2="128" y2="521.3" stroke="#0d0d0d" stroke-width="0.95"/>
<line x1="115" y1="623.9" x2="128" y2="623.9" stroke="#0d0d0d" stroke-width="0.95"/>
<path d="M 156.0 470.4 L 156.0 438.0 Q 156.0 435.0 159.0 435.0 L 222.0 435.0 Q 226.0 435.0 228.0 438.0" fill="none" stroke="#0d0d0d" stroke-width="1.85" stroke-linejoin="round"/>
<line x1="159" y1="437.5" x2="224" y2="437.5" stroke="#0d0d0d" stroke-width="0.95"/>
<line x1="160" y1="435" x2="160" y2="470" stroke="#0d0d0d" stroke-width="0.95"/>
<line x1="163" y1="437.5" x2="163" y2="470" stroke="#0d0d0d" stroke-width="0.95"/>
<rect x="151" y="447.4" width="5" height="14.4" rx="1" fill="none" stroke="#0d0d0d" stroke-width="1.85"/>
<rect x="166.7" y="461.8" width="74.2" height="8.6" rx="1" fill="none" stroke="#0d0d0d" stroke-width="1.85"/>
<rect x="171.9" y="456" width="12.9" height="5.8" rx="0.5" fill="none" stroke="#0d0d0d" stroke-width="1.85"/>
<rect x="223.6" y="456" width="13" height="5.8" rx="0.5" fill="none" stroke="#0d0d0d" stroke-width="1.85"/>
<line x1="175" y1="456" x2="175" y2="461.8" stroke="#0d0d0d" stroke-width="0.95"/>
<line x1="181.5" y1="456" x2="181.5" y2="461.8" stroke="#0d0d0d" stroke-width="0.95"/>
<line x1="227" y1="456" x2="227" y2="461.8" stroke="#0d0d0d" stroke-width="0.95"/>
<line x1="233.5" y1="456" x2="233.5" y2="461.8" stroke="#0d0d0d" stroke-width="0.95"/>
<path d="M 189.0 470.4 L 189.0 450.0 Q 189.0 437.5 203.5 437.5 Q 219.3 437.5 219.3 450.0 L 219.3 470.4" fill="none" stroke="#0d0d0d" stroke-width="1.85" stroke-linejoin="round"/>
<path d="M 191.5 461.8 L 191.5 451.0 Q 191.5 440.0 203.5 440.0 Q 216.8 440.0 216.8 451.0 L 216.8 461.8" fill="none" stroke="#0d0d0d" stroke-width="0.95" stroke-linejoin="round"/>
<circle cx="203.5" cy="453.2" r="10.3" fill="none" stroke="#0d0d0d" stroke-width="2.2"/>
<circle cx="203.5" cy="453.2" r="12.3" fill="none" stroke="#0d0d0d" stroke-width="0.95"/>
<line x1="184" y1="440" x2="184" y2="456" stroke="#0d0d0d" stroke-width="0.95"/>
<line x1="223" y1="440" x2="223" y2="456" stroke="#0d0d0d" stroke-width="0.95"/>
<line x1="166" y1="445" x2="189" y2="445" stroke="#0d0d0d" stroke-width="0.95"/>
<rect x="150.3" y="470.4" width="93.5" height="20.2" rx="3" fill="none" stroke="#0d0d0d" stroke-width="1.85"/>
<line x1="150.3" y1="474" x2="243.75" y2="474" stroke="#0d0d0d" stroke-width="0.95"/>
<line x1="150.3" y1="487" x2="243.75" y2="487" stroke="#0d0d0d" stroke-width="0.95"/>
<line x1="166.7" y1="470.4" x2="166.7" y2="490.6" stroke="#0d0d0d" stroke-width="0.95"/>
<line x1="173" y1="470.4" x2="173" y2="490.6" stroke="#0d0d0d" stroke-width="0.95"/>
<line x1="189" y1="470.4" x2="189" y2="490.6" stroke="#0d0d0d" stroke-width="0.95"/>
<line x1="219.3" y1="470.4" x2="219.3" y2="490.6" stroke="#0d0d0d" stroke-width="0.95"/>
<line x1="233" y1="470.4" x2="233" y2="490.6" stroke="#0d0d0d" stroke-width="0.95"/>
<line x1="240.9" y1="470.4" x2="240.9" y2="490.6" stroke="#0d0d0d" stroke-width="0.95"/>
<path d="M 228.0 438.0 Q 232.0 434.0 240.0 432.0 L 244.0 431.6 L 279.7 431.6 L 279.7 483.4 L 244.0 483.4 L 243.75 470.4" fill="none" stroke="#0d0d0d" stroke-width="1.85" stroke-linejoin="round"/>
<line x1="243.75" y1="431.6" x2="243.75" y2="483.4" stroke="#0d0d0d" stroke-width="0.95"/>
<line x1="262" y1="431.6" x2="262" y2="483.4" stroke="#0d0d0d" stroke-width="0.95"/>
<line x1="265.2" y1="431.6" x2="265.2" y2="483.4" stroke="#0d0d0d" stroke-width="2.2"/>
<line x1="268.5" y1="431.6" x2="268.5" y2="483.4" stroke="#0d0d0d" stroke-width="0.95"/>
<line x1="276" y1="431.6" x2="276" y2="483.4" stroke="#0d0d0d" stroke-width="0.95"/>
<line x1="243.75" y1="457" x2="279.7" y2="457" stroke="#0d0d0d" stroke-width="0.95"/>
<rect x="279.7" y="436.5" width="3.5" height="42" rx="0.5" fill="none" stroke="#0d0d0d" stroke-width="1.85"/>
<path d="M 283.2 438.8 L 294.0 438.8 Q 298.4 438.8 298.4 443.0 L 298.4 469.0 Q 298.4 473.3 294.0 473.3 L 283.2 473.3" fill="none" stroke="#0d0d0d" stroke-width="1.85" stroke-linejoin="round"/>
<line x1="286" y1="438.8" x2="286" y2="473.3" stroke="#0d0d0d" stroke-width="0.95"/>
<line x1="289" y1="438.8" x2="289" y2="473.3" stroke="#0d0d0d" stroke-width="1.4"/>
<line x1="283.2" y1="456" x2="298.4" y2="456" stroke="#0d0d0d" stroke-width="0.95"/>
<rect x="298.4" y="443" width="7" height="24.6" rx="0.8" fill="none" stroke="#0d0d0d" stroke-width="1.85"/>
<line x1="298.4" y1="448" x2="305.4" y2="448" stroke="#0d0d0d" stroke-width="0.95"/>
<line x1="298.4" y1="463" x2="305.4" y2="463" stroke="#0d0d0d" stroke-width="0.95"/>
<rect x="305.4" y="446" width="6" height="18.5" rx="0.8" fill="none" stroke="#0d0d0d" stroke-width="1.85"/>
<line x1="305.4" y1="451" x2="311.4" y2="451" stroke="#0d0d0d" stroke-width="0.95"/>
<line x1="305.4" y1="460" x2="311.4" y2="460" stroke="#0d0d0d" stroke-width="0.95"/>
<rect x="311.4" y="451.75" width="8.6" height="7.3" rx="0.5" fill="none" stroke="#0d0d0d" stroke-width="1.85"/>
<rect x="320" y="448.9" width="4.8" height="12.9" rx="1.2" fill="none" stroke="#0d0d0d" stroke-width="1.85"/>
<line x1="320" y1="453.5" x2="324.8" y2="453.5" stroke="#0d0d0d" stroke-width="0.95"/>
<line x1="320" y1="457.5" x2="324.8" y2="457.5" stroke="#0d0d0d" stroke-width="0.95"/>
<path d="M 128.0 510.7 L 137.0 510.7 Q 142.5 510.0 146.0 501.0 L 151.2 490.6" fill="none" stroke="#0d0d0d" stroke-width="1.85" stroke-linejoin="round"/>
<path d="M 128.0 514.5 L 138.5 514.5 Q 146.0 513.0 149.5 503.0 L 155.0 490.6" fill="none" stroke="#0d0d0d" stroke-width="0.95" stroke-linejoin="round"/>
<path d="M 160.0 490.6 L 153.0 507.0 Q 151.0 513.0 155.0 520.0 L 163.0 532.0 Q 166.0 537.0 166.0 547.0" fill="none" stroke="#0d0d0d" stroke-width="0.95" stroke-linejoin="round"/>
<path d="M 166.0 490.6 L 158.5 508.0 Q 157.0 513.0 160.5 518.5 L 166.1 527.0" fill="none" stroke="#0d0d0d" stroke-width="0.95" stroke-linejoin="round"/>
<path d="M 128.0 527.0 Q 131.0 523.0 137.0 521.0 Q 146.0 519.0 149.0 512.0" fill="none" stroke="#0d0d0d" stroke-width="0.95" stroke-linejoin="round"/>
<path d="M 128.0 544.0 L 128.0 536.0 Q 129.0 528.0 137.0 526.0 Q 147.0 524.0 151.0 519.0 Q 158.0 527.0 166.0 540.0" fill="none" stroke="#0d0d0d" stroke-width="0.95" stroke-linejoin="round"/>
<line x1="166.1" y1="520.25" x2="187.7" y2="520.25" stroke="#0d0d0d" stroke-width="1.85"/>
<line x1="219.3" y1="520.25" x2="246.6" y2="520.25" stroke="#0d0d0d" stroke-width="1.85"/>
<line x1="166.1" y1="520.25" x2="166.1" y2="548" stroke="#0d0d0d" stroke-width="1.85"/>
<line x1="169" y1="520.25" x2="169" y2="552" stroke="#0d0d0d" stroke-width="0.95"/>
<line x1="243.75" y1="490.6" x2="243.75" y2="520.25" stroke="#0d0d0d" stroke-width="1.85"/>
<line x1="240.9" y1="490.6" x2="240.9" y2="520.25" stroke="#0d0d0d" stroke-width="0.95"/>
<line x1="230.8" y1="520.25" x2="230.8" y2="600.75" stroke="#0d0d0d" stroke-width="0.95"/>
<line x1="233.5" y1="520.25" x2="233.5" y2="600.75" stroke="#0d0d0d" stroke-width="0.95"/>
<path d="M 187.7 518.8 L 187.7 510.0 Q 187.7 495.8 203.5 495.8 Q 219.3 495.8 219.3 510.0 L 219.3 518.8" fill="none" stroke="#0d0d0d" stroke-width="1.85" stroke-linejoin="round"/>
<path d="M 190.0 518.8 L 190.0 510.0 Q 190.0 498.0 203.5 498.0 Q 217.0 498.0 217.0 510.0 L 217.0 518.8" fill="none" stroke="#0d0d0d" stroke-width="0.95" stroke-linejoin="round"/>
<rect x="186.3" y="518.8" width="34.5" height="7.2" rx="0.5" fill="none" stroke="#0d0d0d" stroke-width="1.85"/>
<line x1="186.3" y1="521.5" x2="220.8" y2="521.5" stroke="#0d0d0d" stroke-width="1.5"/>
<circle cx="191.5" cy="521.8" r="1.1" fill="none" stroke="#0d0d0d" stroke-width="0.6"/>
<circle cx="215.5" cy="521.8" r="1.1" fill="none" stroke="#0d0d0d" stroke-width="0.6"/>
<rect x="173.3" y="527.4" width="56.1" height="28.8" rx="1.5" fill="none" stroke="#0d0d0d" stroke-width="1.5"/>
<rect x="176.2" y="530.3" width="50.3" height="21.6" rx="1" fill="none" stroke="#0d0d0d" stroke-width="1.85"/>
<circle cx="180.5" cy="541.2" r="1.3" fill="none" stroke="#0d0d0d" stroke-width="0.7"/>
<circle cx="222.2" cy="541.2" r="1.3" fill="none" stroke="#0d0d0d" stroke-width="0.7"/>
<line x1="173.3" y1="558.5" x2="229.4" y2="558.5" stroke="#0d0d0d" stroke-width="0.95"/>
<path d="M 124.0 544.4 Q 116.0 545.2 116.0 553.0 L 116.0 592.0 Q 116.0 599.5 124.0 600.3 L 156.0 600.3 Q 164.0 599.6 168.0 594.0 L 182.0 572.6 L 168.0 551.0 Q 164.0 545.3 156.0 544.4 Z" fill="#fff" stroke="#0d0d0d" stroke-width="1.85" stroke-linejoin="round"/>
<path d="M 125.0 547.2 Q 118.7 548.0 118.7 554.0 L 118.7 591.0 Q 118.7 597.0 125.0 597.8 L 155.0 597.8 Q 162.0 597.0 165.5 592.0 L 178.0 572.6 L 165.5 553.0 Q 162.0 548.2 155.0 547.2 Z" fill="none" stroke="#0d0d0d" stroke-width="0.95" stroke-linejoin="round"/>
<circle cx="140.9" cy="572.6" r="21.5" fill="none" stroke="#0d0d0d" stroke-width="1.85"/>
<circle cx="140.9" cy="572.6" r="15.8" fill="none" stroke="#0d0d0d" stroke-width="2.2"/>
<circle cx="140.9" cy="572.6" r="17.5" fill="none" stroke="#0d0d0d" stroke-width="0.95"/>
<line x1="181.7" y1="547.6" x2="246.6" y2="547.6" stroke="#0d0d0d" stroke-width="0.95"/>
<line x1="181.7" y1="597.6" x2="246.6" y2="597.6" stroke="#0d0d0d" stroke-width="0.95"/>
<line x1="166.1" y1="597.3" x2="166.1" y2="640" stroke="#0d0d0d" stroke-width="1.85"/>
<line x1="169" y1="594" x2="169" y2="644" stroke="#0d0d0d" stroke-width="0.95"/>
<path d="M 246.6 505.0 Q 246.6 501.6 250.0 501.6 L 257.5 501.6 Q 261.0 501.6 261.0 505.0 L 261.0 640.0 Q 261.0 643.6 257.5 643.6 L 250.0 643.6 Q 246.6 643.6 246.6 640.0 Z" fill="none" stroke="#0d0d0d" stroke-width="1.85" stroke-linejoin="round"/>
<line x1="249.5" y1="502" x2="249.5" y2="643" stroke="#0d0d0d" stroke-width="0.95"/>
<line x1="258" y1="502" x2="258" y2="643" stroke="#0d0d0d" stroke-width="0.95"/>
<line x1="254" y1="510" x2="254" y2="636" stroke="#0d0d0d" stroke-width="0.95"/>
<line x1="243.75" y1="520.25" x2="243.75" y2="644" stroke="#0d0d0d" stroke-width="1.85"/>
<rect x="261" y="507.3" width="13" height="31.7" rx="1.5" fill="none" stroke="#0d0d0d" stroke-width="1.85"/>
<line x1="264" y1="507.3" x2="264" y2="537.3" stroke="#0d0d0d" stroke-width="0.95"/>
<line x1="261" y1="511.3" x2="274" y2="511.3" stroke="#0d0d0d" stroke-width="0.95"/>
<line x1="261" y1="533.3" x2="274" y2="533.3" stroke="#0d0d0d" stroke-width="0.95"/>
<rect x="261" y="605" width="13" height="30" rx="1.5" fill="none" stroke="#0d0d0d" stroke-width="1.85"/>
<line x1="264" y1="605" x2="264" y2="635" stroke="#0d0d0d" stroke-width="0.95"/>
<line x1="261" y1="609" x2="274" y2="609" stroke="#0d0d0d" stroke-width="0.95"/>
<line x1="261" y1="631" x2="274" y2="631" stroke="#0d0d0d" stroke-width="0.95"/>
<path d="M 274.0 519.0 L 283.0 519.0 Q 286.0 519.0 286.0 522.0 L 286.0 622.3 Q 286.0 625.3 283.0 625.3 L 274.0 625.3" fill="none" stroke="#0d0d0d" stroke-width="1.85" stroke-linejoin="round"/>
<line x1="284" y1="521" x2="284" y2="623.5" stroke="#0d0d0d" stroke-width="0.95"/>
<line x1="261" y1="539" x2="261" y2="605" stroke="#0d0d0d" stroke-width="1.85"/>
<line x1="264" y1="539" x2="264" y2="605" stroke="#0d0d0d" stroke-width="0.95"/>
<line x1="272.5" y1="539" x2="272.5" y2="605" stroke="#0d0d0d" stroke-width="0.95"/>
<line x1="261" y1="544.5" x2="286" y2="544.5" stroke="#0d0d0d" stroke-width="1.85"/>
<line x1="261" y1="600" x2="286" y2="600" stroke="#0d0d0d" stroke-width="1.85"/>
<line x1="233.5" y1="547.6" x2="246.6" y2="547.6" stroke="#0d0d0d" stroke-width="0.95"/>
<line x1="233.5" y1="597.3" x2="246.6" y2="597.3" stroke="#0d0d0d" stroke-width="0.95"/>
<path d="M 262.5 547.0 Q 281.5 555.0 281.5 572.6 Q 281.5 590.0 262.5 598.3" fill="none" stroke="#0d0d0d" stroke-width="1.85" stroke-linejoin="round"/>
<path d="M 262.5 551.0 Q 276.5 558.0 276.5 572.6 Q 276.5 587.0 262.5 594.0" fill="none" stroke="#0d0d0d" stroke-width="0.95" stroke-linejoin="round"/>
<line x1="274" y1="520.25" x2="274" y2="539" stroke="#0d0d0d" stroke-width="0.95"/>
<polyline points="230.8,600.75 203.5,600.75 203.5,625" fill="none" stroke="#0d0d0d" stroke-width="1.85" stroke-linejoin="round"/>
<line x1="206.5" y1="603.5" x2="230.8" y2="603.5" stroke="#0d0d0d" stroke-width="0.95"/>
<line x1="206.5" y1="603.5" x2="206.5" y2="623" stroke="#0d0d0d" stroke-width="0.95"/>
<line x1="203.5" y1="612" x2="246.6" y2="612" stroke="#0d0d0d" stroke-width="0.95"/>
<line x1="181" y1="600.75" x2="203.5" y2="600.75" stroke="#0d0d0d" stroke-width="0.95"/>
<polyline points="128,623 170.4,647.6" fill="none" stroke="#0d0d0d" stroke-width="1.85" stroke-linejoin="round"/>
<polyline points="128,618.5 166.1,640.5" fill="none" stroke="#0d0d0d" stroke-width="0.95" stroke-linejoin="round"/>
<path d="M 128.0 600.75 L 128.0 607.0 Q 129.0 615.0 137.0 617.0 Q 147.0 619.0 151.0 624.0 Q 156.0 628.0 157.0 634.0 L 159.0 641.0" fill="none" stroke="#0d0d0d" stroke-width="0.95" stroke-linejoin="round"/>
<path d="M 134.0 600.75 Q 135.0 611.0 143.0 613.0 Q 153.0 615.0 158.0 621.0 Q 164.0 627.0 166.0 634.0" fill="none" stroke="#0d0d0d" stroke-width="0.95" stroke-linejoin="round"/>
<path d="M 128.0 623.0 L 137.0 623.0 Q 146.0 624.0 150.0 630.0 L 152.0 636.5" fill="none" stroke="#0d0d0d" stroke-width="0.95" stroke-linejoin="round"/>
<path d="M 170.4 656.0 L 170.4 639.0 L 191.0 630.5 Q 198.0 628.5 198.5 625.0 Q 203.0 621.5 205.0 621.5 Q 208.5 621.5 212.0 625.0 Q 213.0 628.5 220.0 631.0 L 239.4 641.8 L 239.4 656.0 Q 239.4 657.6 237.5 657.6 L 172.3 657.6 Q 170.4 657.6 170.4 656.0" fill="none" stroke="#0d0d0d" stroke-width="1.85" stroke-linejoin="round"/>
<path d="M 205.0 624.6 Q 197.0 632.0 197.0 642.0 Q 198.0 651.9 205.0 651.9 Q 212.5 651.9 213.5 642.0 Q 213.0 632.0 205.0 624.6" fill="none" stroke="#0d0d0d" stroke-width="1.85" stroke-linejoin="round"/>
<line x1="170.4" y1="652" x2="239.4" y2="652" stroke="#0d0d0d" stroke-width="0.95"/>
<line x1="239.4" y1="641.8" x2="246.6" y2="643.6" stroke="#0d0d0d" stroke-width="0.95"/>
<polyline points="180.5,657.6 188.5,667 189,669 220.75,669 221.2,667 228,657.6" fill="none" stroke="#0d0d0d" stroke-width="1.85" stroke-linejoin="round"/>
<line x1="184" y1="662" x2="224.5" y2="662" stroke="#0d0d0d" stroke-width="0.95"/>
<line x1="187" y1="665.5" x2="222.5" y2="665.5" stroke="#0d0d0d" stroke-width="0.95"/>
<rect x="189" y="669" width="31.75" height="5" rx="0.8" fill="none" stroke="#0d0d0d" stroke-width="1.85"/>
<rect x="191" y="674" width="27.8" height="11" rx="1" fill="none" stroke="#0d0d0d" stroke-width="1.85"/>
<line x1="196" y1="674" x2="196" y2="685" stroke="#0d0d0d" stroke-width="1.85"/>
<line x1="213.5" y1="674" x2="213.5" y2="685" stroke="#0d0d0d" stroke-width="1.85"/>
<path d="M 194.0 685.0 Q 205.0 694.0 216.0 685.0" fill="none" stroke="#0d0d0d" stroke-width="1.8" stroke-linejoin="round"/>
<line x1="196" y1="687.5" x2="214" y2="687.5" stroke="#0d0d0d" stroke-width="1.6"/>
<line x1="199" y1="690" x2="211" y2="690" stroke="#0d0d0d" stroke-width="1.4"/>
<line x1="201" y1="686" x2="201" y2="691" stroke="#0d0d0d" stroke-width="0.8"/>
<line x1="203.5" y1="686" x2="203.5" y2="691" stroke="#0d0d0d" stroke-width="0.8"/>
<line x1="206" y1="686" x2="206" y2="691" stroke="#0d0d0d" stroke-width="0.8"/>
<line x1="208.5" y1="686" x2="208.5" y2="691" stroke="#0d0d0d" stroke-width="0.8"/>
<line x1="62" y1="572.6" x2="302" y2="572.6" stroke="#222" stroke-width="0.95" stroke-dasharray="7 2 1.5 2"/>
<line x1="140.9" y1="540" x2="140.9" y2="606" stroke="#222" stroke-width="0.95" stroke-dasharray="7 2 1.5 2"/>
<line x1="203.5" y1="424" x2="203.5" y2="470" stroke="#222" stroke-width="0.95" stroke-dasharray="7 2 1.5 2"/>
<line x1="186" y1="453.2" x2="222" y2="453.2" stroke="#222" stroke-width="0.95" stroke-dasharray="7 2 1.5 2"/>
<text x="62" y="405.5" font-size="11.4" text-anchor="middle" fill="#5c5c5c">Drain port</text>
<text x="62" y="424.5" font-size="11.4" text-anchor="middle" fill="#5c5c5c">1/2" Gas BSP</text>
<polyline points="40,430.3 103,430.3 196,451.3" fill="none" stroke="#2a2a2a" stroke-width="1.05" stroke-linejoin="round"/>
<polygon points="199.5,450.8 191.75,453.36 191.36,450.19" fill="#0d0d0d"/>
<text x="33" y="488.2" font-size="11.4" text-anchor="middle" fill="#5c5c5c">Inlet port</text>
<text x="33" y="506.3" font-size="11.4" text-anchor="middle" fill="#5c5c5c">1" Gas BSP</text>
<polyline points="4.3,512.2 66.1,512.2 133.5,566.5" fill="none" stroke="#2a2a2a" stroke-width="1.05" stroke-linejoin="round"/>
<polygon points="135.5,568 128.28,564.21 130.29,561.72" fill="#0d0d0d"/>
<line x1="115" y1="411.5" x2="115" y2="509" stroke="#2a2a2a" stroke-width="0.8"/>
<line x1="324.3" y1="411.5" x2="324.3" y2="449" stroke="#2a2a2a" stroke-width="0.8"/>
<line x1="115" y1="414.4" x2="324.3" y2="414.4" stroke="#2a2a2a" stroke-width="1.05"/>
<polygon points="115,414.4 123.5,412.8 123.5,416.0" fill="#0d0d0d"/>
<polygon points="324.3,414.4 315.8,416.0 315.8,412.8" fill="#0d0d0d"/>
<text x="212" y="409" font-size="10" text-anchor="middle" fill="#5c5c5c">204</text>
<line x1="115" y1="430.8" x2="203.5" y2="430.8" stroke="#2a2a2a" stroke-width="1.05"/>
<polygon points="115,430.8 123.5,429.2 123.5,432.4" fill="#0d0d0d"/>
<polygon points="203.5,430.8 195.0,432.4 195.0,429.2" fill="#0d0d0d"/>
<text x="159.5" y="425.9" font-size="10" text-anchor="middle" fill="#5c5c5c">86.5</text>
<line x1="66.7" y1="475.7" x2="66.7" y2="558.5" stroke="#2a2a2a" stroke-width="0.8"/>
<line x1="66.7" y1="479" x2="115" y2="479" stroke="#2a2a2a" stroke-width="1.05"/>
<polygon points="66.7,479 75.2,477.4 75.2,480.6" fill="#0d0d0d"/>
<polygon points="115,479 106.5,480.6 106.5,477.4" fill="#0d0d0d"/>
<text x="92.8" y="472.5" font-size="10" text-anchor="middle" fill="#5c5c5c">46</text>
<line x1="103.8" y1="494" x2="103.8" y2="521" stroke="#2a2a2a" stroke-width="0.8"/>
<line x1="84.8" y1="499.7" x2="103.8" y2="499.7" stroke="#2a2a2a" stroke-width="1.05"/>
<line x1="115" y1="499.7" x2="135" y2="499.7" stroke="#2a2a2a" stroke-width="1.05"/>
<polygon points="103.8,499.7 95.3,501.3 95.3,498.1" fill="#0d0d0d"/>
<polygon points="115,499.7 123.5,498.1 123.5,501.3" fill="#0d0d0d"/>
<text x="109.3" y="494.3" font-size="10" text-anchor="middle" fill="#5c5c5c">10</text>
<line x1="31.6" y1="521.3" x2="104" y2="521.3" stroke="#2a2a2a" stroke-width="0.8"/>
<line x1="31.6" y1="623.9" x2="104" y2="623.9" stroke="#2a2a2a" stroke-width="0.8"/>
<line x1="36" y1="521.3" x2="36" y2="623.9" stroke="#2a2a2a" stroke-width="1.05"/>
<polygon points="36,521.3 37.6,529.8 34.4,529.8" fill="#0d0d0d"/>
<polygon points="36,623.9 34.4,615.4 37.6,615.4" fill="#0d0d0d"/>
<text x="31" y="572.6" font-size="10" text-anchor="middle" fill="#5c5c5c" transform="rotate(-90 31 572.6)">ø100 h8</text>
<line x1="50.3" y1="558.5" x2="67.6" y2="558.5" stroke="#2a2a2a" stroke-width="0.8"/>
<line x1="50.3" y1="586.7" x2="67.6" y2="586.7" stroke="#2a2a2a" stroke-width="0.8"/>
<line x1="54.6" y1="541.5" x2="54.6" y2="603.7" stroke="#2a2a2a" stroke-width="1.05"/>
<polygon points="54.6,558.5 53.0,550.0 56.2,550.0" fill="#0d0d0d"/>
<polygon points="54.6,586.7 56.2,595.2 53.0,595.2" fill="#0d0d0d"/>
<text x="49.5" y="572.6" font-size="10" text-anchor="middle" fill="#5c5c5c" transform="rotate(-90 49.5 572.6)">ø25 h7</text>
<line x1="296" y1="473" x2="296" y2="572.6" stroke="#2a2a2a" stroke-width="1.05"/>
<polygon points="296,572.6 294.4,564.1 297.6,564.1" fill="#0d0d0d"/>
<text x="290.5" y="486.5" font-size="10" text-anchor="middle" fill="#5c5c5c" transform="rotate(-90 290.5 486.5)">113</text>
<line x1="279.7" y1="473" x2="300" y2="473" stroke="#2a2a2a" stroke-width="0.8"/>
<line x1="105.8" y1="624" x2="105.8" y2="667" stroke="#2a2a2a" stroke-width="0.8"/>
<line x1="115" y1="636.4" x2="115" y2="714" stroke="#2a2a2a" stroke-width="0.8"/>
<line x1="66" y1="664.5" x2="105.8" y2="664.5" stroke="#2a2a2a" stroke-width="1.05"/>
<polygon points="105.8,664.5 97.3,666.1 97.3,662.9" fill="#0d0d0d"/>
<polygon points="115,664.5 123.5,662.9 123.5,666.1" fill="#0d0d0d"/>
<line x1="115" y1="664.5" x2="124" y2="664.5" stroke="#2a2a2a" stroke-width="1.05"/>
<text x="76.3" y="658" font-size="10" text-anchor="middle" fill="#5c5c5c">9</text>
<line x1="141.5" y1="594.5" x2="141.5" y2="693.5" stroke="#2a2a2a" stroke-width="0.8"/>
<line x1="94.9" y1="689.6" x2="115" y2="689.6" stroke="#2a2a2a" stroke-width="1.05"/>
<line x1="141.5" y1="689.6" x2="161" y2="689.6" stroke="#2a2a2a" stroke-width="1.05"/>
<polygon points="115,689.6 106.5,691.2 106.5,688.0" fill="#0d0d0d"/>
<polygon points="141.5,689.6 150.0,688.0 150.0,691.2" fill="#0d0d0d"/>
<text x="128.5" y="684" font-size="10" text-anchor="middle" fill="#5c5c5c">26</text>
<line x1="285.8" y1="626" x2="285.8" y2="714" stroke="#2a2a2a" stroke-width="0.8"/>
<line x1="115" y1="710.6" x2="285.8" y2="710.6" stroke="#2a2a2a" stroke-width="1.05"/>
<polygon points="115,710.6 123.5,709.0 123.5,712.2" fill="#0d0d0d"/>
<polygon points="285.8,710.6 277.3,712.2 277.3,709.0" fill="#0d0d0d"/>
<text x="192" y="704.3" font-size="10" text-anchor="middle" fill="#5c5c5c">166</text>
<path d="M 407.7 437.0 Q 415.0 431.0 422.9 431.0 Q 431.0 431.0 439.3 437.0" fill="none" stroke="#0d0d0d" stroke-width="1.85" stroke-linejoin="round"/>
<path d="M 411.0 436.5 Q 417.0 433.0 422.9 433.0 Q 429.0 433.0 435.0 436.5" fill="none" stroke="#0d0d0d" stroke-width="0.95" stroke-linejoin="round"/>
<polyline points="387.6,471 387.6,438 389.5,435.8 455,435.8" fill="none" stroke="#0d0d0d" stroke-width="1.85" stroke-linejoin="round"/>
<line x1="390.5" y1="438.5" x2="454" y2="438.5" stroke="#0d0d0d" stroke-width="0.95"/>
<line x1="392" y1="435.8" x2="392" y2="456" stroke="#0d0d0d" stroke-width="0.95"/>
<line x1="395.5" y1="438.5" x2="395.5" y2="456" stroke="#0d0d0d" stroke-width="0.95"/>
<polyline points="387.6,444.5 378,444.5 376,446.5 376,471" fill="none" stroke="#0d0d0d" stroke-width="1.85" stroke-linejoin="round"/>
<line x1="379" y1="444.5" x2="379" y2="456" stroke="#0d0d0d" stroke-width="0.95"/>
<rect x="377.5" y="448" width="3.5" height="9" rx="0.5" fill="none" stroke="#0d0d0d" stroke-width="1.85"/>
<path d="M 455.0 435.8 L 455.0 438.7 L 473.0 438.7 Q 475.3 438.7 475.3 441.0 L 475.3 471.2" fill="none" stroke="#0d0d0d" stroke-width="1.85" stroke-linejoin="round"/>
<line x1="455" y1="438.7" x2="455" y2="456" stroke="#0d0d0d" stroke-width="0.95"/>
<line x1="458" y1="441.5" x2="473" y2="441.5" stroke="#0d0d0d" stroke-width="0.95"/>
<line x1="472.5" y1="441.5" x2="472.5" y2="471" stroke="#0d0d0d" stroke-width="0.95"/>
<line x1="449.4" y1="445" x2="475.3" y2="445" stroke="#0d0d0d" stroke-width="0.95"/>
<path d="M 406.25 468.9 L 406.25 452.0 Q 406.25 437.25 422.9 437.25 Q 439.3 437.25 439.3 452.0 L 439.3 468.9" fill="none" stroke="#0d0d0d" stroke-width="1.85" stroke-linejoin="round"/>
<path d="M 409.0 468.9 L 409.0 452.5 Q 409.0 440.0 422.9 440.0 Q 436.6 440.0 436.6 452.5 L 436.6 468.9" fill="none" stroke="#0d0d0d" stroke-width="0.95" stroke-linejoin="round"/>
<path d="M 411.5 466.0 L 411.5 453.0 Q 411.5 442.5 422.9 442.5 Q 434.0 442.5 434.0 453.0 L 434.0 466.0" fill="none" stroke="#0d0d0d" stroke-width="0.95" stroke-linejoin="round"/>
<circle cx="422.9" cy="456" r="8.6" fill="none" stroke="#0d0d0d" stroke-width="2.2"/>
<circle cx="422.9" cy="456" r="4.3" fill="none" stroke="#0d0d0d" stroke-width="1.85"/>
<circle cx="422.9" cy="456" r="1.6" fill="none" stroke="#0d0d0d" stroke-width="1.85"/>
<circle cx="422.9" cy="456" r="10.3" fill="none" stroke="#0d0d0d" stroke-width="0.95"/>
<line x1="406.25" y1="468.9" x2="439.3" y2="468.9" stroke="#0d0d0d" stroke-width="1.85"/>
<line x1="411.5" y1="466" x2="434" y2="466" stroke="#0d0d0d" stroke-width="0.95"/>
<rect x="379" y="456" width="12.9" height="10" rx="0.5" fill="none" stroke="#0d0d0d" stroke-width="1.85"/>
<rect x="449.4" y="456" width="12.9" height="10" rx="0.5" fill="none" stroke="#0d0d0d" stroke-width="1.85"/>
<line x1="379" y1="461" x2="391.9" y2="461" stroke="#0d0d0d" stroke-width="0.95"/>
<line x1="449.4" y1="461" x2="462.3" y2="461" stroke="#0d0d0d" stroke-width="0.95"/>
<line x1="383" y1="456" x2="383" y2="466" stroke="#0d0d0d" stroke-width="0.95"/>
<line x1="388" y1="456" x2="388" y2="466" stroke="#0d0d0d" stroke-width="0.95"/>
<line x1="453.5" y1="456" x2="453.5" y2="466" stroke="#0d0d0d" stroke-width="0.95"/>
<line x1="458.5" y1="456" x2="458.5" y2="466" stroke="#0d0d0d" stroke-width="0.95"/>
<line x1="376" y1="466" x2="406" y2="466" stroke="#0d0d0d" stroke-width="1.85"/>
<line x1="439.3" y1="466" x2="475.3" y2="466" stroke="#0d0d0d" stroke-width="1.85"/>
<rect x="368.9" y="471.2" width="109.2" height="17.8" rx="3.5" fill="none" stroke="#0d0d0d" stroke-width="1.85"/>
<line x1="368.9" y1="475" x2="478.1" y2="475" stroke="#0d0d0d" stroke-width="0.95"/>
<line x1="368.9" y1="485.5" x2="478.1" y2="485.5" stroke="#0d0d0d" stroke-width="0.95"/>
<line x1="387.6" y1="471.2" x2="387.6" y2="489" stroke="#0d0d0d" stroke-width="0.95"/>
<line x1="393" y1="471.2" x2="393" y2="489" stroke="#0d0d0d" stroke-width="0.95"/>
<line x1="406.25" y1="471.2" x2="406.25" y2="489" stroke="#0d0d0d" stroke-width="0.95"/>
<line x1="439.3" y1="471.2" x2="439.3" y2="489" stroke="#0d0d0d" stroke-width="0.95"/>
<line x1="455" y1="471.2" x2="455" y2="489" stroke="#0d0d0d" stroke-width="0.95"/>
<line x1="461" y1="471.2" x2="461" y2="489" stroke="#0d0d0d" stroke-width="0.95"/>
<path d="M 371.2 489.0 L 371.2 508.0 Q 371.2 510.6 373.5 510.6 L 473.0 510.6 Q 475.3 510.6 475.3 508.0 L 475.3 489.0" fill="none" stroke="#0d0d0d" stroke-width="1.85" stroke-linejoin="round"/>
<line x1="374.5" y1="489" x2="374.5" y2="510" stroke="#0d0d0d" stroke-width="0.95"/>
<line x1="472" y1="489" x2="472" y2="510" stroke="#0d0d0d" stroke-width="0.95"/>
<line x1="371.2" y1="498" x2="475.3" y2="498" stroke="#0d0d0d" stroke-width="0.95"/>
<line x1="371.2" y1="505.5" x2="475.3" y2="505.5" stroke="#0d0d0d" stroke-width="0.95"/>
<line x1="387.6" y1="489" x2="387.6" y2="505.5" stroke="#0d0d0d" stroke-width="0.95"/>
<line x1="393" y1="489" x2="393" y2="505.5" stroke="#0d0d0d" stroke-width="0.95"/>
<line x1="406.25" y1="489" x2="406.25" y2="505.5" stroke="#0d0d0d" stroke-width="0.95"/>
<line x1="439.3" y1="489" x2="439.3" y2="505.5" stroke="#0d0d0d" stroke-width="0.95"/>
<line x1="455" y1="489" x2="455" y2="505.5" stroke="#0d0d0d" stroke-width="0.95"/>
<line x1="461" y1="489" x2="461" y2="505.5" stroke="#0d0d0d" stroke-width="0.95"/>
<path d="M 413.9 510.6 Q 416.9 505.5 422.9 505.5 Q 428.9 505.5 431.9 510.6" fill="none" stroke="#0d0d0d" stroke-width="1.85" stroke-linejoin="round"/>
<circle cx="422.9" cy="508.3" r="1.2" fill="none" stroke="#0d0d0d" stroke-width="0.7"/>
<polyline points="478.1,487 485.5,489 487.5,494 487.5,530" fill="none" stroke="#0d0d0d" stroke-width="1.85" stroke-linejoin="round"/>
<polyline points="475.3,493 483.5,496 484.8,500 484.8,528" fill="none" stroke="#0d0d0d" stroke-width="0.95" stroke-linejoin="round"/>
<polyline points="487.5,530 489.5,534 489.5,543" fill="none" stroke="#0d0d0d" stroke-width="1.85" stroke-linejoin="round"/>
<polygon points="476.48,511.0 464.24,523.24 463.21,524.66 462.67,526.32 462.67,528.08 463.21,529.74 464.24,531.16 465.66,532.19 467.32,532.73 469.08,532.73 470.74,532.19 472.16,531.16 484.4,518.92 484.4,626.08 472.16,613.84 470.74,612.81 469.08,612.27 467.32,612.27 465.66,612.81 464.24,613.84 463.21,615.26 462.67,616.92 462.67,618.68 463.21,620.34 464.24,621.76 476.48,634.0 369.32,634.0 381.56,621.76 382.59,620.34 383.13,618.68 383.13,616.92 382.59,615.26 381.56,613.84 380.14,612.81 378.48,612.27 376.72,612.27 375.06,612.81 373.64,613.84 361.4,626.08 361.4,518.92 373.64,531.16 375.06,532.19 376.72,532.73 378.48,532.73 380.14,532.19 381.56,531.16 382.59,529.74 383.13,528.08 383.13,526.32 382.59,524.66 381.56,523.24 369.32,511.0" fill="#fff" stroke="#0d0d0d" stroke-width="1.85" stroke-linejoin="round"/>
<line x1="366.4" y1="530.5" x2="366.4" y2="614.5" stroke="#0d0d0d" stroke-width="0.95"/>
<line x1="479.4" y1="530.5" x2="479.4" y2="614.5" stroke="#0d0d0d" stroke-width="0.95"/>
<line x1="377.9" y1="513.5" x2="467.9" y2="513.5" stroke="#0d0d0d" stroke-width="0.95"/>
<line x1="377.9" y1="631.5" x2="467.9" y2="631.5" stroke="#0d0d0d" stroke-width="0.95"/>
<line x1="377.6" y1="527.2" x2="377.6" y2="527.2" stroke="#0d0d0d" stroke-width="0.95"/>
<polyline points="371.9,512.5 364.9,519.5" fill="none" stroke="#0d0d0d" stroke-width="0.95" stroke-linejoin="round"/>
<polyline points="362.9,521.5 369.9,514.5" fill="none" stroke="#0d0d0d" stroke-width="0.95" stroke-linejoin="round"/>
<line x1="377.6" y1="617.8" x2="377.6" y2="617.8" stroke="#0d0d0d" stroke-width="0.95"/>
<polyline points="371.9,632.5 364.9,625.5" fill="none" stroke="#0d0d0d" stroke-width="0.95" stroke-linejoin="round"/>
<polyline points="362.9,623.5 369.9,630.5" fill="none" stroke="#0d0d0d" stroke-width="0.95" stroke-linejoin="round"/>
<circle cx="469.4" cy="526.0" r="2.8" fill="none" stroke="#0d0d0d" stroke-width="0.95"/>
<line x1="468.2" y1="527.2" x2="468.2" y2="527.2" stroke="#0d0d0d" stroke-width="0.95"/>
<polyline points="473.9,512.5 480.9,519.5" fill="none" stroke="#0d0d0d" stroke-width="0.95" stroke-linejoin="round"/>
<polyline points="482.9,521.5 475.9,514.5" fill="none" stroke="#0d0d0d" stroke-width="0.95" stroke-linejoin="round"/>
<circle cx="469.4" cy="619.0" r="2.8" fill="none" stroke="#0d0d0d" stroke-width="0.95"/>
<line x1="468.2" y1="617.8" x2="468.2" y2="617.8" stroke="#0d0d0d" stroke-width="0.95"/>
<polyline points="473.9,632.5 480.9,625.5" fill="none" stroke="#0d0d0d" stroke-width="0.95" stroke-linejoin="round"/>
<polyline points="482.9,623.5 475.9,630.5" fill="none" stroke="#0d0d0d" stroke-width="0.95" stroke-linejoin="round"/>
<circle cx="422.9" cy="572.5" r="51.2" fill="none" stroke="#0d0d0d" stroke-width="1.85"/>
<circle cx="422.9" cy="572.5" r="21.5" fill="none" stroke="#0d0d0d" stroke-width="1.85"/>
<circle cx="422.9" cy="572.5" r="13" fill="none" stroke="#0d0d0d" stroke-width="2.2"/>
<circle cx="422.9" cy="572.5" r="64" fill="none" stroke="#333" stroke-width="0.95" stroke-dasharray="7 2 1.5 2"/>
<rect x="419.2" y="557.4" width="7.8" height="3.8" rx="0.3" fill="none" stroke="#0d0d0d" stroke-width="1.85"/>
<path d="M 371.2 506.0 Q 356.0 507.0 351.0 519.0 Q 348.8 526.0 348.8 540.0 L 348.8 605.0 Q 348.8 620.0 352.0 627.0 Q 358.0 638.0 372.0 640.0" fill="none" stroke="#0d0d0d" stroke-width="1.8" stroke-linejoin="round"/>
<path d="M 368.0 512.0 Q 357.0 514.0 354.0 524.0 Q 352.5 530.0 352.5 540.0" fill="none" stroke="#0d0d0d" stroke-width="1.85" stroke-linejoin="round"/>
<path d="M 352.5 605.0 Q 352.5 618.0 355.5 625.0 Q 360.0 633.0 370.0 636.0" fill="none" stroke="#0d0d0d" stroke-width="1.85" stroke-linejoin="round"/>
<path d="M 360.0 516.0 L 360.0 528.0 L 356.5 531.0" fill="none" stroke="#0d0d0d" stroke-width="1.85" stroke-linejoin="round"/>
<line x1="356.5" y1="531" x2="356.5" y2="547" stroke="#0d0d0d" stroke-width="0.95"/>
<path d="M 360.0 629.0 L 360.0 617.0 L 356.5 614.0" fill="none" stroke="#0d0d0d" stroke-width="1.85" stroke-linejoin="round"/>
<line x1="356.5" y1="614" x2="356.5" y2="598" stroke="#0d0d0d" stroke-width="0.95"/>
<line x1="354.5" y1="540" x2="354.5" y2="605" stroke="#555" stroke-width="2.2"/>
<line x1="358.8" y1="547" x2="358.8" y2="598" stroke="#0d0d0d" stroke-width="1.85"/>
<path d="M 348.8 547.9 L 336.0 547.9 Q 334.0 547.9 334.0 550.0 L 334.0 595.0 Q 334.0 596.9 336.0 596.9 L 348.8 596.9" fill="none" stroke="#0d0d0d" stroke-width="1.85" stroke-linejoin="round"/>
<line x1="345" y1="547.9" x2="345" y2="596.9" stroke="#0d0d0d" stroke-width="1.85"/>
<line x1="341" y1="547.9" x2="341" y2="596.9" stroke="#0d0d0d" stroke-width="0.95"/>
<line x1="337.5" y1="547.9" x2="337.5" y2="596.9" stroke="#0d0d0d" stroke-width="0.95"/>
<path d="M 334.0 550.0 Q 327.6 551.5 327.6 558.5 L 327.6 586.5 Q 327.6 593.5 334.0 595.0" fill="none" stroke="#0d0d0d" stroke-width="2.8" stroke-linejoin="round"/>
<path d="M 334.0 553.5 Q 330.8 555.5 330.8 560.5 L 330.8 584.5 Q 330.8 589.5 334.0 591.5" fill="none" stroke="#0d0d0d" stroke-width="0.95" stroke-linejoin="round"/>
<line x1="334" y1="556" x2="345" y2="556" stroke="#0d0d0d" stroke-width="0.95"/>
<line x1="334" y1="565.7" x2="345" y2="565.7" stroke="#0d0d0d" stroke-width="0.95"/>
<line x1="334" y1="581" x2="345" y2="581" stroke="#0d0d0d" stroke-width="0.95"/>
<line x1="334" y1="590.5" x2="345" y2="590.5" stroke="#0d0d0d" stroke-width="0.95"/>
<line x1="348.8" y1="543" x2="360" y2="543" stroke="#0d0d0d" stroke-width="0.95"/>
<line x1="348.8" y1="601.5" x2="360" y2="601.5" stroke="#0d0d0d" stroke-width="0.95"/>
<line x1="487.5" y1="530" x2="487.5" y2="615" stroke="#0d0d0d" stroke-width="1.85"/>
<line x1="490.5" y1="543" x2="490.5" y2="601" stroke="#0d0d0d" stroke-width="0.95"/>
<path d="M 489.5 543.0 Q 503.0 556.0 503.0 572.5 Q 503.0 589.0 489.5 601.5" fill="none" stroke="#0d0d0d" stroke-width="1.85" stroke-linejoin="round"/>
<path d="M 489.5 548.0 Q 499.5 559.0 499.5 572.5 Q 499.5 586.0 489.5 597.0" fill="none" stroke="#0d0d0d" stroke-width="0.95" stroke-linejoin="round"/>
<line x1="484.4" y1="545" x2="489.5" y2="545" stroke="#0d0d0d" stroke-width="0.95"/>
<line x1="484.4" y1="600" x2="489.5" y2="600" stroke="#0d0d0d" stroke-width="0.95"/>
<polyline points="487.5,615 485,622 478,634" fill="none" stroke="#0d0d0d" stroke-width="1.85" stroke-linejoin="round"/>
<polyline points="372,640 387.5,640 392,655 394,657.5 452,657.5 454,655 458.5,640 470,637" fill="none" stroke="#0d0d0d" stroke-width="1.85" stroke-linejoin="round"/>
<line x1="375" y1="636.5" x2="470" y2="636.5" stroke="#0d0d0d" stroke-width="0.95"/>
<line x1="388" y1="640" x2="458" y2="640" stroke="#0d0d0d" stroke-width="0.95"/>
<line x1="392" y1="655" x2="454" y2="655" stroke="#0d0d0d" stroke-width="0.95"/>
<path d="M 412.9 640.0 L 416.9 645.5 Q 422.9 648.0 428.9 645.5 L 432.9 640.0" fill="none" stroke="#0d0d0d" stroke-width="1.85" stroke-linejoin="round"/>
<rect x="420.9" y="636" width="4" height="8.5" rx="0.5" fill="none" stroke="#0d0d0d" stroke-width="0.95"/>
<line x1="394" y1="657.5" x2="394" y2="659.5" stroke="#0d0d0d" stroke-width="1.85"/>
<line x1="452" y1="657.5" x2="452" y2="659.5" stroke="#0d0d0d" stroke-width="1.85"/>
<line x1="394" y1="659.5" x2="452" y2="659.5" stroke="#0d0d0d" stroke-width="1.85"/>
<polyline points="399,659.5 409.5,669 410.5,671 436.3,671 437.3,669 447.8,659.5" fill="none" stroke="#0d0d0d" stroke-width="1.85" stroke-linejoin="round"/>
<line x1="403" y1="663.5" x2="443.5" y2="663.5" stroke="#0d0d0d" stroke-width="0.95"/>
<line x1="407" y1="667" x2="439.5" y2="667" stroke="#0d0d0d" stroke-width="0.95"/>
<rect x="410.5" y="671" width="25.8" height="4" rx="0.8" fill="none" stroke="#0d0d0d" stroke-width="1.85"/>
<rect x="412" y="675" width="22.8" height="10" rx="1" fill="none" stroke="#0d0d0d" stroke-width="1.85"/>
<line x1="416.5" y1="675" x2="416.5" y2="685" stroke="#0d0d0d" stroke-width="1.85"/>
<line x1="430.3" y1="675" x2="430.3" y2="685" stroke="#0d0d0d" stroke-width="1.85"/>
<path d="M 413.5 685.0 Q 422.9 693.5 433.3 685.0" fill="none" stroke="#0d0d0d" stroke-width="2.0" stroke-linejoin="round"/>
<line x1="415.5" y1="687.3" x2="431.5" y2="687.3" stroke="#0d0d0d" stroke-width="1.8"/>
<line x1="418" y1="689.5" x2="428.5" y2="689.5" stroke="#0d0d0d" stroke-width="1.4"/>
<line x1="422.9" y1="424" x2="422.9" y2="735" stroke="#222" stroke-width="0.95" stroke-dasharray="7 2 1.5 2"/>
<line x1="316" y1="572.5" x2="524" y2="572.5" stroke="#222" stroke-width="0.95" stroke-dasharray="7 2 1.5 2"/>
<line x1="351" y1="432" x2="419" y2="432" stroke="#2a2a2a" stroke-width="0.8"/>
<line x1="355" y1="432" x2="355" y2="572.5" stroke="#2a2a2a" stroke-width="1.05"/>
<polygon points="355,432 356.6,440.5 353.4,440.5" fill="#0d0d0d"/>
<polygon points="355,572.5 353.4,564.0 356.6,564.0" fill="#0d0d0d"/>
<text x="350" y="467.5" font-size="10" text-anchor="middle" fill="#5c5c5c" transform="rotate(-90 350 467.5)">136.5</text>
<line x1="312.3" y1="689.2" x2="413.7" y2="689.2" stroke="#2a2a2a" stroke-width="0.8"/>
<line x1="316.25" y1="572.5" x2="316.25" y2="689.2" stroke="#2a2a2a" stroke-width="1.05"/>
<polygon points="316.25,572.5 317.85,581.0 314.65,581.0" fill="#0d0d0d"/>
<polygon points="316.25,689.2 314.65,680.7 317.85,680.7" fill="#0d0d0d"/>
<text x="311" y="631.5" font-size="10" text-anchor="middle" fill="#5c5c5c" transform="rotate(-90 311 631.5)">114</text>
<line x1="352.6" y1="595" x2="352.6" y2="712" stroke="#2a2a2a" stroke-width="0.8"/>
<line x1="493.2" y1="601" x2="493.2" y2="712" stroke="#2a2a2a" stroke-width="0.8"/>
<line x1="327.9" y1="595" x2="327.9" y2="733" stroke="#2a2a2a" stroke-width="0.8"/>
<line x1="502.9" y1="601.5" x2="502.9" y2="733" stroke="#2a2a2a" stroke-width="0.8"/>
<line x1="352.6" y1="708" x2="422.9" y2="708" stroke="#2a2a2a" stroke-width="1.05"/>
<polygon points="352.6,708 361.1,706.4 361.1,709.6" fill="#0d0d0d"/>
<polygon points="422.9,708 414.4,709.6 414.4,706.4" fill="#0d0d0d"/>
<line x1="422.9" y1="708" x2="493.2" y2="708" stroke="#2a2a2a" stroke-width="1.05"/>
<polygon points="422.9,708 431.4,706.4 431.4,709.6" fill="#0d0d0d"/>
<polygon points="493.2,708 484.7,709.6 484.7,706.4" fill="#0d0d0d"/>
<text x="387" y="703" font-size="10" text-anchor="middle" fill="#5c5c5c">68.5</text>
<text x="458.3" y="703" font-size="10" text-anchor="middle" fill="#5c5c5c">68.5</text>
<line x1="327.9" y1="728.9" x2="422.9" y2="728.9" stroke="#2a2a2a" stroke-width="1.05"/>
<polygon points="327.9,728.9 336.4,727.3 336.4,730.5" fill="#0d0d0d"/>
<polygon points="422.9,728.9 414.4,730.5 414.4,727.3" fill="#0d0d0d"/>
<line x1="422.9" y1="728.9" x2="502.9" y2="728.9" stroke="#2a2a2a" stroke-width="1.05"/>
<polygon points="422.9,728.9 431.4,727.3 431.4,730.5" fill="#0d0d0d"/>
<polygon points="502.9,728.9 494.4,730.5 494.4,727.3" fill="#0d0d0d"/>
<text x="375.4" y="723" font-size="10" text-anchor="middle" fill="#5c5c5c">92.6</text>
<text x="462.5" y="723" font-size="10" text-anchor="middle" fill="#5c5c5c">78</text>
<line x1="399" y1="546.5" x2="446.5" y2="546.5" stroke="#2a2a2a" stroke-width="1.05"/>
<polygon points="419.2,546.5 412.7,547.9 412.7,545.1" fill="#0d0d0d"/>
<polygon points="427,546.5 433.5,545.1 433.5,547.9" fill="#0d0d0d"/>
<line x1="419.2" y1="543.5" x2="419.2" y2="550" stroke="#2a2a2a" stroke-width="1.05"/>
<line x1="427" y1="543.5" x2="427" y2="550" stroke="#2a2a2a" stroke-width="1.05"/>
<text x="422.9" y="541" font-size="10" text-anchor="middle" fill="#5c5c5c">8 h9</text>
<line x1="428" y1="557.4" x2="523" y2="557.4" stroke="#2a2a2a" stroke-width="0.8"/>
<line x1="432" y1="585.3" x2="523" y2="585.3" stroke="#2a2a2a" stroke-width="0.8"/>
<line x1="518.4" y1="510.5" x2="518.4" y2="557.4" stroke="#2a2a2a" stroke-width="1.05"/>
<line x1="518.4" y1="585.3" x2="518.4" y2="597" stroke="#2a2a2a" stroke-width="1.05"/>
<polygon points="518.4,557.4 516.8,548.9 520.0,548.9" fill="#0d0d0d"/>
<polygon points="518.4,585.3 520.0,593.8 516.8,593.8" fill="#0d0d0d"/>
<text x="513" y="525" font-size="10" text-anchor="middle" fill="#5c5c5c" transform="rotate(-90 513 525)">28</text>
<polyline points="516.5,489.4 482.5,489.4 377.7,635.4" fill="none" stroke="#2a2a2a" stroke-width="1.05" stroke-linejoin="round"/>
<polygon points="465.2,513.6 461.83,521.03 459.23,519.16" fill="#0d0d0d"/>
<polygon points="380.6,631.4 383.97,623.97 386.57,625.84" fill="#0d0d0d"/>
<text x="503.75" y="482.7" font-size="10" text-anchor="middle" fill="#5c5c5c">Ø125</text>
<line x1="467.2" y1="624.8" x2="496.2" y2="653.8" stroke="#2a2a2a" stroke-width="0.6"/>
<line x1="475.2" y1="616.8" x2="504.2" y2="645.8" stroke="#2a2a2a" stroke-width="0.6"/>
<line x1="456" y1="682.75" x2="511.25" y2="629.1" stroke="#2a2a2a" stroke-width="1.05"/>
<polygon points="490.95,648.55 487.34,654.14 485.36,652.16" fill="#0d0d0d"/>
<polygon points="498.95,640.55 502.56,634.96 504.54,636.94" fill="#0d0d0d"/>
<text x="462" y="668.5" font-size="10" text-anchor="middle" fill="#5c5c5c" transform="rotate(-45 462 668.5)">ø11</text>
<path d="M 727.0 558.5 L 761.0 558.5 Q 763.8 558.5 763.8 561.5 L 763.8 583.7 Q 763.8 586.7 761.0 586.7 L 727.0 586.7" fill="none" stroke="#0d0d0d" stroke-width="1.85" stroke-linejoin="round"/>
<line x1="760.5" y1="561" x2="727.0" y2="561" stroke="#0d0d0d" stroke-width="0.95"/>
<line x1="727.0" y1="558.5" x2="727.0" y2="586.7" stroke="#0d0d0d" stroke-width="1.85"/>
<polyline points="715.5,521.3 726.5,521.3 726.5,623.9 715.5,623.9" fill="none" stroke="#0d0d0d" stroke-width="1.85" stroke-linejoin="round"/>
<line x1="724.0" y1="521.3" x2="724.0" y2="623.9" stroke="#0d0d0d" stroke-width="0.95"/>
<path d="M 715.5 512.0 Q 715.5 508.75 712.5 508.75 L 705.5 508.75 Q 702.5 508.75 702.5 512.0 L 702.5 633.0 Q 702.5 636.4 705.5 636.4 L 712.5 636.4 Q 715.5 636.4 715.5 633.0 Z" fill="none" stroke="#0d0d0d" stroke-width="1.85" stroke-linejoin="round"/>
<line x1="713.0" y1="511" x2="713.0" y2="634" stroke="#0d0d0d" stroke-width="1.85"/>
<line x1="705.0" y1="511" x2="705.0" y2="634" stroke="#0d0d0d" stroke-width="0.95"/>
<line x1="709.5" y1="520" x2="709.5" y2="625" stroke="#0d0d0d" stroke-width="0.95"/>
<line x1="715.5" y1="517" x2="702.5" y2="517" stroke="#0d0d0d" stroke-width="0.95"/>
<line x1="715.5" y1="628" x2="702.5" y2="628" stroke="#0d0d0d" stroke-width="0.95"/>
<line x1="715.5" y1="521.3" x2="702.5" y2="521.3" stroke="#0d0d0d" stroke-width="0.95"/>
<line x1="715.5" y1="623.9" x2="702.5" y2="623.9" stroke="#0d0d0d" stroke-width="0.95"/>
<path d="M 674.5 470.4 L 674.5 438.0 Q 674.5 435.0 671.5 435.0 L 608.5 435.0 Q 604.5 435.0 602.5 438.0" fill="none" stroke="#0d0d0d" stroke-width="1.85" stroke-linejoin="round"/>
<line x1="671.5" y1="437.5" x2="606.5" y2="437.5" stroke="#0d0d0d" stroke-width="0.95"/>
<line x1="670.5" y1="435" x2="670.5" y2="470" stroke="#0d0d0d" stroke-width="0.95"/>
<line x1="667.5" y1="437.5" x2="667.5" y2="470" stroke="#0d0d0d" stroke-width="0.95"/>
<rect x="674.5" y="447.4" width="5" height="14.4" rx="1" fill="none" stroke="#0d0d0d" stroke-width="1.85"/>
<rect x="589.6" y="461.8" width="74.2" height="8.6" rx="1" fill="none" stroke="#0d0d0d" stroke-width="1.85"/>
<rect x="645.7" y="456" width="12.9" height="5.8" rx="0.5" fill="none" stroke="#0d0d0d" stroke-width="1.85"/>
<rect x="593.9" y="456" width="13" height="5.8" rx="0.5" fill="none" stroke="#0d0d0d" stroke-width="1.85"/>
<line x1="655.5" y1="456" x2="655.5" y2="461.8" stroke="#0d0d0d" stroke-width="0.95"/>
<line x1="649.0" y1="456" x2="649.0" y2="461.8" stroke="#0d0d0d" stroke-width="0.95"/>
<line x1="603.5" y1="456" x2="603.5" y2="461.8" stroke="#0d0d0d" stroke-width="0.95"/>
<line x1="597.0" y1="456" x2="597.0" y2="461.8" stroke="#0d0d0d" stroke-width="0.95"/>
<path d="M 641.5 470.4 L 641.5 450.0 Q 641.5 437.5 627.0 437.5 Q 611.2 437.5 611.2 450.0 L 611.2 470.4" fill="none" stroke="#0d0d0d" stroke-width="1.85" stroke-linejoin="round"/>
<path d="M 639.0 461.8 L 639.0 451.0 Q 639.0 440.0 627.0 440.0 Q 613.7 440.0 613.7 451.0 L 613.7 461.8" fill="none" stroke="#0d0d0d" stroke-width="0.95" stroke-linejoin="round"/>
<circle cx="627.0" cy="453.2" r="10.3" fill="none" stroke="#0d0d0d" stroke-width="2.2"/>
<circle cx="627.0" cy="453.2" r="12.3" fill="none" stroke="#0d0d0d" stroke-width="0.95"/>
<line x1="646.5" y1="440" x2="646.5" y2="456" stroke="#0d0d0d" stroke-width="0.95"/>
<line x1="607.5" y1="440" x2="607.5" y2="456" stroke="#0d0d0d" stroke-width="0.95"/>
<line x1="664.5" y1="445" x2="641.5" y2="445" stroke="#0d0d0d" stroke-width="0.95"/>
<rect x="586.7" y="470.4" width="93.5" height="20.2" rx="3" fill="none" stroke="#0d0d0d" stroke-width="1.85"/>
<line x1="680.2" y1="474" x2="586.75" y2="474" stroke="#0d0d0d" stroke-width="0.95"/>
<line x1="680.2" y1="487" x2="586.75" y2="487" stroke="#0d0d0d" stroke-width="0.95"/>
<line x1="663.8" y1="470.4" x2="663.8" y2="490.6" stroke="#0d0d0d" stroke-width="0.95"/>
<line x1="657.5" y1="470.4" x2="657.5" y2="490.6" stroke="#0d0d0d" stroke-width="0.95"/>
<line x1="641.5" y1="470.4" x2="641.5" y2="490.6" stroke="#0d0d0d" stroke-width="0.95"/>
<line x1="611.2" y1="470.4" x2="611.2" y2="490.6" stroke="#0d0d0d" stroke-width="0.95"/>
<line x1="597.5" y1="470.4" x2="597.5" y2="490.6" stroke="#0d0d0d" stroke-width="0.95"/>
<line x1="589.6" y1="470.4" x2="589.6" y2="490.6" stroke="#0d0d0d" stroke-width="0.95"/>
<path d="M 602.5 438.0 Q 598.5 434.0 590.5 432.0 L 586.5 431.6 L 550.8 431.6 L 550.8 483.4 L 586.5 483.4 L 586.75 470.4" fill="none" stroke="#0d0d0d" stroke-width="1.85" stroke-linejoin="round"/>
<line x1="586.75" y1="431.6" x2="586.75" y2="483.4" stroke="#0d0d0d" stroke-width="0.95"/>
<line x1="568.5" y1="431.6" x2="568.5" y2="483.4" stroke="#0d0d0d" stroke-width="0.95"/>
<line x1="565.3" y1="431.6" x2="565.3" y2="483.4" stroke="#0d0d0d" stroke-width="2.2"/>
<line x1="562.0" y1="431.6" x2="562.0" y2="483.4" stroke="#0d0d0d" stroke-width="0.95"/>
<line x1="554.5" y1="431.6" x2="554.5" y2="483.4" stroke="#0d0d0d" stroke-width="0.95"/>
<line x1="586.75" y1="457" x2="550.8" y2="457" stroke="#0d0d0d" stroke-width="0.95"/>
<rect x="547.3" y="436.5" width="3.5" height="42" rx="0.5" fill="none" stroke="#0d0d0d" stroke-width="1.85"/>
<path d="M 547.3 438.8 L 536.5 438.8 Q 532.1 438.8 532.1 443.0 L 532.1 469.0 Q 532.1 473.3 536.5 473.3 L 547.3 473.3" fill="none" stroke="#0d0d0d" stroke-width="1.85" stroke-linejoin="round"/>
<line x1="544.5" y1="438.8" x2="544.5" y2="473.3" stroke="#0d0d0d" stroke-width="0.95"/>
<line x1="541.5" y1="438.8" x2="541.5" y2="473.3" stroke="#0d0d0d" stroke-width="1.4"/>
<line x1="547.3" y1="456" x2="532.1" y2="456" stroke="#0d0d0d" stroke-width="0.95"/>
<rect x="525.1" y="443" width="7" height="24.6" rx="0.8" fill="none" stroke="#0d0d0d" stroke-width="1.85"/>
<line x1="532.1" y1="448" x2="525.1" y2="448" stroke="#0d0d0d" stroke-width="0.95"/>
<line x1="532.1" y1="463" x2="525.1" y2="463" stroke="#0d0d0d" stroke-width="0.95"/>
<rect x="519.1" y="446" width="6" height="18.5" rx="0.8" fill="none" stroke="#0d0d0d" stroke-width="1.85"/>
<line x1="525.1" y1="451" x2="519.1" y2="451" stroke="#0d0d0d" stroke-width="0.95"/>
<line x1="525.1" y1="460" x2="519.1" y2="460" stroke="#0d0d0d" stroke-width="0.95"/>
<rect x="510.5" y="451.75" width="8.6" height="7.3" rx="0.5" fill="none" stroke="#0d0d0d" stroke-width="1.85"/>
<rect x="505.7" y="448.9" width="4.8" height="12.9" rx="1.2" fill="none" stroke="#0d0d0d" stroke-width="1.85"/>
<line x1="510.5" y1="453.5" x2="505.7" y2="453.5" stroke="#0d0d0d" stroke-width="0.95"/>
<line x1="510.5" y1="457.5" x2="505.7" y2="457.5" stroke="#0d0d0d" stroke-width="0.95"/>
<path d="M 702.5 510.7 L 693.5 510.7 Q 688.0 510.0 684.5 501.0 L 679.3 490.6" fill="none" stroke="#0d0d0d" stroke-width="1.85" stroke-linejoin="round"/>
<path d="M 702.5 514.5 L 692.0 514.5 Q 684.5 513.0 681.0 503.0 L 675.5 490.6" fill="none" stroke="#0d0d0d" stroke-width="0.95" stroke-linejoin="round"/>
<path d="M 670.5 490.6 L 677.5 507.0 Q 679.5 513.0 675.5 520.0 L 667.5 532.0 Q 664.5 537.0 664.5 547.0" fill="none" stroke="#0d0d0d" stroke-width="0.95" stroke-linejoin="round"/>
<path d="M 664.5 490.6 L 672.0 508.0 Q 673.5 513.0 670.0 518.5 L 664.4 527.0" fill="none" stroke="#0d0d0d" stroke-width="0.95" stroke-linejoin="round"/>
<path d="M 702.5 527.0 Q 699.5 523.0 693.5 521.0 Q 684.5 519.0 681.5 512.0" fill="none" stroke="#0d0d0d" stroke-width="0.95" stroke-linejoin="round"/>
<path d="M 702.5 544.0 L 702.5 536.0 Q 701.5 528.0 693.5 526.0 Q 683.5 524.0 679.5 519.0 Q 672.5 527.0 664.5 540.0" fill="none" stroke="#0d0d0d" stroke-width="0.95" stroke-linejoin="round"/>
<path d="M 665.0 621.0 Q 665.0 631.0 654.5 631.0 L 570.8 631.0 L 570.8 510.7 L 654.5 510.7 Q 665.0 510.7 665.0 521.0 Z" fill="none" stroke="#0d0d0d" stroke-width="1.85" stroke-linejoin="round"/>
<path d="M 665.0 524.5 L 570.8 524.5" fill="none" stroke="#0d0d0d" stroke-width="1.85" stroke-linejoin="round"/>
<line x1="665.0" y1="616.5" x2="570.8" y2="616.5" stroke="#0d0d0d" stroke-width="1.85"/>
<path d="M 662.0 604.0 Q 662.0 613.5 652.5 613.5 L 586.0 613.5 L 586.0 527.5 L 652.5 527.5 Q 662.0 527.5 662.0 537.0 Z" fill="none" stroke="#0d0d0d" stroke-width="0.95" stroke-linejoin="round"/>
<line x1="602.0" y1="510.7" x2="602.0" y2="631" stroke="#0d0d0d" stroke-width="0.95"/>
<line x1="586.0" y1="510.7" x2="586.0" y2="631" stroke="#0d0d0d" stroke-width="1.85"/>
<line x1="586.75" y1="490.6" x2="586.75" y2="510.7" stroke="#0d0d0d" stroke-width="1.85"/>
<line x1="589.6" y1="490.6" x2="589.6" y2="510.7" stroke="#0d0d0d" stroke-width="0.95"/>
<path d="M 665.0 521.0 Q 650.5 512.0 630.5 515.0 Q 615.5 517.0 602.0 515.0" fill="none" stroke="#0d0d0d" stroke-width="0.95" stroke-linejoin="round"/>
<path d="M 665.0 621.0 Q 650.5 630.0 630.5 627.0 Q 615.5 625.0 602.0 627.0" fill="none" stroke="#0d0d0d" stroke-width="0.95" stroke-linejoin="round"/>
<circle cx="626.3" cy="572.6" r="26.9" fill="#fff" stroke="#2a2a2a" stroke-width="3.4"/>
<circle cx="626.3" cy="572.6" r="22.5" fill="none" stroke="#0d0d0d" stroke-width="1.85"/>
<circle cx="626.3" cy="572.6" r="18.8" fill="none" stroke="#0d0d0d" stroke-width="2.2"/>
<circle cx="626.3" cy="572.6" r="20.5" fill="none" stroke="#0d0d0d" stroke-width="0.95"/>
<circle cx="626.3" cy="572.6" r="15" fill="none" stroke="#0d0d0d" stroke-width="1.85"/>
<circle cx="626.3" cy="572.6" r="10.5" fill="none" stroke="#0d0d0d" stroke-width="2.2"/>
<circle cx="626.3" cy="572.6" r="4.5" fill="none" stroke="#0d0d0d" stroke-width="2.2"/>
<line x1="608.14" y1="577.47" x2="604.57" y2="578.42" stroke="#0d0d0d" stroke-width="0.95"/>
<line x1="621.43" y1="590.76" x2="620.48" y2="594.33" stroke="#0d0d0d" stroke-width="0.95"/>
<line x1="639.59" y1="585.89" x2="642.21" y2="588.51" stroke="#0d0d0d" stroke-width="0.95"/>
<line x1="644.46" y1="567.73" x2="648.03" y2="566.78" stroke="#0d0d0d" stroke-width="0.95"/>
<line x1="631.17" y1="554.44" x2="632.12" y2="550.87" stroke="#0d0d0d" stroke-width="0.95"/>
<line x1="613.01" y1="559.31" x2="610.39" y2="556.69" stroke="#0d0d0d" stroke-width="0.95"/>
<path d="M 705.5 546.0 Q 714.0 547.0 714.0 556.0 L 714.0 592.0 Q 714.0 601.0 705.5 602.0 L 673.5 602.0 Q 665.0 602.0 665.0 594.0 L 665.0 554.0 Q 665.0 546.0 673.5 546.0 Z" fill="#fff" stroke="#0d0d0d" stroke-width="1.85" stroke-linejoin="round"/>
<path d="M 704.5 549.0 Q 711.0 550.0 711.0 557.0 L 711.0 591.0 Q 711.0 598.0 704.5 599.0 L 674.5 599.0 Q 668.0 599.0 668.0 592.5 L 668.0 555.5 Q 668.0 549.0 674.5 549.0 Z" fill="none" stroke="#0d0d0d" stroke-width="0.95" stroke-linejoin="round"/>
<circle cx="689.6" cy="572.6" r="16.4" fill="none" stroke="#0d0d0d" stroke-width="1.85"/>
<circle cx="689.6" cy="572.6" r="13" fill="none" stroke="#0d0d0d" stroke-width="2.2"/>
<path d="M 583.9 505.0 Q 583.9 501.6 580.5 501.6 L 573.0 501.6 Q 569.5 501.6 569.5 505.0 L 569.5 640.0 Q 569.5 643.6 573.0 643.6 L 580.5 643.6 Q 583.9 643.6 583.9 640.0" fill="none" stroke="#0d0d0d" stroke-width="1.85" stroke-linejoin="round"/>
<line x1="581.0" y1="502" x2="581.0" y2="643" stroke="#0d0d0d" stroke-width="0.95"/>
<line x1="572.5" y1="502" x2="572.5" y2="643" stroke="#0d0d0d" stroke-width="0.95"/>
<line x1="584.2" y1="503" x2="584.2" y2="642.5" stroke="#0d0d0d" stroke-width="3"/>
<polyline points="568.8,504.3 557.0,504.3 557.0,510.6" fill="none" stroke="#0d0d0d" stroke-width="1.85" stroke-linejoin="round"/>
<path d="M 557.0 510.6 Q 551.0 512.6 550.0 519.3" fill="none" stroke="#0d0d0d" stroke-width="1.85" stroke-linejoin="round"/>
<path d="M 568.8 536.1 Q 555.5 534.6 553.0 521.6" fill="none" stroke="#0d0d0d" stroke-width="1.85" stroke-linejoin="round"/>
<path d="M 566.0 539.6 Q 563.5 544.6 564.5 548.6" fill="none" stroke="#0d0d0d" stroke-width="0.95" stroke-linejoin="round"/>
<rect x="557.7" y="548.6" width="11.1" height="17.5" rx="0.8" fill="none" stroke="#0d0d0d" stroke-width="1.85"/>
<line x1="568.8" y1="510.6" x2="557.0" y2="510.6" stroke="#0d0d0d" stroke-width="0.95"/>
<path d="M 553.0 521.6 Q 551.0 542.6 552.2 550.6" fill="none" stroke="#0d0d0d" stroke-width="0.95" stroke-linejoin="round"/>
<polyline points="568.8,640.9 557.0,640.9 557.0,634.6" fill="none" stroke="#0d0d0d" stroke-width="1.85" stroke-linejoin="round"/>
<path d="M 557.0 634.6 Q 551.0 632.6 550.0 625.9" fill="none" stroke="#0d0d0d" stroke-width="1.85" stroke-linejoin="round"/>
<path d="M 568.8 609.1 Q 555.5 610.6 553.0 623.6" fill="none" stroke="#0d0d0d" stroke-width="1.85" stroke-linejoin="round"/>
<path d="M 566.0 605.6 Q 563.5 600.6 564.5 596.6" fill="none" stroke="#0d0d0d" stroke-width="0.95" stroke-linejoin="round"/>
<rect x="557.7" y="579.1" width="11.1" height="17.5" rx="0.8" fill="none" stroke="#0d0d0d" stroke-width="1.85"/>
<line x1="568.8" y1="634.6" x2="557.0" y2="634.6" stroke="#0d0d0d" stroke-width="0.95"/>
<path d="M 553.0 623.6 Q 551.0 602.6 552.2 594.6" fill="none" stroke="#0d0d0d" stroke-width="0.95" stroke-linejoin="round"/>
<rect x="544.3" y="519.3" width="7.9" height="105.4" rx="2.5" fill="none" stroke="#0d0d0d" stroke-width="1.85"/>
<line x1="549.5" y1="521" x2="549.5" y2="623" stroke="#0d0d0d" stroke-width="0.95"/>
<line x1="547.0" y1="521" x2="547.0" y2="623" stroke="#0d0d0d" stroke-width="0.95"/>
<line x1="557.7" y1="566.1" x2="557.7" y2="579.1" stroke="#0d0d0d" stroke-width="0.95"/>
<polyline points="702.5,623 660.1,647.6" fill="none" stroke="#0d0d0d" stroke-width="1.85" stroke-linejoin="round"/>
<polyline points="702.5,618.5 664.4,640.5" fill="none" stroke="#0d0d0d" stroke-width="0.95" stroke-linejoin="round"/>
<path d="M 702.5 600.75 L 702.5 607.0 Q 701.5 615.0 693.5 617.0 Q 683.5 619.0 679.5 624.0 Q 674.5 628.0 673.5 634.0 L 671.5 641.0" fill="none" stroke="#0d0d0d" stroke-width="0.95" stroke-linejoin="round"/>
<path d="M 696.5 600.75 Q 695.5 611.0 687.5 613.0 Q 677.5 615.0 672.5 621.0 Q 666.5 627.0 664.5 634.0" fill="none" stroke="#0d0d0d" stroke-width="0.95" stroke-linejoin="round"/>
<path d="M 702.5 623.0 L 693.5 623.0 Q 684.5 624.0 680.5 630.0 L 678.5 636.5" fill="none" stroke="#0d0d0d" stroke-width="0.95" stroke-linejoin="round"/>
<path d="M 660.1 656.0 L 660.1 639.0 L 639.5 630.5 Q 632.5 628.5 632.0 625.0 Q 627.5 621.5 625.5 621.5 Q 622.0 621.5 618.5 625.0 Q 617.5 628.5 610.5 631.0 L 591.1 641.8 L 591.1 656.0 Q 591.1 657.6 593.0 657.6 L 658.2 657.6 Q 660.1 657.6 660.1 656.0" fill="none" stroke="#0d0d0d" stroke-width="1.85" stroke-linejoin="round"/>
<path d="M 625.5 624.6 Q 633.5 632.0 633.5 642.0 Q 632.5 651.9 625.5 651.9 Q 618.0 651.9 617.0 642.0 Q 617.5 632.0 625.5 624.6" fill="none" stroke="#0d0d0d" stroke-width="1.85" stroke-linejoin="round"/>
<line x1="660.1" y1="652" x2="591.1" y2="652" stroke="#0d0d0d" stroke-width="0.95"/>
<line x1="591.1" y1="641.8" x2="583.9" y2="643.6" stroke="#0d0d0d" stroke-width="0.95"/>
<polyline points="650.0,657.6 642.0,667 641.5,669 609.75,669 609.3,667 602.5,657.6" fill="none" stroke="#0d0d0d" stroke-width="1.85" stroke-linejoin="round"/>
<line x1="646.5" y1="662" x2="606.0" y2="662" stroke="#0d0d0d" stroke-width="0.95"/>
<line x1="643.5" y1="665.5" x2="608.0" y2="665.5" stroke="#0d0d0d" stroke-width="0.95"/>
<rect x="609.75" y="669" width="31.75" height="5" rx="0.8" fill="none" stroke="#0d0d0d" stroke-width="1.85"/>
<rect x="611.7" y="674" width="27.8" height="11" rx="1" fill="none" stroke="#0d0d0d" stroke-width="1.85"/>
<line x1="634.5" y1="674" x2="634.5" y2="685" stroke="#0d0d0d" stroke-width="1.85"/>
<line x1="617.0" y1="674" x2="617.0" y2="685" stroke="#0d0d0d" stroke-width="1.85"/>
<path d="M 636.5 685.0 Q 625.5 694.0 614.5 685.0" fill="none" stroke="#0d0d0d" stroke-width="1.8" stroke-linejoin="round"/>
<line x1="634.5" y1="687.5" x2="616.5" y2="687.5" stroke="#0d0d0d" stroke-width="1.6"/>
<line x1="631.5" y1="690" x2="619.5" y2="690" stroke="#0d0d0d" stroke-width="1.4"/>
<line x1="629.5" y1="686" x2="629.5" y2="691" stroke="#0d0d0d" stroke-width="0.8"/>
<line x1="627.0" y1="686" x2="627.0" y2="691" stroke="#0d0d0d" stroke-width="0.8"/>
<line x1="624.5" y1="686" x2="624.5" y2="691" stroke="#0d0d0d" stroke-width="0.8"/>
<line x1="622.0" y1="686" x2="622.0" y2="691" stroke="#0d0d0d" stroke-width="0.8"/>
<line x1="539" y1="572.6" x2="768" y2="572.6" stroke="#222" stroke-width="0.95" stroke-dasharray="7 2 1.5 2"/>
<line x1="689.6" y1="552" x2="689.6" y2="668" stroke="#222" stroke-width="0.95" stroke-dasharray="7 2 1.5 2"/>
<text x="762.5" y="521.5" font-size="11.4" text-anchor="middle" fill="#5c5c5c">Outlet port</text>
<text x="762.5" y="539" font-size="11.4" text-anchor="middle" fill="#5c5c5c">3/4" Gas BSP</text>
<line x1="696" y1="564.8" x2="728.4" y2="541.75" stroke="#2a2a2a" stroke-width="1.05"/>
<polygon points="693.9,566.2 699.49,560.26 701.35,562.87" fill="#0d0d0d"/>
<line x1="715.5" y1="637" x2="715.5" y2="668" stroke="#2a2a2a" stroke-width="0.8"/>
<line x1="668.75" y1="665" x2="689.6" y2="665" stroke="#2a2a2a" stroke-width="1.05"/>
<line x1="715.5" y1="665" x2="736.25" y2="665" stroke="#2a2a2a" stroke-width="1.05"/>
<polygon points="689.6,665 681.1,666.6 681.1,663.4" fill="#0d0d0d"/>
<polygon points="715.5,665 724.0,663.4 724.0,666.6" fill="#0d0d0d"/>
<text x="701.75" y="659.5" font-size="10" text-anchor="middle" fill="#5c5c5c">26</text>
</svg>
</body></html>
